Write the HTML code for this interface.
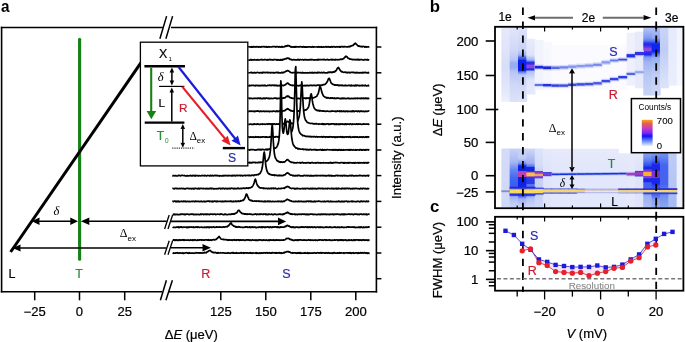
<!DOCTYPE html>
<html><head><meta charset="utf-8"><style>
html,body{margin:0;padding:0;background:#fff;width:685px;height:342px;overflow:hidden}
svg{display:block;will-change:transform}

</style></head><body>
<svg width="685" height="342" viewBox="0 0 685 342">
<rect width="685" height="342" fill="#fff"/>
<text transform="translate(1.1,11.5) scale(0.91,1)" font-size="16.8" text-anchor="start" fill="#000" font-family='"Liberation Sans", sans-serif' font-weight="bold">a</text>
<polygon points="248.3,47.08 248.8,46.87 249.3,46.99 249.8,46.83 250.3,46.81 250.8,47.20 251.3,47.24 251.8,46.66 252.3,47.07 252.8,47.08 253.3,46.55 253.8,46.92 254.3,46.66 254.8,46.92 255.3,46.80 255.8,47.14 256.3,46.80 256.8,46.64 257.3,46.88 257.8,46.73 258.3,46.78 258.8,47.20 259.3,46.72 259.8,46.83 260.3,47.04 260.8,47.23 261.3,46.64 261.8,46.92 262.3,46.75 262.8,46.63 263.3,46.75 263.8,46.60 264.3,46.97 264.8,46.69 265.3,46.94 265.8,46.59 266.3,46.63 266.8,47.18 267.3,47.15 267.8,47.10 268.3,46.57 268.8,46.94 269.3,46.81 269.8,47.04 270.3,46.89 270.8,46.98 271.3,47.00 271.8,46.84 272.3,46.84 272.8,46.62 273.3,46.77 273.8,46.60 274.3,46.65 274.8,46.55 275.3,46.78 275.8,47.13 276.3,46.65 276.8,46.57 277.3,46.61 277.8,46.85 278.3,46.75 278.8,47.10 279.3,46.67 279.8,46.85 280.3,47.05 280.8,47.20 281.3,46.65 281.8,46.55 282.3,47.17 282.8,46.65 283.3,46.88 283.8,47.00 284.3,46.80 284.8,46.33 285.3,46.09 285.8,46.47 286.3,45.88 286.8,46.12 287.3,45.56 287.8,45.82 288.3,45.51 288.8,45.59 289.3,46.11 289.8,45.96 290.3,46.62 290.8,46.93 291.3,46.67 291.8,47.14 292.3,47.06 292.8,46.94 293.3,46.81 293.8,47.13 294.3,47.22 294.8,46.64 295.3,47.03 295.8,46.58 296.3,46.62 296.8,46.98 297.3,46.92 297.8,46.88 298.3,46.80 298.8,46.83 299.3,46.85 299.8,46.81 300.3,46.59 300.8,46.89 301.3,46.94 301.8,46.74 302.3,47.08 302.8,47.03 303.3,46.56 303.8,46.88 304.3,46.86 304.8,47.24 305.3,46.95 305.8,46.84 306.3,47.23 306.8,46.81 307.3,46.80 307.8,47.20 308.3,46.80 308.8,46.92 309.3,46.77 309.8,47.00 310.3,46.75 310.8,46.73 311.3,47.23 311.8,47.20 312.3,46.77 312.8,46.57 313.3,47.07 313.8,46.92 314.3,46.83 314.8,47.02 315.3,46.99 315.8,47.02 316.3,46.98 316.8,46.82 317.3,47.03 317.8,46.98 318.3,46.70 318.8,47.22 319.3,46.84 319.8,46.73 320.3,47.02 320.8,47.08 321.3,46.68 321.8,47.07 322.3,47.11 322.8,46.93 323.3,46.75 323.8,47.17 324.3,47.01 324.8,47.00 325.3,46.65 325.8,46.93 326.3,46.64 326.8,47.12 327.3,47.00 327.8,46.78 328.3,46.61 328.8,46.92 329.3,47.07 329.8,47.15 330.3,46.86 330.8,47.09 331.3,46.66 331.8,46.64 332.3,47.10 332.8,47.03 333.3,46.66 333.8,46.77 334.3,46.66 334.8,46.98 335.3,47.13 335.8,47.01 336.3,46.66 336.8,47.02 337.3,46.97 337.8,46.92 338.3,46.91 338.8,46.92 339.3,46.55 339.8,47.09 340.3,47.19 340.8,46.53 341.3,46.57 341.8,46.49 342.3,46.87 342.8,46.50 343.3,46.51 343.8,47.00 344.3,46.62 344.8,46.55 345.3,46.66 345.8,46.75 346.3,46.89 346.8,46.84 347.3,46.89 347.8,46.98 348.3,46.58 348.8,46.76 349.3,46.34 349.8,46.82 350.3,46.15 350.8,46.20 351.3,45.91 351.8,45.77 352.3,45.54 352.8,45.46 353.3,45.44 353.8,44.40 354.3,44.19 354.8,43.59 355.3,43.20 355.8,43.61 356.3,44.26 356.8,44.49 357.3,45.20 357.8,45.76 358.3,46.09 358.8,45.86 359.3,46.28 359.8,46.18 360.3,46.56 360.8,46.74 361.3,46.56 361.8,46.40 362.3,46.89 362.8,46.48 363.3,46.42 363.8,46.52 364.3,46.52 364.8,47.11 365.3,46.69 365.8,46.53 366.3,47.11 366.8,46.97 367.3,46.98 367.8,46.80 368.3,46.88 368.8,46.85 369.3,46.64 369.6,47.50 248.3,47.50" fill="#fff"/>
<polyline points="248.3,47.08 248.8,46.87 249.3,46.99 249.8,46.83 250.3,46.81 250.8,47.20 251.3,47.24 251.8,46.66 252.3,47.07 252.8,47.08 253.3,46.55 253.8,46.92 254.3,46.66 254.8,46.92 255.3,46.80 255.8,47.14 256.3,46.80 256.8,46.64 257.3,46.88 257.8,46.73 258.3,46.78 258.8,47.20 259.3,46.72 259.8,46.83 260.3,47.04 260.8,47.23 261.3,46.64 261.8,46.92 262.3,46.75 262.8,46.63 263.3,46.75 263.8,46.60 264.3,46.97 264.8,46.69 265.3,46.94 265.8,46.59 266.3,46.63 266.8,47.18 267.3,47.15 267.8,47.10 268.3,46.57 268.8,46.94 269.3,46.81 269.8,47.04 270.3,46.89 270.8,46.98 271.3,47.00 271.8,46.84 272.3,46.84 272.8,46.62 273.3,46.77 273.8,46.60 274.3,46.65 274.8,46.55 275.3,46.78 275.8,47.13 276.3,46.65 276.8,46.57 277.3,46.61 277.8,46.85 278.3,46.75 278.8,47.10 279.3,46.67 279.8,46.85 280.3,47.05 280.8,47.20 281.3,46.65 281.8,46.55 282.3,47.17 282.8,46.65 283.3,46.88 283.8,47.00 284.3,46.80 284.8,46.33 285.3,46.09 285.8,46.47 286.3,45.88 286.8,46.12 287.3,45.56 287.8,45.82 288.3,45.51 288.8,45.59 289.3,46.11 289.8,45.96 290.3,46.62 290.8,46.93 291.3,46.67 291.8,47.14 292.3,47.06 292.8,46.94 293.3,46.81 293.8,47.13 294.3,47.22 294.8,46.64 295.3,47.03 295.8,46.58 296.3,46.62 296.8,46.98 297.3,46.92 297.8,46.88 298.3,46.80 298.8,46.83 299.3,46.85 299.8,46.81 300.3,46.59 300.8,46.89 301.3,46.94 301.8,46.74 302.3,47.08 302.8,47.03 303.3,46.56 303.8,46.88 304.3,46.86 304.8,47.24 305.3,46.95 305.8,46.84 306.3,47.23 306.8,46.81 307.3,46.80 307.8,47.20 308.3,46.80 308.8,46.92 309.3,46.77 309.8,47.00 310.3,46.75 310.8,46.73 311.3,47.23 311.8,47.20 312.3,46.77 312.8,46.57 313.3,47.07 313.8,46.92 314.3,46.83 314.8,47.02 315.3,46.99 315.8,47.02 316.3,46.98 316.8,46.82 317.3,47.03 317.8,46.98 318.3,46.70 318.8,47.22 319.3,46.84 319.8,46.73 320.3,47.02 320.8,47.08 321.3,46.68 321.8,47.07 322.3,47.11 322.8,46.93 323.3,46.75 323.8,47.17 324.3,47.01 324.8,47.00 325.3,46.65 325.8,46.93 326.3,46.64 326.8,47.12 327.3,47.00 327.8,46.78 328.3,46.61 328.8,46.92 329.3,47.07 329.8,47.15 330.3,46.86 330.8,47.09 331.3,46.66 331.8,46.64 332.3,47.10 332.8,47.03 333.3,46.66 333.8,46.77 334.3,46.66 334.8,46.98 335.3,47.13 335.8,47.01 336.3,46.66 336.8,47.02 337.3,46.97 337.8,46.92 338.3,46.91 338.8,46.92 339.3,46.55 339.8,47.09 340.3,47.19 340.8,46.53 341.3,46.57 341.8,46.49 342.3,46.87 342.8,46.50 343.3,46.51 343.8,47.00 344.3,46.62 344.8,46.55 345.3,46.66 345.8,46.75 346.3,46.89 346.8,46.84 347.3,46.89 347.8,46.98 348.3,46.58 348.8,46.76 349.3,46.34 349.8,46.82 350.3,46.15 350.8,46.20 351.3,45.91 351.8,45.77 352.3,45.54 352.8,45.46 353.3,45.44 353.8,44.40 354.3,44.19 354.8,43.59 355.3,43.20 355.8,43.61 356.3,44.26 356.8,44.49 357.3,45.20 357.8,45.76 358.3,46.09 358.8,45.86 359.3,46.28 359.8,46.18 360.3,46.56 360.8,46.74 361.3,46.56 361.8,46.40 362.3,46.89 362.8,46.48 363.3,46.42 363.8,46.52 364.3,46.52 364.8,47.11 365.3,46.69 365.8,46.53 366.3,47.11 366.8,46.97 367.3,46.98 367.8,46.80 368.3,46.88 368.8,46.85 369.3,46.64" fill="none" stroke="#000" stroke-width="1.7" stroke-linejoin="round"/>
<polygon points="248.3,60.13 248.8,60.09 249.3,60.04 249.8,60.04 250.3,60.08 250.8,59.45 251.3,59.53 251.8,60.07 252.3,59.78 252.8,59.91 253.3,59.91 253.8,59.88 254.3,59.68 254.8,59.72 255.3,59.88 255.8,59.99 256.3,59.90 256.8,60.04 257.3,59.74 257.8,59.63 258.3,59.86 258.8,60.07 259.3,60.00 259.8,59.87 260.3,59.71 260.8,59.58 261.3,59.86 261.8,59.57 262.3,59.69 262.8,59.83 263.3,59.87 263.8,59.78 264.3,59.64 264.8,59.83 265.3,59.64 265.8,59.81 266.3,59.96 266.8,59.75 267.3,59.64 267.8,60.08 268.3,59.83 268.8,59.83 269.3,59.51 269.8,59.47 270.3,59.87 270.8,59.50 271.3,59.57 271.8,59.94 272.3,59.80 272.8,60.04 273.3,59.56 273.8,59.66 274.3,59.51 274.8,59.57 275.3,59.66 275.8,59.61 276.3,59.73 276.8,60.06 277.3,59.72 277.8,60.12 278.3,60.03 278.8,59.59 279.3,60.10 279.8,60.06 280.3,60.06 280.8,59.51 281.3,60.00 281.8,60.10 282.3,59.51 282.8,59.99 283.3,59.43 283.8,59.47 284.3,59.22 284.8,58.96 285.3,58.99 285.8,58.58 286.3,58.86 286.8,58.13 287.3,58.19 287.8,58.04 288.3,58.56 288.8,58.31 289.3,58.43 289.8,59.30 290.3,59.35 290.8,59.38 291.3,59.34 291.8,59.84 292.3,59.94 292.8,59.92 293.3,59.68 293.8,59.59 294.3,59.85 294.8,59.87 295.3,59.85 295.8,59.88 296.3,59.83 296.8,60.07 297.3,59.77 297.8,59.44 298.3,59.84 298.8,59.60 299.3,60.01 299.8,59.64 300.3,59.59 300.8,59.65 301.3,59.76 301.8,59.79 302.3,59.67 302.8,59.50 303.3,60.02 303.8,60.06 304.3,59.60 304.8,59.48 305.3,59.76 305.8,59.81 306.3,59.62 306.8,59.99 307.3,59.93 307.8,59.98 308.3,59.71 308.8,59.90 309.3,59.96 309.8,59.64 310.3,59.45 310.8,59.91 311.3,59.63 311.8,59.83 312.3,59.52 312.8,59.71 313.3,59.93 313.8,59.97 314.3,60.10 314.8,59.78 315.3,59.85 315.8,60.00 316.3,59.86 316.8,59.89 317.3,59.57 317.8,60.01 318.3,59.42 318.8,59.78 319.3,59.69 319.8,59.78 320.3,59.53 320.8,59.54 321.3,59.72 321.8,59.77 322.3,59.60 322.8,59.51 323.3,59.83 323.8,59.59 324.3,59.43 324.8,59.78 325.3,59.94 325.8,59.94 326.3,59.60 326.8,59.62 327.3,59.42 327.8,59.50 328.3,59.92 328.8,59.96 329.3,59.91 329.8,59.95 330.3,59.59 330.8,59.48 331.3,59.45 331.8,59.89 332.3,59.46 332.8,59.84 333.3,59.76 333.8,59.54 334.3,59.98 334.8,59.97 335.3,59.44 335.8,59.81 336.3,59.76 336.8,59.59 337.3,59.51 337.8,59.96 338.3,59.71 338.8,59.61 339.3,59.54 339.8,59.70 340.3,59.39 340.8,59.07 341.3,59.40 341.8,59.19 342.3,59.37 342.8,59.09 343.3,58.59 343.8,58.67 344.3,57.72 344.8,57.18 345.3,57.17 345.8,56.15 346.3,56.51 346.8,56.60 347.3,57.17 347.8,58.03 348.3,58.20 348.8,58.55 349.3,58.68 349.8,59.23 350.3,59.02 350.8,58.98 351.3,59.26 351.8,59.41 352.3,59.76 352.8,59.53 353.3,59.66 353.8,59.43 354.3,59.48 354.8,59.58 355.3,59.86 355.8,59.55 356.3,59.57 356.8,59.90 357.3,59.41 357.8,59.58 358.3,59.96 358.8,59.40 359.3,59.96 359.8,59.83 360.3,59.57 360.8,59.66 361.3,59.69 361.8,59.63 362.3,59.76 362.8,59.87 363.3,59.97 363.8,60.04 364.3,59.59 364.8,59.57 365.3,59.72 365.8,59.58 366.3,59.85 366.8,59.92 367.3,59.83 367.8,59.49 368.3,60.08 368.8,59.75 369.3,59.93 369.6,60.38 248.3,60.38" fill="#fff"/>
<polyline points="248.3,60.13 248.8,60.09 249.3,60.04 249.8,60.04 250.3,60.08 250.8,59.45 251.3,59.53 251.8,60.07 252.3,59.78 252.8,59.91 253.3,59.91 253.8,59.88 254.3,59.68 254.8,59.72 255.3,59.88 255.8,59.99 256.3,59.90 256.8,60.04 257.3,59.74 257.8,59.63 258.3,59.86 258.8,60.07 259.3,60.00 259.8,59.87 260.3,59.71 260.8,59.58 261.3,59.86 261.8,59.57 262.3,59.69 262.8,59.83 263.3,59.87 263.8,59.78 264.3,59.64 264.8,59.83 265.3,59.64 265.8,59.81 266.3,59.96 266.8,59.75 267.3,59.64 267.8,60.08 268.3,59.83 268.8,59.83 269.3,59.51 269.8,59.47 270.3,59.87 270.8,59.50 271.3,59.57 271.8,59.94 272.3,59.80 272.8,60.04 273.3,59.56 273.8,59.66 274.3,59.51 274.8,59.57 275.3,59.66 275.8,59.61 276.3,59.73 276.8,60.06 277.3,59.72 277.8,60.12 278.3,60.03 278.8,59.59 279.3,60.10 279.8,60.06 280.3,60.06 280.8,59.51 281.3,60.00 281.8,60.10 282.3,59.51 282.8,59.99 283.3,59.43 283.8,59.47 284.3,59.22 284.8,58.96 285.3,58.99 285.8,58.58 286.3,58.86 286.8,58.13 287.3,58.19 287.8,58.04 288.3,58.56 288.8,58.31 289.3,58.43 289.8,59.30 290.3,59.35 290.8,59.38 291.3,59.34 291.8,59.84 292.3,59.94 292.8,59.92 293.3,59.68 293.8,59.59 294.3,59.85 294.8,59.87 295.3,59.85 295.8,59.88 296.3,59.83 296.8,60.07 297.3,59.77 297.8,59.44 298.3,59.84 298.8,59.60 299.3,60.01 299.8,59.64 300.3,59.59 300.8,59.65 301.3,59.76 301.8,59.79 302.3,59.67 302.8,59.50 303.3,60.02 303.8,60.06 304.3,59.60 304.8,59.48 305.3,59.76 305.8,59.81 306.3,59.62 306.8,59.99 307.3,59.93 307.8,59.98 308.3,59.71 308.8,59.90 309.3,59.96 309.8,59.64 310.3,59.45 310.8,59.91 311.3,59.63 311.8,59.83 312.3,59.52 312.8,59.71 313.3,59.93 313.8,59.97 314.3,60.10 314.8,59.78 315.3,59.85 315.8,60.00 316.3,59.86 316.8,59.89 317.3,59.57 317.8,60.01 318.3,59.42 318.8,59.78 319.3,59.69 319.8,59.78 320.3,59.53 320.8,59.54 321.3,59.72 321.8,59.77 322.3,59.60 322.8,59.51 323.3,59.83 323.8,59.59 324.3,59.43 324.8,59.78 325.3,59.94 325.8,59.94 326.3,59.60 326.8,59.62 327.3,59.42 327.8,59.50 328.3,59.92 328.8,59.96 329.3,59.91 329.8,59.95 330.3,59.59 330.8,59.48 331.3,59.45 331.8,59.89 332.3,59.46 332.8,59.84 333.3,59.76 333.8,59.54 334.3,59.98 334.8,59.97 335.3,59.44 335.8,59.81 336.3,59.76 336.8,59.59 337.3,59.51 337.8,59.96 338.3,59.71 338.8,59.61 339.3,59.54 339.8,59.70 340.3,59.39 340.8,59.07 341.3,59.40 341.8,59.19 342.3,59.37 342.8,59.09 343.3,58.59 343.8,58.67 344.3,57.72 344.8,57.18 345.3,57.17 345.8,56.15 346.3,56.51 346.8,56.60 347.3,57.17 347.8,58.03 348.3,58.20 348.8,58.55 349.3,58.68 349.8,59.23 350.3,59.02 350.8,58.98 351.3,59.26 351.8,59.41 352.3,59.76 352.8,59.53 353.3,59.66 353.8,59.43 354.3,59.48 354.8,59.58 355.3,59.86 355.8,59.55 356.3,59.57 356.8,59.90 357.3,59.41 357.8,59.58 358.3,59.96 358.8,59.40 359.3,59.96 359.8,59.83 360.3,59.57 360.8,59.66 361.3,59.69 361.8,59.63 362.3,59.76 362.8,59.87 363.3,59.97 363.8,60.04 364.3,59.59 364.8,59.57 365.3,59.72 365.8,59.58 366.3,59.85 366.8,59.92 367.3,59.83 367.8,59.49 368.3,60.08 368.8,59.75 369.3,59.93" fill="none" stroke="#000" stroke-width="1.7" stroke-linejoin="round"/>
<polygon points="248.3,72.47 248.8,72.76 249.3,72.77 249.8,72.73 250.3,72.63 250.8,72.47 251.3,72.76 251.8,72.42 252.3,72.93 252.8,72.82 253.3,72.94 253.8,72.93 254.3,72.46 254.8,72.50 255.3,72.88 255.8,72.88 256.3,72.72 256.8,72.49 257.3,72.44 257.8,72.48 258.3,72.59 258.8,72.90 259.3,72.73 259.8,72.87 260.3,72.64 260.8,72.61 261.3,72.87 261.8,72.83 262.3,72.46 262.8,72.99 263.3,72.44 263.8,72.38 264.3,72.34 264.8,72.74 265.3,72.62 265.8,72.60 266.3,72.56 266.8,72.32 267.3,72.53 267.8,72.80 268.3,72.40 268.8,72.67 269.3,72.59 269.8,72.50 270.3,73.00 270.8,72.47 271.3,72.54 271.8,72.66 272.3,72.64 272.8,72.68 273.3,72.87 273.8,72.64 274.3,72.98 274.8,72.66 275.3,72.55 275.8,72.69 276.3,72.61 276.8,72.33 277.3,72.38 277.8,72.91 278.3,72.45 278.8,72.57 279.3,72.97 279.8,72.75 280.3,72.84 280.8,72.95 281.3,72.62 281.8,72.34 282.3,72.75 282.8,72.34 283.3,72.40 283.8,72.70 284.3,72.04 284.8,72.02 285.3,71.53 285.8,71.39 286.3,71.08 286.8,71.13 287.3,70.66 287.8,70.56 288.3,70.73 288.8,71.24 289.3,71.30 289.8,71.78 290.3,72.31 290.8,72.58 291.3,72.71 291.8,72.73 292.3,72.82 292.8,72.62 293.3,72.50 293.8,72.62 294.3,72.70 294.8,72.55 295.3,72.79 295.8,72.68 296.3,72.47 296.8,72.72 297.3,72.87 297.8,72.37 298.3,72.50 298.8,72.74 299.3,72.74 299.8,72.63 300.3,72.58 300.8,72.84 301.3,73.00 301.8,72.85 302.3,72.45 302.8,72.90 303.3,72.67 303.8,72.86 304.3,72.85 304.8,72.88 305.3,72.71 305.8,72.88 306.3,72.97 306.8,72.92 307.3,72.88 307.8,72.65 308.3,72.95 308.8,72.98 309.3,72.68 309.8,72.70 310.3,72.50 310.8,72.95 311.3,72.71 311.8,72.71 312.3,72.97 312.8,72.31 313.3,72.83 313.8,72.92 314.3,72.65 314.8,72.87 315.3,72.54 315.8,72.74 316.3,72.89 316.8,72.94 317.3,72.46 317.8,72.78 318.3,72.42 318.8,72.64 319.3,72.31 319.8,72.75 320.3,72.78 320.8,72.77 321.3,72.38 321.8,72.51 322.3,72.71 322.8,72.88 323.3,72.46 323.8,72.25 324.3,72.51 324.8,72.92 325.3,72.89 325.8,72.84 326.3,72.78 326.8,72.86 327.3,72.84 327.8,72.41 328.3,72.22 328.8,72.69 329.3,72.13 329.8,72.46 330.3,72.20 330.8,72.09 331.3,72.03 331.8,72.62 332.3,72.37 332.8,72.09 333.3,71.75 333.8,72.23 334.3,71.93 334.8,71.32 335.3,71.54 335.8,70.94 336.3,70.41 336.8,69.42 337.3,68.36 337.8,68.12 338.3,67.51 338.8,68.00 339.3,68.78 339.8,69.83 340.3,70.25 340.8,71.14 341.3,71.46 341.8,71.85 342.3,71.66 342.8,72.01 343.3,72.27 343.8,72.42 344.3,72.11 344.8,72.24 345.3,72.21 345.8,72.47 346.3,72.43 346.8,72.69 347.3,72.32 347.8,72.82 348.3,72.53 348.8,72.34 349.3,72.41 349.8,72.82 350.3,72.74 350.8,72.32 351.3,72.47 351.8,72.31 352.3,72.32 352.8,72.62 353.3,72.31 353.8,72.43 354.3,72.71 354.8,72.69 355.3,72.90 355.8,72.68 356.3,72.29 356.8,72.89 357.3,72.57 357.8,72.89 358.3,72.91 358.8,72.52 359.3,72.81 359.8,72.94 360.3,72.87 360.8,72.53 361.3,72.57 361.8,72.97 362.3,72.82 362.8,72.31 363.3,72.83 363.8,72.59 364.3,72.69 364.8,72.44 365.3,72.56 365.8,72.44 366.3,72.61 366.8,72.86 367.3,72.87 367.8,72.94 368.3,72.41 368.8,72.91 369.3,72.98 369.6,73.26 248.3,73.26" fill="#fff"/>
<polyline points="248.3,72.47 248.8,72.76 249.3,72.77 249.8,72.73 250.3,72.63 250.8,72.47 251.3,72.76 251.8,72.42 252.3,72.93 252.8,72.82 253.3,72.94 253.8,72.93 254.3,72.46 254.8,72.50 255.3,72.88 255.8,72.88 256.3,72.72 256.8,72.49 257.3,72.44 257.8,72.48 258.3,72.59 258.8,72.90 259.3,72.73 259.8,72.87 260.3,72.64 260.8,72.61 261.3,72.87 261.8,72.83 262.3,72.46 262.8,72.99 263.3,72.44 263.8,72.38 264.3,72.34 264.8,72.74 265.3,72.62 265.8,72.60 266.3,72.56 266.8,72.32 267.3,72.53 267.8,72.80 268.3,72.40 268.8,72.67 269.3,72.59 269.8,72.50 270.3,73.00 270.8,72.47 271.3,72.54 271.8,72.66 272.3,72.64 272.8,72.68 273.3,72.87 273.8,72.64 274.3,72.98 274.8,72.66 275.3,72.55 275.8,72.69 276.3,72.61 276.8,72.33 277.3,72.38 277.8,72.91 278.3,72.45 278.8,72.57 279.3,72.97 279.8,72.75 280.3,72.84 280.8,72.95 281.3,72.62 281.8,72.34 282.3,72.75 282.8,72.34 283.3,72.40 283.8,72.70 284.3,72.04 284.8,72.02 285.3,71.53 285.8,71.39 286.3,71.08 286.8,71.13 287.3,70.66 287.8,70.56 288.3,70.73 288.8,71.24 289.3,71.30 289.8,71.78 290.3,72.31 290.8,72.58 291.3,72.71 291.8,72.73 292.3,72.82 292.8,72.62 293.3,72.50 293.8,72.62 294.3,72.70 294.8,72.55 295.3,72.79 295.8,72.68 296.3,72.47 296.8,72.72 297.3,72.87 297.8,72.37 298.3,72.50 298.8,72.74 299.3,72.74 299.8,72.63 300.3,72.58 300.8,72.84 301.3,73.00 301.8,72.85 302.3,72.45 302.8,72.90 303.3,72.67 303.8,72.86 304.3,72.85 304.8,72.88 305.3,72.71 305.8,72.88 306.3,72.97 306.8,72.92 307.3,72.88 307.8,72.65 308.3,72.95 308.8,72.98 309.3,72.68 309.8,72.70 310.3,72.50 310.8,72.95 311.3,72.71 311.8,72.71 312.3,72.97 312.8,72.31 313.3,72.83 313.8,72.92 314.3,72.65 314.8,72.87 315.3,72.54 315.8,72.74 316.3,72.89 316.8,72.94 317.3,72.46 317.8,72.78 318.3,72.42 318.8,72.64 319.3,72.31 319.8,72.75 320.3,72.78 320.8,72.77 321.3,72.38 321.8,72.51 322.3,72.71 322.8,72.88 323.3,72.46 323.8,72.25 324.3,72.51 324.8,72.92 325.3,72.89 325.8,72.84 326.3,72.78 326.8,72.86 327.3,72.84 327.8,72.41 328.3,72.22 328.8,72.69 329.3,72.13 329.8,72.46 330.3,72.20 330.8,72.09 331.3,72.03 331.8,72.62 332.3,72.37 332.8,72.09 333.3,71.75 333.8,72.23 334.3,71.93 334.8,71.32 335.3,71.54 335.8,70.94 336.3,70.41 336.8,69.42 337.3,68.36 337.8,68.12 338.3,67.51 338.8,68.00 339.3,68.78 339.8,69.83 340.3,70.25 340.8,71.14 341.3,71.46 341.8,71.85 342.3,71.66 342.8,72.01 343.3,72.27 343.8,72.42 344.3,72.11 344.8,72.24 345.3,72.21 345.8,72.47 346.3,72.43 346.8,72.69 347.3,72.32 347.8,72.82 348.3,72.53 348.8,72.34 349.3,72.41 349.8,72.82 350.3,72.74 350.8,72.32 351.3,72.47 351.8,72.31 352.3,72.32 352.8,72.62 353.3,72.31 353.8,72.43 354.3,72.71 354.8,72.69 355.3,72.90 355.8,72.68 356.3,72.29 356.8,72.89 357.3,72.57 357.8,72.89 358.3,72.91 358.8,72.52 359.3,72.81 359.8,72.94 360.3,72.87 360.8,72.53 361.3,72.57 361.8,72.97 362.3,72.82 362.8,72.31 363.3,72.83 363.8,72.59 364.3,72.69 364.8,72.44 365.3,72.56 365.8,72.44 366.3,72.61 366.8,72.86 367.3,72.87 367.8,72.94 368.3,72.41 368.8,72.91 369.3,72.98" fill="none" stroke="#000" stroke-width="1.7" stroke-linejoin="round"/>
<polygon points="248.3,85.21 248.8,85.75 249.3,85.26 249.8,85.83 250.3,85.56 250.8,85.73 251.3,85.31 251.8,85.46 252.3,85.44 252.8,85.35 253.3,85.28 253.8,85.64 254.3,85.46 254.8,85.57 255.3,85.81 255.8,85.30 256.3,85.47 256.8,85.32 257.3,85.74 257.8,85.51 258.3,85.56 258.8,85.38 259.3,85.83 259.8,85.64 260.3,85.55 260.8,85.83 261.3,85.50 261.8,85.37 262.3,85.59 262.8,85.43 263.3,85.46 263.8,85.73 264.3,85.64 264.8,85.19 265.3,85.65 265.8,85.58 266.3,85.83 266.8,85.73 267.3,85.77 267.8,85.23 268.3,85.38 268.8,85.27 269.3,85.19 269.8,85.45 270.3,85.23 270.8,85.51 271.3,85.59 271.8,85.22 272.3,85.25 272.8,85.22 273.3,85.54 273.8,85.34 274.3,85.60 274.8,85.18 275.3,85.24 275.8,85.68 276.3,85.23 276.8,85.75 277.3,85.81 277.8,85.38 278.3,85.67 278.8,85.52 279.3,85.43 279.8,85.85 280.3,85.36 280.8,85.68 281.3,85.57 281.8,85.62 282.3,85.33 282.8,85.29 283.3,85.55 283.8,85.57 284.3,85.27 284.8,84.96 285.3,84.91 285.8,84.53 286.3,83.79 286.8,83.57 287.3,83.22 287.8,83.20 288.3,83.40 288.8,84.00 289.3,84.46 289.8,84.68 290.3,84.87 290.8,85.07 291.3,85.23 291.8,85.47 292.3,85.20 292.8,85.64 293.3,85.53 293.8,85.24 294.3,85.30 294.8,85.66 295.3,85.70 295.8,85.30 296.3,85.86 296.8,85.78 297.3,85.50 297.8,85.49 298.3,85.75 298.8,85.83 299.3,85.72 299.8,85.32 300.3,85.54 300.8,85.18 301.3,85.31 301.8,85.17 302.3,85.83 302.8,85.73 303.3,85.85 303.8,85.55 304.3,85.61 304.8,85.81 305.3,85.47 305.8,85.78 306.3,85.63 306.8,85.67 307.3,85.28 307.8,85.55 308.3,85.65 308.8,85.80 309.3,85.53 309.8,85.39 310.3,85.35 310.8,85.18 311.3,85.25 311.8,85.64 312.3,85.71 312.8,85.27 313.3,85.24 313.8,85.43 314.3,85.20 314.8,85.39 315.3,85.57 315.8,85.64 316.3,85.73 316.8,85.28 317.3,85.09 317.8,85.07 318.3,85.36 318.8,85.20 319.3,85.00 319.8,85.05 320.3,85.17 320.8,85.26 321.3,85.14 321.8,85.34 322.3,85.26 322.8,84.83 323.3,84.52 323.8,84.71 324.3,84.65 324.8,84.48 325.3,84.13 325.8,83.51 326.3,83.24 326.8,82.17 327.3,81.76 327.8,80.43 328.3,79.04 328.8,78.42 329.3,78.43 329.8,79.55 330.3,80.75 330.8,82.06 331.3,83.28 331.8,83.49 332.3,83.93 332.8,84.28 333.3,84.66 333.8,84.54 334.3,84.53 334.8,85.21 335.3,84.89 335.8,85.17 336.3,85.13 336.8,84.91 337.3,84.90 337.8,85.16 338.3,85.50 338.8,85.02 339.3,85.55 339.8,85.43 340.3,85.14 340.8,85.51 341.3,85.55 341.8,85.09 342.3,85.10 342.8,85.55 343.3,85.50 343.8,85.59 344.3,85.70 344.8,85.62 345.3,85.12 345.8,85.75 346.3,85.65 346.8,85.68 347.3,85.77 347.8,85.46 348.3,85.31 348.8,85.24 349.3,85.39 349.8,85.26 350.3,85.84 350.8,85.64 351.3,85.17 351.8,85.80 352.3,85.66 352.8,85.51 353.3,85.66 353.8,85.47 354.3,85.82 354.8,85.69 355.3,85.19 355.8,85.76 356.3,85.23 356.8,85.74 357.3,85.17 357.8,85.39 358.3,85.41 358.8,85.76 359.3,85.83 359.8,85.33 360.3,85.74 360.8,85.73 361.3,85.29 361.8,85.26 362.3,85.83 362.8,85.20 363.3,85.50 363.8,85.60 364.3,85.80 364.8,85.60 365.3,85.18 365.8,85.68 366.3,85.78 366.8,85.77 367.3,85.79 367.8,85.63 368.3,85.23 368.8,85.82 369.3,85.74 369.6,86.14 248.3,86.14" fill="#fff"/>
<polyline points="248.3,85.21 248.8,85.75 249.3,85.26 249.8,85.83 250.3,85.56 250.8,85.73 251.3,85.31 251.8,85.46 252.3,85.44 252.8,85.35 253.3,85.28 253.8,85.64 254.3,85.46 254.8,85.57 255.3,85.81 255.8,85.30 256.3,85.47 256.8,85.32 257.3,85.74 257.8,85.51 258.3,85.56 258.8,85.38 259.3,85.83 259.8,85.64 260.3,85.55 260.8,85.83 261.3,85.50 261.8,85.37 262.3,85.59 262.8,85.43 263.3,85.46 263.8,85.73 264.3,85.64 264.8,85.19 265.3,85.65 265.8,85.58 266.3,85.83 266.8,85.73 267.3,85.77 267.8,85.23 268.3,85.38 268.8,85.27 269.3,85.19 269.8,85.45 270.3,85.23 270.8,85.51 271.3,85.59 271.8,85.22 272.3,85.25 272.8,85.22 273.3,85.54 273.8,85.34 274.3,85.60 274.8,85.18 275.3,85.24 275.8,85.68 276.3,85.23 276.8,85.75 277.3,85.81 277.8,85.38 278.3,85.67 278.8,85.52 279.3,85.43 279.8,85.85 280.3,85.36 280.8,85.68 281.3,85.57 281.8,85.62 282.3,85.33 282.8,85.29 283.3,85.55 283.8,85.57 284.3,85.27 284.8,84.96 285.3,84.91 285.8,84.53 286.3,83.79 286.8,83.57 287.3,83.22 287.8,83.20 288.3,83.40 288.8,84.00 289.3,84.46 289.8,84.68 290.3,84.87 290.8,85.07 291.3,85.23 291.8,85.47 292.3,85.20 292.8,85.64 293.3,85.53 293.8,85.24 294.3,85.30 294.8,85.66 295.3,85.70 295.8,85.30 296.3,85.86 296.8,85.78 297.3,85.50 297.8,85.49 298.3,85.75 298.8,85.83 299.3,85.72 299.8,85.32 300.3,85.54 300.8,85.18 301.3,85.31 301.8,85.17 302.3,85.83 302.8,85.73 303.3,85.85 303.8,85.55 304.3,85.61 304.8,85.81 305.3,85.47 305.8,85.78 306.3,85.63 306.8,85.67 307.3,85.28 307.8,85.55 308.3,85.65 308.8,85.80 309.3,85.53 309.8,85.39 310.3,85.35 310.8,85.18 311.3,85.25 311.8,85.64 312.3,85.71 312.8,85.27 313.3,85.24 313.8,85.43 314.3,85.20 314.8,85.39 315.3,85.57 315.8,85.64 316.3,85.73 316.8,85.28 317.3,85.09 317.8,85.07 318.3,85.36 318.8,85.20 319.3,85.00 319.8,85.05 320.3,85.17 320.8,85.26 321.3,85.14 321.8,85.34 322.3,85.26 322.8,84.83 323.3,84.52 323.8,84.71 324.3,84.65 324.8,84.48 325.3,84.13 325.8,83.51 326.3,83.24 326.8,82.17 327.3,81.76 327.8,80.43 328.3,79.04 328.8,78.42 329.3,78.43 329.8,79.55 330.3,80.75 330.8,82.06 331.3,83.28 331.8,83.49 332.3,83.93 332.8,84.28 333.3,84.66 333.8,84.54 334.3,84.53 334.8,85.21 335.3,84.89 335.8,85.17 336.3,85.13 336.8,84.91 337.3,84.90 337.8,85.16 338.3,85.50 338.8,85.02 339.3,85.55 339.8,85.43 340.3,85.14 340.8,85.51 341.3,85.55 341.8,85.09 342.3,85.10 342.8,85.55 343.3,85.50 343.8,85.59 344.3,85.70 344.8,85.62 345.3,85.12 345.8,85.75 346.3,85.65 346.8,85.68 347.3,85.77 347.8,85.46 348.3,85.31 348.8,85.24 349.3,85.39 349.8,85.26 350.3,85.84 350.8,85.64 351.3,85.17 351.8,85.80 352.3,85.66 352.8,85.51 353.3,85.66 353.8,85.47 354.3,85.82 354.8,85.69 355.3,85.19 355.8,85.76 356.3,85.23 356.8,85.74 357.3,85.17 357.8,85.39 358.3,85.41 358.8,85.76 359.3,85.83 359.8,85.33 360.3,85.74 360.8,85.73 361.3,85.29 361.8,85.26 362.3,85.83 362.8,85.20 363.3,85.50 363.8,85.60 364.3,85.80 364.8,85.60 365.3,85.18 365.8,85.68 366.3,85.78 366.8,85.77 367.3,85.79 367.8,85.63 368.3,85.23 368.8,85.82 369.3,85.74" fill="none" stroke="#000" stroke-width="1.7" stroke-linejoin="round"/>
<polygon points="248.3,98.11 248.8,98.07 249.3,98.08 249.8,98.59 250.3,98.51 250.8,98.10 251.3,98.42 251.8,98.27 252.3,98.54 252.8,98.75 253.3,98.52 253.8,98.24 254.3,98.21 254.8,98.36 255.3,98.44 255.8,98.38 256.3,98.45 256.8,98.39 257.3,98.18 257.8,98.62 258.3,98.34 258.8,98.11 259.3,98.17 259.8,98.63 260.3,98.09 260.8,98.17 261.3,98.64 261.8,98.57 262.3,98.62 262.8,98.72 263.3,98.07 263.8,98.47 264.3,98.15 264.8,98.68 265.3,98.75 265.8,98.15 266.3,98.20 266.8,98.06 267.3,98.28 267.8,98.39 268.3,98.22 268.8,98.69 269.3,98.38 269.8,98.45 270.3,98.65 270.8,98.34 271.3,98.53 271.8,98.40 272.3,98.49 272.8,98.53 273.3,98.50 273.8,98.33 274.3,98.07 274.8,98.10 275.3,98.15 275.8,98.17 276.3,98.55 276.8,98.07 277.3,98.56 277.8,98.66 278.3,98.40 278.8,98.24 279.3,98.51 279.8,98.30 280.3,98.55 280.8,98.07 281.3,98.42 281.8,98.40 282.3,98.34 282.8,98.06 283.3,97.91 283.8,98.11 284.3,97.99 284.8,97.62 285.3,97.69 285.8,97.08 286.3,96.43 286.8,96.19 287.3,96.53 287.8,95.95 288.3,96.42 288.8,96.27 289.3,97.04 289.8,97.51 290.3,97.60 290.8,97.63 291.3,98.14 291.8,97.96 292.3,98.14 292.8,98.43 293.3,98.49 293.8,98.36 294.3,98.44 294.8,98.45 295.3,98.26 295.8,98.10 296.3,98.30 296.8,98.60 297.3,98.55 297.8,98.44 298.3,98.27 298.8,98.60 299.3,98.63 299.8,98.46 300.3,98.48 300.8,98.66 301.3,98.30 301.8,98.02 302.3,98.29 302.8,98.14 303.3,98.07 303.8,98.06 304.3,98.00 304.8,98.32 305.3,98.14 305.8,98.52 306.3,97.98 306.8,98.32 307.3,98.23 307.8,97.93 308.3,98.33 308.8,98.38 309.3,97.91 309.8,98.04 310.3,98.37 310.8,98.37 311.3,98.10 311.8,98.29 312.3,97.66 312.8,98.04 313.3,97.89 313.8,97.71 314.3,97.49 314.8,97.39 315.3,97.04 315.8,96.75 316.3,96.55 316.8,96.30 317.3,95.02 317.8,94.28 318.3,93.38 318.8,91.31 319.3,88.87 319.8,86.71 320.3,86.77 320.8,88.09 321.3,89.98 321.8,92.11 322.3,93.39 322.8,94.60 323.3,95.76 323.8,96.29 324.3,96.60 324.8,96.71 325.3,97.43 325.8,97.48 326.3,97.84 326.8,97.57 327.3,98.10 327.8,97.54 328.3,97.90 328.8,97.92 329.3,98.31 329.8,98.24 330.3,98.11 330.8,97.87 331.3,98.12 331.8,98.32 332.3,97.85 332.8,98.09 333.3,98.20 333.8,98.44 334.3,98.39 334.8,97.98 335.3,98.53 335.8,98.26 336.3,98.20 336.8,98.40 337.3,98.11 337.8,98.02 338.3,98.06 338.8,98.15 339.3,98.53 339.8,98.64 340.3,98.38 340.8,98.47 341.3,98.56 341.8,98.09 342.3,98.55 342.8,98.13 343.3,98.05 343.8,98.62 344.3,98.07 344.8,98.43 345.3,98.57 345.8,98.59 346.3,98.69 346.8,98.37 347.3,98.45 347.8,98.13 348.3,98.14 348.8,98.69 349.3,98.45 349.8,98.46 350.3,98.61 350.8,98.56 351.3,98.55 351.8,98.25 352.3,98.50 352.8,98.66 353.3,98.58 353.8,98.43 354.3,98.34 354.8,98.57 355.3,98.25 355.8,98.59 356.3,98.27 356.8,98.32 357.3,98.62 357.8,98.22 358.3,98.47 358.8,98.37 359.3,98.33 359.8,98.31 360.3,98.44 360.8,98.71 361.3,98.20 361.8,98.15 362.3,98.41 362.8,98.35 363.3,98.56 363.8,98.12 364.3,98.27 364.8,98.60 365.3,98.18 365.8,98.06 366.3,98.51 366.8,98.06 367.3,98.42 367.8,98.63 368.3,98.25 368.8,98.52 369.3,98.24 369.6,99.02 248.3,99.02" fill="#fff"/>
<polyline points="248.3,98.11 248.8,98.07 249.3,98.08 249.8,98.59 250.3,98.51 250.8,98.10 251.3,98.42 251.8,98.27 252.3,98.54 252.8,98.75 253.3,98.52 253.8,98.24 254.3,98.21 254.8,98.36 255.3,98.44 255.8,98.38 256.3,98.45 256.8,98.39 257.3,98.18 257.8,98.62 258.3,98.34 258.8,98.11 259.3,98.17 259.8,98.63 260.3,98.09 260.8,98.17 261.3,98.64 261.8,98.57 262.3,98.62 262.8,98.72 263.3,98.07 263.8,98.47 264.3,98.15 264.8,98.68 265.3,98.75 265.8,98.15 266.3,98.20 266.8,98.06 267.3,98.28 267.8,98.39 268.3,98.22 268.8,98.69 269.3,98.38 269.8,98.45 270.3,98.65 270.8,98.34 271.3,98.53 271.8,98.40 272.3,98.49 272.8,98.53 273.3,98.50 273.8,98.33 274.3,98.07 274.8,98.10 275.3,98.15 275.8,98.17 276.3,98.55 276.8,98.07 277.3,98.56 277.8,98.66 278.3,98.40 278.8,98.24 279.3,98.51 279.8,98.30 280.3,98.55 280.8,98.07 281.3,98.42 281.8,98.40 282.3,98.34 282.8,98.06 283.3,97.91 283.8,98.11 284.3,97.99 284.8,97.62 285.3,97.69 285.8,97.08 286.3,96.43 286.8,96.19 287.3,96.53 287.8,95.95 288.3,96.42 288.8,96.27 289.3,97.04 289.8,97.51 290.3,97.60 290.8,97.63 291.3,98.14 291.8,97.96 292.3,98.14 292.8,98.43 293.3,98.49 293.8,98.36 294.3,98.44 294.8,98.45 295.3,98.26 295.8,98.10 296.3,98.30 296.8,98.60 297.3,98.55 297.8,98.44 298.3,98.27 298.8,98.60 299.3,98.63 299.8,98.46 300.3,98.48 300.8,98.66 301.3,98.30 301.8,98.02 302.3,98.29 302.8,98.14 303.3,98.07 303.8,98.06 304.3,98.00 304.8,98.32 305.3,98.14 305.8,98.52 306.3,97.98 306.8,98.32 307.3,98.23 307.8,97.93 308.3,98.33 308.8,98.38 309.3,97.91 309.8,98.04 310.3,98.37 310.8,98.37 311.3,98.10 311.8,98.29 312.3,97.66 312.8,98.04 313.3,97.89 313.8,97.71 314.3,97.49 314.8,97.39 315.3,97.04 315.8,96.75 316.3,96.55 316.8,96.30 317.3,95.02 317.8,94.28 318.3,93.38 318.8,91.31 319.3,88.87 319.8,86.71 320.3,86.77 320.8,88.09 321.3,89.98 321.8,92.11 322.3,93.39 322.8,94.60 323.3,95.76 323.8,96.29 324.3,96.60 324.8,96.71 325.3,97.43 325.8,97.48 326.3,97.84 326.8,97.57 327.3,98.10 327.8,97.54 328.3,97.90 328.8,97.92 329.3,98.31 329.8,98.24 330.3,98.11 330.8,97.87 331.3,98.12 331.8,98.32 332.3,97.85 332.8,98.09 333.3,98.20 333.8,98.44 334.3,98.39 334.8,97.98 335.3,98.53 335.8,98.26 336.3,98.20 336.8,98.40 337.3,98.11 337.8,98.02 338.3,98.06 338.8,98.15 339.3,98.53 339.8,98.64 340.3,98.38 340.8,98.47 341.3,98.56 341.8,98.09 342.3,98.55 342.8,98.13 343.3,98.05 343.8,98.62 344.3,98.07 344.8,98.43 345.3,98.57 345.8,98.59 346.3,98.69 346.8,98.37 347.3,98.45 347.8,98.13 348.3,98.14 348.8,98.69 349.3,98.45 349.8,98.46 350.3,98.61 350.8,98.56 351.3,98.55 351.8,98.25 352.3,98.50 352.8,98.66 353.3,98.58 353.8,98.43 354.3,98.34 354.8,98.57 355.3,98.25 355.8,98.59 356.3,98.27 356.8,98.32 357.3,98.62 357.8,98.22 358.3,98.47 358.8,98.37 359.3,98.33 359.8,98.31 360.3,98.44 360.8,98.71 361.3,98.20 361.8,98.15 362.3,98.41 362.8,98.35 363.3,98.56 363.8,98.12 364.3,98.27 364.8,98.60 365.3,98.18 365.8,98.06 366.3,98.51 366.8,98.06 367.3,98.42 367.8,98.63 368.3,98.25 368.8,98.52 369.3,98.24" fill="none" stroke="#000" stroke-width="1.7" stroke-linejoin="round"/>
<polygon points="248.3,111.23 248.8,111.56 249.3,111.27 249.8,111.04 250.3,111.30 250.8,111.26 251.3,111.03 251.8,111.33 252.3,111.29 252.8,111.23 253.3,111.06 253.8,111.50 254.3,111.57 254.8,111.10 255.3,111.25 255.8,111.42 256.3,111.01 256.8,111.02 257.3,111.26 257.8,110.94 258.3,111.05 258.8,111.11 259.3,111.43 259.8,111.63 260.3,111.16 260.8,111.12 261.3,111.39 261.8,111.30 262.3,111.24 262.8,111.46 263.3,111.14 263.8,111.24 264.3,111.36 264.8,111.55 265.3,111.24 265.8,111.41 266.3,111.12 266.8,111.51 267.3,111.35 267.8,111.49 268.3,111.34 268.8,111.22 269.3,111.55 269.8,111.59 270.3,111.29 270.8,111.48 271.3,111.27 271.8,111.51 272.3,111.55 272.8,111.25 273.3,110.98 273.8,111.01 274.3,111.26 274.8,111.34 275.3,111.57 275.8,111.42 276.3,111.40 276.8,110.96 277.3,111.53 277.8,110.95 278.3,111.28 278.8,111.31 279.3,111.43 279.8,110.93 280.3,111.48 280.8,111.20 281.3,111.24 281.8,111.45 282.3,111.41 282.8,110.83 283.3,110.89 283.8,110.81 284.3,110.50 284.8,110.80 285.3,110.05 285.8,109.64 286.3,109.64 286.8,109.17 287.3,108.63 287.8,109.06 288.3,108.90 288.8,109.59 289.3,109.60 289.8,110.25 290.3,110.42 290.8,110.79 291.3,110.63 291.8,110.85 292.3,111.10 292.8,111.01 293.3,111.20 293.8,110.94 294.3,111.32 294.8,111.12 295.3,111.08 295.8,111.21 296.3,111.43 296.8,111.34 297.3,110.99 297.8,111.28 298.3,110.88 298.8,111.03 299.3,110.70 299.8,110.74 300.3,110.80 300.8,111.02 301.3,111.21 301.8,110.80 302.3,110.62 302.8,110.44 303.3,110.87 303.8,110.81 304.3,110.13 304.8,110.17 305.3,110.18 305.8,109.80 306.3,109.94 306.8,109.32 307.3,108.76 307.8,108.15 308.3,107.52 308.8,106.18 309.3,103.84 309.8,100.75 310.3,97.54 310.8,94.34 311.3,93.91 311.8,96.32 312.3,100.40 312.8,103.45 313.3,105.24 313.8,106.98 314.3,108.22 314.8,108.62 315.3,109.61 315.8,109.79 316.3,109.78 316.8,110.36 317.3,110.63 317.8,110.43 318.3,110.67 318.8,110.31 319.3,111.00 319.8,110.57 320.3,110.91 320.8,110.67 321.3,110.96 321.8,110.84 322.3,111.10 322.8,111.20 323.3,111.07 323.8,110.84 324.3,111.18 324.8,111.28 325.3,111.16 325.8,111.40 326.3,111.26 326.8,111.09 327.3,111.12 327.8,111.09 328.3,111.31 328.8,111.50 329.3,111.51 329.8,111.30 330.3,111.40 330.8,111.15 331.3,111.37 331.8,111.02 332.3,111.14 332.8,111.10 333.3,111.05 333.8,111.21 334.3,111.28 334.8,111.36 335.3,111.54 335.8,111.03 336.3,111.24 336.8,111.52 337.3,110.94 337.8,111.19 338.3,111.16 338.8,111.29 339.3,111.51 339.8,110.90 340.3,111.48 340.8,111.35 341.3,110.91 341.8,111.52 342.3,111.26 342.8,111.27 343.3,111.44 343.8,110.96 344.3,111.32 344.8,111.61 345.3,111.28 345.8,111.61 346.3,111.12 346.8,111.01 347.3,110.99 347.8,111.59 348.3,111.15 348.8,111.41 349.3,111.29 349.8,111.41 350.3,111.41 350.8,111.53 351.3,111.19 351.8,111.56 352.3,110.95 352.8,111.60 353.3,110.95 353.8,111.49 354.3,111.57 354.8,111.11 355.3,111.26 355.8,111.09 356.3,111.27 356.8,111.19 357.3,111.57 357.8,111.16 358.3,111.27 358.8,110.96 359.3,111.63 359.8,111.59 360.3,111.16 360.8,110.99 361.3,111.34 361.8,111.14 362.3,111.24 362.8,111.36 363.3,111.31 363.8,111.21 364.3,111.62 364.8,111.42 365.3,111.12 365.8,111.46 366.3,111.31 366.8,111.46 367.3,111.39 367.8,111.18 368.3,111.12 368.8,110.97 369.3,111.30 369.6,111.90 248.3,111.90" fill="#fff"/>
<polyline points="248.3,111.23 248.8,111.56 249.3,111.27 249.8,111.04 250.3,111.30 250.8,111.26 251.3,111.03 251.8,111.33 252.3,111.29 252.8,111.23 253.3,111.06 253.8,111.50 254.3,111.57 254.8,111.10 255.3,111.25 255.8,111.42 256.3,111.01 256.8,111.02 257.3,111.26 257.8,110.94 258.3,111.05 258.8,111.11 259.3,111.43 259.8,111.63 260.3,111.16 260.8,111.12 261.3,111.39 261.8,111.30 262.3,111.24 262.8,111.46 263.3,111.14 263.8,111.24 264.3,111.36 264.8,111.55 265.3,111.24 265.8,111.41 266.3,111.12 266.8,111.51 267.3,111.35 267.8,111.49 268.3,111.34 268.8,111.22 269.3,111.55 269.8,111.59 270.3,111.29 270.8,111.48 271.3,111.27 271.8,111.51 272.3,111.55 272.8,111.25 273.3,110.98 273.8,111.01 274.3,111.26 274.8,111.34 275.3,111.57 275.8,111.42 276.3,111.40 276.8,110.96 277.3,111.53 277.8,110.95 278.3,111.28 278.8,111.31 279.3,111.43 279.8,110.93 280.3,111.48 280.8,111.20 281.3,111.24 281.8,111.45 282.3,111.41 282.8,110.83 283.3,110.89 283.8,110.81 284.3,110.50 284.8,110.80 285.3,110.05 285.8,109.64 286.3,109.64 286.8,109.17 287.3,108.63 287.8,109.06 288.3,108.90 288.8,109.59 289.3,109.60 289.8,110.25 290.3,110.42 290.8,110.79 291.3,110.63 291.8,110.85 292.3,111.10 292.8,111.01 293.3,111.20 293.8,110.94 294.3,111.32 294.8,111.12 295.3,111.08 295.8,111.21 296.3,111.43 296.8,111.34 297.3,110.99 297.8,111.28 298.3,110.88 298.8,111.03 299.3,110.70 299.8,110.74 300.3,110.80 300.8,111.02 301.3,111.21 301.8,110.80 302.3,110.62 302.8,110.44 303.3,110.87 303.8,110.81 304.3,110.13 304.8,110.17 305.3,110.18 305.8,109.80 306.3,109.94 306.8,109.32 307.3,108.76 307.8,108.15 308.3,107.52 308.8,106.18 309.3,103.84 309.8,100.75 310.3,97.54 310.8,94.34 311.3,93.91 311.8,96.32 312.3,100.40 312.8,103.45 313.3,105.24 313.8,106.98 314.3,108.22 314.8,108.62 315.3,109.61 315.8,109.79 316.3,109.78 316.8,110.36 317.3,110.63 317.8,110.43 318.3,110.67 318.8,110.31 319.3,111.00 319.8,110.57 320.3,110.91 320.8,110.67 321.3,110.96 321.8,110.84 322.3,111.10 322.8,111.20 323.3,111.07 323.8,110.84 324.3,111.18 324.8,111.28 325.3,111.16 325.8,111.40 326.3,111.26 326.8,111.09 327.3,111.12 327.8,111.09 328.3,111.31 328.8,111.50 329.3,111.51 329.8,111.30 330.3,111.40 330.8,111.15 331.3,111.37 331.8,111.02 332.3,111.14 332.8,111.10 333.3,111.05 333.8,111.21 334.3,111.28 334.8,111.36 335.3,111.54 335.8,111.03 336.3,111.24 336.8,111.52 337.3,110.94 337.8,111.19 338.3,111.16 338.8,111.29 339.3,111.51 339.8,110.90 340.3,111.48 340.8,111.35 341.3,110.91 341.8,111.52 342.3,111.26 342.8,111.27 343.3,111.44 343.8,110.96 344.3,111.32 344.8,111.61 345.3,111.28 345.8,111.61 346.3,111.12 346.8,111.01 347.3,110.99 347.8,111.59 348.3,111.15 348.8,111.41 349.3,111.29 349.8,111.41 350.3,111.41 350.8,111.53 351.3,111.19 351.8,111.56 352.3,110.95 352.8,111.60 353.3,110.95 353.8,111.49 354.3,111.57 354.8,111.11 355.3,111.26 355.8,111.09 356.3,111.27 356.8,111.19 357.3,111.57 357.8,111.16 358.3,111.27 358.8,110.96 359.3,111.63 359.8,111.59 360.3,111.16 360.8,110.99 361.3,111.34 361.8,111.14 362.3,111.24 362.8,111.36 363.3,111.31 363.8,111.21 364.3,111.62 364.8,111.42 365.3,111.12 365.8,111.46 366.3,111.31 366.8,111.46 367.3,111.39 367.8,111.18 368.3,111.12 368.8,110.97 369.3,111.30" fill="none" stroke="#000" stroke-width="1.7" stroke-linejoin="round"/>
<polygon points="248.3,124.37 248.8,124.27 249.3,124.47 249.8,124.34 250.3,124.10 250.8,124.08 251.3,124.34 251.8,124.38 252.3,124.43 252.8,124.38 253.3,124.15 253.8,124.32 254.3,123.88 254.8,124.10 255.3,124.26 255.8,124.20 256.3,124.47 256.8,123.98 257.3,123.97 257.8,124.24 258.3,123.99 258.8,124.30 259.3,124.34 259.8,124.33 260.3,124.35 260.8,124.07 261.3,124.04 261.8,123.98 262.3,124.42 262.8,123.95 263.3,124.15 263.8,124.22 264.3,124.13 264.8,124.18 265.3,124.34 265.8,124.20 266.3,124.03 266.8,123.98 267.3,123.83 267.8,124.34 268.3,123.85 268.8,123.91 269.3,123.97 269.8,123.78 270.3,124.37 270.8,123.92 271.3,123.83 271.8,124.37 272.3,124.04 272.8,123.79 273.3,124.24 273.8,123.85 274.3,123.81 274.8,124.14 275.3,124.34 275.8,124.28 276.3,123.85 276.8,124.13 277.3,124.20 277.8,124.11 278.3,123.76 278.8,124.23 279.3,124.39 279.8,123.73 280.3,124.17 280.8,124.11 281.3,123.68 281.8,124.15 282.3,124.26 282.8,123.65 283.3,124.01 283.8,123.89 284.3,123.18 284.8,123.39 285.3,122.56 285.8,122.56 286.3,122.18 286.8,121.91 287.3,121.47 287.8,121.42 288.3,121.66 288.8,121.85 289.3,122.34 289.8,122.32 290.3,122.57 290.8,122.94 291.3,123.05 291.8,123.66 292.3,123.55 292.8,123.55 293.3,123.51 293.8,122.84 294.3,122.76 294.8,122.59 295.3,122.64 295.8,122.70 296.3,122.17 296.8,122.02 297.3,120.89 297.8,120.61 298.3,119.58 298.8,117.65 299.3,115.99 299.8,112.09 300.3,107.10 300.8,98.45 301.3,88.25 301.8,81.90 302.3,88.04 302.8,98.68 303.3,106.86 303.8,112.32 304.3,115.95 304.8,118.23 305.3,119.38 305.8,120.78 306.3,120.91 306.8,121.82 307.3,122.35 307.8,122.55 308.3,122.95 308.8,123.01 309.3,123.01 309.8,123.24 310.3,123.41 310.8,123.53 311.3,123.47 311.8,123.34 312.3,123.64 312.8,123.46 313.3,123.70 313.8,123.99 314.3,123.99 314.8,123.55 315.3,123.84 315.8,123.93 316.3,123.86 316.8,123.65 317.3,124.00 317.8,124.02 318.3,124.03 318.8,124.30 319.3,123.94 319.8,123.99 320.3,123.99 320.8,124.03 321.3,124.03 321.8,123.87 322.3,124.24 322.8,123.69 323.3,124.31 323.8,123.79 324.3,124.28 324.8,123.85 325.3,124.23 325.8,124.36 326.3,124.04 326.8,123.84 327.3,123.84 327.8,123.82 328.3,123.75 328.8,124.40 329.3,124.18 329.8,124.37 330.3,123.92 330.8,124.14 331.3,123.93 331.8,123.90 332.3,123.76 332.8,123.99 333.3,123.85 333.8,124.08 334.3,124.41 334.8,123.85 335.3,124.41 335.8,124.41 336.3,123.89 336.8,124.28 337.3,124.01 337.8,124.46 338.3,124.33 338.8,123.98 339.3,124.46 339.8,124.13 340.3,123.83 340.8,124.34 341.3,123.99 341.8,123.97 342.3,124.06 342.8,123.95 343.3,124.00 343.8,124.48 344.3,124.36 344.8,124.12 345.3,123.82 345.8,124.34 346.3,124.09 346.8,124.41 347.3,123.91 347.8,124.19 348.3,124.13 348.8,124.03 349.3,124.41 349.8,123.99 350.3,123.94 350.8,123.90 351.3,124.31 351.8,124.34 352.3,124.39 352.8,123.88 353.3,124.20 353.8,124.23 354.3,124.14 354.8,124.02 355.3,124.28 355.8,124.27 356.3,123.97 356.8,123.96 357.3,124.30 357.8,124.46 358.3,123.86 358.8,124.00 359.3,124.09 359.8,124.23 360.3,123.84 360.8,124.21 361.3,124.36 361.8,124.44 362.3,124.27 362.8,124.09 363.3,124.26 363.8,123.85 364.3,124.06 364.8,124.19 365.3,124.05 365.8,124.09 366.3,124.08 366.8,124.17 367.3,124.15 367.8,124.17 368.3,123.93 368.8,124.38 369.3,123.97 369.6,124.78 248.3,124.78" fill="#fff"/>
<polyline points="248.3,124.37 248.8,124.27 249.3,124.47 249.8,124.34 250.3,124.10 250.8,124.08 251.3,124.34 251.8,124.38 252.3,124.43 252.8,124.38 253.3,124.15 253.8,124.32 254.3,123.88 254.8,124.10 255.3,124.26 255.8,124.20 256.3,124.47 256.8,123.98 257.3,123.97 257.8,124.24 258.3,123.99 258.8,124.30 259.3,124.34 259.8,124.33 260.3,124.35 260.8,124.07 261.3,124.04 261.8,123.98 262.3,124.42 262.8,123.95 263.3,124.15 263.8,124.22 264.3,124.13 264.8,124.18 265.3,124.34 265.8,124.20 266.3,124.03 266.8,123.98 267.3,123.83 267.8,124.34 268.3,123.85 268.8,123.91 269.3,123.97 269.8,123.78 270.3,124.37 270.8,123.92 271.3,123.83 271.8,124.37 272.3,124.04 272.8,123.79 273.3,124.24 273.8,123.85 274.3,123.81 274.8,124.14 275.3,124.34 275.8,124.28 276.3,123.85 276.8,124.13 277.3,124.20 277.8,124.11 278.3,123.76 278.8,124.23 279.3,124.39 279.8,123.73 280.3,124.17 280.8,124.11 281.3,123.68 281.8,124.15 282.3,124.26 282.8,123.65 283.3,124.01 283.8,123.89 284.3,123.18 284.8,123.39 285.3,122.56 285.8,122.56 286.3,122.18 286.8,121.91 287.3,121.47 287.8,121.42 288.3,121.66 288.8,121.85 289.3,122.34 289.8,122.32 290.3,122.57 290.8,122.94 291.3,123.05 291.8,123.66 292.3,123.55 292.8,123.55 293.3,123.51 293.8,122.84 294.3,122.76 294.8,122.59 295.3,122.64 295.8,122.70 296.3,122.17 296.8,122.02 297.3,120.89 297.8,120.61 298.3,119.58 298.8,117.65 299.3,115.99 299.8,112.09 300.3,107.10 300.8,98.45 301.3,88.25 301.8,81.90 302.3,88.04 302.8,98.68 303.3,106.86 303.8,112.32 304.3,115.95 304.8,118.23 305.3,119.38 305.8,120.78 306.3,120.91 306.8,121.82 307.3,122.35 307.8,122.55 308.3,122.95 308.8,123.01 309.3,123.01 309.8,123.24 310.3,123.41 310.8,123.53 311.3,123.47 311.8,123.34 312.3,123.64 312.8,123.46 313.3,123.70 313.8,123.99 314.3,123.99 314.8,123.55 315.3,123.84 315.8,123.93 316.3,123.86 316.8,123.65 317.3,124.00 317.8,124.02 318.3,124.03 318.8,124.30 319.3,123.94 319.8,123.99 320.3,123.99 320.8,124.03 321.3,124.03 321.8,123.87 322.3,124.24 322.8,123.69 323.3,124.31 323.8,123.79 324.3,124.28 324.8,123.85 325.3,124.23 325.8,124.36 326.3,124.04 326.8,123.84 327.3,123.84 327.8,123.82 328.3,123.75 328.8,124.40 329.3,124.18 329.8,124.37 330.3,123.92 330.8,124.14 331.3,123.93 331.8,123.90 332.3,123.76 332.8,123.99 333.3,123.85 333.8,124.08 334.3,124.41 334.8,123.85 335.3,124.41 335.8,124.41 336.3,123.89 336.8,124.28 337.3,124.01 337.8,124.46 338.3,124.33 338.8,123.98 339.3,124.46 339.8,124.13 340.3,123.83 340.8,124.34 341.3,123.99 341.8,123.97 342.3,124.06 342.8,123.95 343.3,124.00 343.8,124.48 344.3,124.36 344.8,124.12 345.3,123.82 345.8,124.34 346.3,124.09 346.8,124.41 347.3,123.91 347.8,124.19 348.3,124.13 348.8,124.03 349.3,124.41 349.8,123.99 350.3,123.94 350.8,123.90 351.3,124.31 351.8,124.34 352.3,124.39 352.8,123.88 353.3,124.20 353.8,124.23 354.3,124.14 354.8,124.02 355.3,124.28 355.8,124.27 356.3,123.97 356.8,123.96 357.3,124.30 357.8,124.46 358.3,123.86 358.8,124.00 359.3,124.09 359.8,124.23 360.3,123.84 360.8,124.21 361.3,124.36 361.8,124.44 362.3,124.27 362.8,124.09 363.3,124.26 363.8,123.85 364.3,124.06 364.8,124.19 365.3,124.05 365.8,124.09 366.3,124.08 366.8,124.17 367.3,124.15 367.8,124.17 368.3,123.93 368.8,124.38 369.3,123.97" fill="none" stroke="#000" stroke-width="1.7" stroke-linejoin="round"/>
<polygon points="248.3,137.17 248.8,136.78 249.3,137.32 249.8,137.03 250.3,137.06 250.8,136.87 251.3,137.23 251.8,137.18 252.3,137.27 252.8,136.97 253.3,136.96 253.8,137.36 254.3,137.24 254.8,137.22 255.3,136.69 255.8,137.04 256.3,136.96 256.8,137.15 257.3,136.89 257.8,136.78 258.3,136.88 258.8,137.35 259.3,137.04 259.8,137.01 260.3,137.31 260.8,136.79 261.3,137.12 261.8,137.13 262.3,136.90 262.8,136.93 263.3,136.99 263.8,136.73 264.3,136.96 264.8,137.09 265.3,137.28 265.8,136.93 266.3,137.06 266.8,136.94 267.3,137.07 267.8,137.30 268.3,137.28 268.8,137.19 269.3,137.23 269.8,136.69 270.3,136.88 270.8,137.11 271.3,136.78 271.8,136.82 272.3,137.22 272.8,136.73 273.3,137.09 273.8,136.54 274.3,137.13 274.8,137.02 275.3,137.04 275.8,136.60 276.3,136.62 276.8,136.78 277.3,137.07 277.8,136.86 278.3,136.65 278.8,137.09 279.3,136.46 279.8,136.50 280.3,136.41 280.8,136.55 281.3,136.58 281.8,136.29 282.3,136.73 282.8,136.63 283.3,136.64 283.8,136.43 284.3,135.75 284.8,135.91 285.3,135.04 285.8,134.82 286.3,134.01 286.8,133.67 287.3,133.41 287.8,133.13 288.3,133.67 288.8,133.58 289.3,133.61 289.8,133.62 290.3,133.37 290.8,132.93 291.3,132.47 291.8,131.41 292.3,130.12 292.8,128.12 293.3,124.44 293.8,118.34 294.3,108.02 294.8,90.96 295.3,69.67 295.8,66.54 296.3,86.71 296.8,105.14 297.3,117.25 297.8,123.41 298.3,127.48 298.8,130.18 299.3,131.57 299.8,132.78 300.3,133.27 300.8,133.93 301.3,134.60 301.8,134.76 302.3,135.04 302.8,135.77 303.3,135.50 303.8,135.65 304.3,135.67 304.8,135.94 305.3,136.29 305.8,136.50 306.3,136.26 306.8,136.63 307.3,136.30 307.8,136.47 308.3,136.34 308.8,136.70 309.3,136.77 309.8,136.38 310.3,136.58 310.8,136.80 311.3,136.69 311.8,136.80 312.3,136.67 312.8,136.78 313.3,136.95 313.8,136.48 314.3,136.56 314.8,136.66 315.3,137.01 315.8,137.08 316.3,136.71 316.8,136.66 317.3,136.78 317.8,137.10 318.3,136.75 318.8,136.89 319.3,137.01 319.8,136.86 320.3,136.96 320.8,136.83 321.3,136.76 321.8,136.61 322.3,137.22 322.8,136.90 323.3,136.64 323.8,136.85 324.3,136.91 324.8,136.72 325.3,137.30 325.8,136.77 326.3,136.89 326.8,136.92 327.3,137.11 327.8,136.90 328.3,137.25 328.8,136.97 329.3,137.16 329.8,136.69 330.3,136.78 330.8,137.01 331.3,136.82 331.8,137.08 332.3,136.98 332.8,137.24 333.3,136.75 333.8,136.82 334.3,136.82 334.8,137.30 335.3,136.79 335.8,137.35 336.3,136.97 336.8,137.02 337.3,137.32 337.8,137.07 338.3,136.74 338.8,136.93 339.3,137.15 339.8,136.80 340.3,137.12 340.8,136.74 341.3,137.09 341.8,137.32 342.3,136.69 342.8,137.32 343.3,137.20 343.8,136.84 344.3,137.30 344.8,137.00 345.3,136.78 345.8,136.97 346.3,137.14 346.8,136.85 347.3,136.80 347.8,136.97 348.3,136.94 348.8,137.16 349.3,137.10 349.8,136.69 350.3,136.70 350.8,137.38 351.3,137.25 351.8,137.23 352.3,136.83 352.8,137.24 353.3,137.27 353.8,136.85 354.3,137.27 354.8,136.70 355.3,137.07 355.8,136.76 356.3,136.81 356.8,137.24 357.3,136.84 357.8,137.10 358.3,137.23 358.8,137.36 359.3,136.90 359.8,137.00 360.3,137.18 360.8,136.81 361.3,137.25 361.8,137.08 362.3,137.33 362.8,137.15 363.3,136.77 363.8,137.04 364.3,137.29 364.8,137.23 365.3,136.94 365.8,137.20 366.3,136.77 366.8,137.35 367.3,136.79 367.8,136.96 368.3,136.82 368.8,137.15 369.3,137.35 369.6,137.66 248.3,137.66" fill="#fff"/>
<polyline points="248.3,137.17 248.8,136.78 249.3,137.32 249.8,137.03 250.3,137.06 250.8,136.87 251.3,137.23 251.8,137.18 252.3,137.27 252.8,136.97 253.3,136.96 253.8,137.36 254.3,137.24 254.8,137.22 255.3,136.69 255.8,137.04 256.3,136.96 256.8,137.15 257.3,136.89 257.8,136.78 258.3,136.88 258.8,137.35 259.3,137.04 259.8,137.01 260.3,137.31 260.8,136.79 261.3,137.12 261.8,137.13 262.3,136.90 262.8,136.93 263.3,136.99 263.8,136.73 264.3,136.96 264.8,137.09 265.3,137.28 265.8,136.93 266.3,137.06 266.8,136.94 267.3,137.07 267.8,137.30 268.3,137.28 268.8,137.19 269.3,137.23 269.8,136.69 270.3,136.88 270.8,137.11 271.3,136.78 271.8,136.82 272.3,137.22 272.8,136.73 273.3,137.09 273.8,136.54 274.3,137.13 274.8,137.02 275.3,137.04 275.8,136.60 276.3,136.62 276.8,136.78 277.3,137.07 277.8,136.86 278.3,136.65 278.8,137.09 279.3,136.46 279.8,136.50 280.3,136.41 280.8,136.55 281.3,136.58 281.8,136.29 282.3,136.73 282.8,136.63 283.3,136.64 283.8,136.43 284.3,135.75 284.8,135.91 285.3,135.04 285.8,134.82 286.3,134.01 286.8,133.67 287.3,133.41 287.8,133.13 288.3,133.67 288.8,133.58 289.3,133.61 289.8,133.62 290.3,133.37 290.8,132.93 291.3,132.47 291.8,131.41 292.3,130.12 292.8,128.12 293.3,124.44 293.8,118.34 294.3,108.02 294.8,90.96 295.3,69.67 295.8,66.54 296.3,86.71 296.8,105.14 297.3,117.25 297.8,123.41 298.3,127.48 298.8,130.18 299.3,131.57 299.8,132.78 300.3,133.27 300.8,133.93 301.3,134.60 301.8,134.76 302.3,135.04 302.8,135.77 303.3,135.50 303.8,135.65 304.3,135.67 304.8,135.94 305.3,136.29 305.8,136.50 306.3,136.26 306.8,136.63 307.3,136.30 307.8,136.47 308.3,136.34 308.8,136.70 309.3,136.77 309.8,136.38 310.3,136.58 310.8,136.80 311.3,136.69 311.8,136.80 312.3,136.67 312.8,136.78 313.3,136.95 313.8,136.48 314.3,136.56 314.8,136.66 315.3,137.01 315.8,137.08 316.3,136.71 316.8,136.66 317.3,136.78 317.8,137.10 318.3,136.75 318.8,136.89 319.3,137.01 319.8,136.86 320.3,136.96 320.8,136.83 321.3,136.76 321.8,136.61 322.3,137.22 322.8,136.90 323.3,136.64 323.8,136.85 324.3,136.91 324.8,136.72 325.3,137.30 325.8,136.77 326.3,136.89 326.8,136.92 327.3,137.11 327.8,136.90 328.3,137.25 328.8,136.97 329.3,137.16 329.8,136.69 330.3,136.78 330.8,137.01 331.3,136.82 331.8,137.08 332.3,136.98 332.8,137.24 333.3,136.75 333.8,136.82 334.3,136.82 334.8,137.30 335.3,136.79 335.8,137.35 336.3,136.97 336.8,137.02 337.3,137.32 337.8,137.07 338.3,136.74 338.8,136.93 339.3,137.15 339.8,136.80 340.3,137.12 340.8,136.74 341.3,137.09 341.8,137.32 342.3,136.69 342.8,137.32 343.3,137.20 343.8,136.84 344.3,137.30 344.8,137.00 345.3,136.78 345.8,136.97 346.3,137.14 346.8,136.85 347.3,136.80 347.8,136.97 348.3,136.94 348.8,137.16 349.3,137.10 349.8,136.69 350.3,136.70 350.8,137.38 351.3,137.25 351.8,137.23 352.3,136.83 352.8,137.24 353.3,137.27 353.8,136.85 354.3,137.27 354.8,136.70 355.3,137.07 355.8,136.76 356.3,136.81 356.8,137.24 357.3,136.84 357.8,137.10 358.3,137.23 358.8,137.36 359.3,136.90 359.8,137.00 360.3,137.18 360.8,136.81 361.3,137.25 361.8,137.08 362.3,137.33 362.8,137.15 363.3,136.77 363.8,137.04 364.3,137.29 364.8,137.23 365.3,136.94 365.8,137.20 366.3,136.77 366.8,137.35 367.3,136.79 367.8,136.96 368.3,136.82 368.8,137.15 369.3,137.35" fill="none" stroke="#000" stroke-width="1.7" stroke-linejoin="round"/>
<polygon points="248.3,150.06 248.8,149.74 249.3,150.16 249.8,150.10 250.3,149.62 250.8,149.55 251.3,149.56 251.8,149.57 252.3,149.77 252.8,149.54 253.3,149.66 253.8,149.75 254.3,149.84 254.8,150.11 255.3,150.06 255.8,149.95 256.3,149.79 256.8,150.02 257.3,149.42 257.8,149.69 258.3,149.57 258.8,149.45 259.3,149.91 259.8,149.44 260.3,149.38 260.8,149.85 261.3,149.94 261.8,149.46 262.3,149.38 262.8,149.43 263.3,149.69 263.8,149.54 264.3,149.87 264.8,149.76 265.3,149.62 265.8,149.37 266.3,149.80 266.8,149.19 267.3,149.79 267.8,149.10 268.3,149.58 268.8,149.14 269.3,149.10 269.8,148.95 270.3,149.24 270.8,149.02 271.3,149.24 271.8,148.79 272.3,149.21 272.8,148.57 273.3,148.65 273.8,148.89 274.3,148.11 274.8,148.34 275.3,148.27 275.8,147.82 276.3,147.59 276.8,146.88 277.3,145.86 277.8,144.63 278.3,143.34 278.8,140.68 279.3,136.29 279.8,127.69 280.3,109.55 280.8,80.82 281.3,85.33 281.8,112.19 282.3,126.71 282.8,131.82 283.3,133.21 283.8,131.23 284.3,126.98 284.8,121.38 285.3,118.84 285.8,121.72 286.3,127.09 286.8,131.99 287.3,134.12 287.8,134.39 288.3,133.33 288.8,129.39 289.3,124.34 289.8,119.78 290.3,121.21 290.8,126.98 291.3,133.28 291.8,138.25 292.3,141.14 292.8,143.19 293.3,144.71 293.8,145.59 294.3,146.15 294.8,146.79 295.3,147.21 295.8,148.02 296.3,147.90 296.8,148.18 297.3,148.15 297.8,148.95 298.3,148.97 298.8,148.52 299.3,149.03 299.8,148.88 300.3,149.04 300.8,149.24 301.3,149.27 301.8,149.23 302.3,148.98 302.8,149.34 303.3,149.19 303.8,149.57 304.3,149.31 304.8,149.41 305.3,149.34 305.8,149.27 306.3,149.85 306.8,149.25 307.3,149.52 307.8,149.78 308.3,149.65 308.8,149.92 309.3,149.84 309.8,149.43 310.3,149.53 310.8,149.43 311.3,149.94 311.8,149.98 312.3,149.80 312.8,149.73 313.3,149.59 313.8,149.88 314.3,149.58 314.8,149.70 315.3,149.91 315.8,149.57 316.3,150.07 316.8,149.72 317.3,150.00 317.8,150.11 318.3,149.81 318.8,149.79 319.3,149.73 319.8,149.90 320.3,149.51 320.8,149.62 321.3,150.06 321.8,150.17 322.3,149.50 322.8,149.89 323.3,150.11 323.8,150.06 324.3,149.70 324.8,150.07 325.3,149.93 325.8,149.72 326.3,149.95 326.8,149.74 327.3,149.54 327.8,149.65 328.3,149.77 328.8,149.77 329.3,149.99 329.8,149.76 330.3,149.76 330.8,149.81 331.3,149.87 331.8,149.69 332.3,150.08 332.8,149.72 333.3,149.54 333.8,150.20 334.3,150.05 334.8,149.54 335.3,150.17 335.8,149.66 336.3,149.82 336.8,150.18 337.3,149.79 337.8,150.23 338.3,149.64 338.8,150.03 339.3,149.59 339.8,149.61 340.3,150.14 340.8,149.96 341.3,150.13 341.8,149.71 342.3,150.18 342.8,150.19 343.3,150.16 343.8,149.64 344.3,150.07 344.8,150.02 345.3,149.94 345.8,149.86 346.3,149.96 346.8,149.59 347.3,150.01 347.8,149.92 348.3,149.65 348.8,150.08 349.3,150.13 349.8,149.67 350.3,150.03 350.8,149.63 351.3,149.68 351.8,149.99 352.3,150.02 352.8,150.19 353.3,149.65 353.8,149.95 354.3,150.02 354.8,150.14 355.3,150.10 355.8,149.65 356.3,150.17 356.8,149.87 357.3,149.82 357.8,149.90 358.3,149.91 358.8,149.98 359.3,150.13 359.8,149.69 360.3,149.64 360.8,149.87 361.3,150.09 361.8,149.63 362.3,150.12 362.8,150.15 363.3,149.83 363.8,149.68 364.3,149.87 364.8,150.19 365.3,149.58 365.8,150.16 366.3,150.03 366.8,149.58 367.3,149.71 367.8,149.74 368.3,150.22 368.8,149.67 369.3,149.99 369.6,150.54 248.3,150.54" fill="#fff"/>
<polyline points="248.3,150.06 248.8,149.74 249.3,150.16 249.8,150.10 250.3,149.62 250.8,149.55 251.3,149.56 251.8,149.57 252.3,149.77 252.8,149.54 253.3,149.66 253.8,149.75 254.3,149.84 254.8,150.11 255.3,150.06 255.8,149.95 256.3,149.79 256.8,150.02 257.3,149.42 257.8,149.69 258.3,149.57 258.8,149.45 259.3,149.91 259.8,149.44 260.3,149.38 260.8,149.85 261.3,149.94 261.8,149.46 262.3,149.38 262.8,149.43 263.3,149.69 263.8,149.54 264.3,149.87 264.8,149.76 265.3,149.62 265.8,149.37 266.3,149.80 266.8,149.19 267.3,149.79 267.8,149.10 268.3,149.58 268.8,149.14 269.3,149.10 269.8,148.95 270.3,149.24 270.8,149.02 271.3,149.24 271.8,148.79 272.3,149.21 272.8,148.57 273.3,148.65 273.8,148.89 274.3,148.11 274.8,148.34 275.3,148.27 275.8,147.82 276.3,147.59 276.8,146.88 277.3,145.86 277.8,144.63 278.3,143.34 278.8,140.68 279.3,136.29 279.8,127.69 280.3,109.55 280.8,80.82 281.3,85.33 281.8,112.19 282.3,126.71 282.8,131.82 283.3,133.21 283.8,131.23 284.3,126.98 284.8,121.38 285.3,118.84 285.8,121.72 286.3,127.09 286.8,131.99 287.3,134.12 287.8,134.39 288.3,133.33 288.8,129.39 289.3,124.34 289.8,119.78 290.3,121.21 290.8,126.98 291.3,133.28 291.8,138.25 292.3,141.14 292.8,143.19 293.3,144.71 293.8,145.59 294.3,146.15 294.8,146.79 295.3,147.21 295.8,148.02 296.3,147.90 296.8,148.18 297.3,148.15 297.8,148.95 298.3,148.97 298.8,148.52 299.3,149.03 299.8,148.88 300.3,149.04 300.8,149.24 301.3,149.27 301.8,149.23 302.3,148.98 302.8,149.34 303.3,149.19 303.8,149.57 304.3,149.31 304.8,149.41 305.3,149.34 305.8,149.27 306.3,149.85 306.8,149.25 307.3,149.52 307.8,149.78 308.3,149.65 308.8,149.92 309.3,149.84 309.8,149.43 310.3,149.53 310.8,149.43 311.3,149.94 311.8,149.98 312.3,149.80 312.8,149.73 313.3,149.59 313.8,149.88 314.3,149.58 314.8,149.70 315.3,149.91 315.8,149.57 316.3,150.07 316.8,149.72 317.3,150.00 317.8,150.11 318.3,149.81 318.8,149.79 319.3,149.73 319.8,149.90 320.3,149.51 320.8,149.62 321.3,150.06 321.8,150.17 322.3,149.50 322.8,149.89 323.3,150.11 323.8,150.06 324.3,149.70 324.8,150.07 325.3,149.93 325.8,149.72 326.3,149.95 326.8,149.74 327.3,149.54 327.8,149.65 328.3,149.77 328.8,149.77 329.3,149.99 329.8,149.76 330.3,149.76 330.8,149.81 331.3,149.87 331.8,149.69 332.3,150.08 332.8,149.72 333.3,149.54 333.8,150.20 334.3,150.05 334.8,149.54 335.3,150.17 335.8,149.66 336.3,149.82 336.8,150.18 337.3,149.79 337.8,150.23 338.3,149.64 338.8,150.03 339.3,149.59 339.8,149.61 340.3,150.14 340.8,149.96 341.3,150.13 341.8,149.71 342.3,150.18 342.8,150.19 343.3,150.16 343.8,149.64 344.3,150.07 344.8,150.02 345.3,149.94 345.8,149.86 346.3,149.96 346.8,149.59 347.3,150.01 347.8,149.92 348.3,149.65 348.8,150.08 349.3,150.13 349.8,149.67 350.3,150.03 350.8,149.63 351.3,149.68 351.8,149.99 352.3,150.02 352.8,150.19 353.3,149.65 353.8,149.95 354.3,150.02 354.8,150.14 355.3,150.10 355.8,149.65 356.3,150.17 356.8,149.87 357.3,149.82 357.8,149.90 358.3,149.91 358.8,149.98 359.3,150.13 359.8,149.69 360.3,149.64 360.8,149.87 361.3,150.09 361.8,149.63 362.3,150.12 362.8,150.15 363.3,149.83 363.8,149.68 364.3,149.87 364.8,150.19 365.3,149.58 365.8,150.16 366.3,150.03 366.8,149.58 367.3,149.71 367.8,149.74 368.3,150.22 368.8,149.67 369.3,149.99" fill="none" stroke="#000" stroke-width="1.7" stroke-linejoin="round"/>
<polygon points="248.3,163.06 248.8,162.51 249.3,162.40 249.8,163.02 250.3,162.73 250.8,162.41 251.3,162.80 251.8,162.81 252.3,162.47 252.8,162.70 253.3,162.30 253.8,162.39 254.3,162.38 254.8,162.48 255.3,162.82 255.8,162.47 256.3,162.53 256.8,162.58 257.3,162.50 257.8,162.67 258.3,162.72 258.8,162.20 259.3,162.56 259.8,162.71 260.3,162.07 260.8,162.36 261.3,162.20 261.8,162.38 262.3,162.46 262.8,162.27 263.3,161.84 263.8,162.14 264.3,161.59 264.8,161.89 265.3,161.32 265.8,161.63 266.3,161.21 266.8,161.12 267.3,160.71 267.8,159.93 268.3,159.33 268.8,158.21 269.3,156.99 269.8,154.74 270.3,151.31 270.8,145.46 271.3,137.76 271.8,127.95 272.3,124.32 272.8,131.48 273.3,141.29 273.8,147.88 274.3,153.02 274.8,155.85 275.3,157.77 275.8,158.72 276.3,159.29 276.8,160.32 277.3,160.79 277.8,160.78 278.3,161.56 278.8,161.82 279.3,161.55 279.8,162.09 280.3,161.90 280.8,162.27 281.3,162.03 281.8,161.91 282.3,162.23 282.8,162.36 283.3,162.07 283.8,161.91 284.3,162.16 284.8,161.75 285.3,161.28 285.8,160.76 286.3,160.50 286.8,159.88 287.3,159.97 287.8,159.51 288.3,160.09 288.8,160.54 289.3,161.08 289.8,161.52 290.3,161.88 290.8,161.76 291.3,162.34 291.8,162.50 292.3,162.24 292.8,162.30 293.3,162.48 293.8,162.86 294.3,162.81 294.8,162.70 295.3,162.88 295.8,162.82 296.3,162.92 296.8,162.90 297.3,162.55 297.8,162.66 298.3,162.77 298.8,162.75 299.3,162.66 299.8,162.61 300.3,163.08 300.8,162.51 301.3,162.78 301.8,162.86 302.3,162.43 302.8,162.58 303.3,162.86 303.8,163.09 304.3,162.81 304.8,162.81 305.3,162.85 305.8,163.05 306.3,162.71 306.8,162.94 307.3,162.59 307.8,162.75 308.3,162.92 308.8,162.55 309.3,162.81 309.8,163.07 310.3,162.93 310.8,163.09 311.3,162.83 311.8,162.50 312.3,162.47 312.8,162.68 313.3,163.03 313.8,162.97 314.3,162.99 314.8,162.88 315.3,162.69 315.8,163.12 316.3,162.80 316.8,162.84 317.3,162.68 317.8,162.56 318.3,162.86 318.8,162.72 319.3,162.95 319.8,162.83 320.3,162.70 320.8,163.11 321.3,162.79 321.8,162.79 322.3,163.02 322.8,162.97 323.3,162.57 323.8,162.90 324.3,163.01 324.8,162.95 325.3,162.78 325.8,162.87 326.3,162.90 326.8,162.92 327.3,163.00 327.8,162.80 328.3,162.73 328.8,163.09 329.3,162.74 329.8,162.94 330.3,162.47 330.8,162.50 331.3,163.06 331.8,162.67 332.3,162.91 332.8,163.08 333.3,162.54 333.8,162.52 334.3,162.60 334.8,162.71 335.3,162.47 335.8,162.77 336.3,162.68 336.8,162.70 337.3,162.55 337.8,162.56 338.3,162.94 338.8,163.01 339.3,162.77 339.8,162.74 340.3,162.91 340.8,162.55 341.3,162.56 341.8,162.68 342.3,162.78 342.8,162.67 343.3,163.02 343.8,162.59 344.3,163.07 344.8,162.53 345.3,162.72 345.8,162.96 346.3,163.03 346.8,162.74 347.3,162.83 347.8,162.67 348.3,163.09 348.8,162.55 349.3,162.86 349.8,162.85 350.3,162.64 350.8,162.74 351.3,162.85 351.8,162.96 352.3,162.83 352.8,163.14 353.3,162.98 353.8,162.58 354.3,163.08 354.8,163.10 355.3,162.57 355.8,162.90 356.3,162.79 356.8,162.75 357.3,162.66 357.8,162.94 358.3,162.62 358.8,163.16 359.3,162.57 359.8,162.95 360.3,162.72 360.8,162.95 361.3,162.64 361.8,162.90 362.3,162.74 362.8,162.94 363.3,162.58 363.8,162.62 364.3,163.02 364.8,162.63 365.3,162.50 365.8,163.00 366.3,163.03 366.8,162.51 367.3,162.49 367.8,163.07 368.3,162.62 368.8,162.51 369.3,162.98 369.6,163.42 248.3,163.42" fill="#fff"/>
<polyline points="248.3,163.06 248.8,162.51 249.3,162.40 249.8,163.02 250.3,162.73 250.8,162.41 251.3,162.80 251.8,162.81 252.3,162.47 252.8,162.70 253.3,162.30 253.8,162.39 254.3,162.38 254.8,162.48 255.3,162.82 255.8,162.47 256.3,162.53 256.8,162.58 257.3,162.50 257.8,162.67 258.3,162.72 258.8,162.20 259.3,162.56 259.8,162.71 260.3,162.07 260.8,162.36 261.3,162.20 261.8,162.38 262.3,162.46 262.8,162.27 263.3,161.84 263.8,162.14 264.3,161.59 264.8,161.89 265.3,161.32 265.8,161.63 266.3,161.21 266.8,161.12 267.3,160.71 267.8,159.93 268.3,159.33 268.8,158.21 269.3,156.99 269.8,154.74 270.3,151.31 270.8,145.46 271.3,137.76 271.8,127.95 272.3,124.32 272.8,131.48 273.3,141.29 273.8,147.88 274.3,153.02 274.8,155.85 275.3,157.77 275.8,158.72 276.3,159.29 276.8,160.32 277.3,160.79 277.8,160.78 278.3,161.56 278.8,161.82 279.3,161.55 279.8,162.09 280.3,161.90 280.8,162.27 281.3,162.03 281.8,161.91 282.3,162.23 282.8,162.36 283.3,162.07 283.8,161.91 284.3,162.16 284.8,161.75 285.3,161.28 285.8,160.76 286.3,160.50 286.8,159.88 287.3,159.97 287.8,159.51 288.3,160.09 288.8,160.54 289.3,161.08 289.8,161.52 290.3,161.88 290.8,161.76 291.3,162.34 291.8,162.50 292.3,162.24 292.8,162.30 293.3,162.48 293.8,162.86 294.3,162.81 294.8,162.70 295.3,162.88 295.8,162.82 296.3,162.92 296.8,162.90 297.3,162.55 297.8,162.66 298.3,162.77 298.8,162.75 299.3,162.66 299.8,162.61 300.3,163.08 300.8,162.51 301.3,162.78 301.8,162.86 302.3,162.43 302.8,162.58 303.3,162.86 303.8,163.09 304.3,162.81 304.8,162.81 305.3,162.85 305.8,163.05 306.3,162.71 306.8,162.94 307.3,162.59 307.8,162.75 308.3,162.92 308.8,162.55 309.3,162.81 309.8,163.07 310.3,162.93 310.8,163.09 311.3,162.83 311.8,162.50 312.3,162.47 312.8,162.68 313.3,163.03 313.8,162.97 314.3,162.99 314.8,162.88 315.3,162.69 315.8,163.12 316.3,162.80 316.8,162.84 317.3,162.68 317.8,162.56 318.3,162.86 318.8,162.72 319.3,162.95 319.8,162.83 320.3,162.70 320.8,163.11 321.3,162.79 321.8,162.79 322.3,163.02 322.8,162.97 323.3,162.57 323.8,162.90 324.3,163.01 324.8,162.95 325.3,162.78 325.8,162.87 326.3,162.90 326.8,162.92 327.3,163.00 327.8,162.80 328.3,162.73 328.8,163.09 329.3,162.74 329.8,162.94 330.3,162.47 330.8,162.50 331.3,163.06 331.8,162.67 332.3,162.91 332.8,163.08 333.3,162.54 333.8,162.52 334.3,162.60 334.8,162.71 335.3,162.47 335.8,162.77 336.3,162.68 336.8,162.70 337.3,162.55 337.8,162.56 338.3,162.94 338.8,163.01 339.3,162.77 339.8,162.74 340.3,162.91 340.8,162.55 341.3,162.56 341.8,162.68 342.3,162.78 342.8,162.67 343.3,163.02 343.8,162.59 344.3,163.07 344.8,162.53 345.3,162.72 345.8,162.96 346.3,163.03 346.8,162.74 347.3,162.83 347.8,162.67 348.3,163.09 348.8,162.55 349.3,162.86 349.8,162.85 350.3,162.64 350.8,162.74 351.3,162.85 351.8,162.96 352.3,162.83 352.8,163.14 353.3,162.98 353.8,162.58 354.3,163.08 354.8,163.10 355.3,162.57 355.8,162.90 356.3,162.79 356.8,162.75 357.3,162.66 357.8,162.94 358.3,162.62 358.8,163.16 359.3,162.57 359.8,162.95 360.3,162.72 360.8,162.95 361.3,162.64 361.8,162.90 362.3,162.74 362.8,162.94 363.3,162.58 363.8,162.62 364.3,163.02 364.8,162.63 365.3,162.50 365.8,163.00 366.3,163.03 366.8,162.51 367.3,162.49 367.8,163.07 368.3,162.62 368.8,162.51 369.3,162.98" fill="none" stroke="#000" stroke-width="1.7" stroke-linejoin="round"/>
<polygon points="172.3,175.50 172.8,175.84 173.3,175.49 173.8,175.69 174.3,175.71 174.8,175.96 175.3,175.59 175.8,175.55 176.3,175.84 176.8,176.01 177.3,175.98 177.8,175.86 178.3,175.35 178.8,175.52 179.3,175.42 179.8,175.52 180.3,175.95 180.8,175.77 181.3,175.38 181.8,175.45 182.3,175.35 182.8,175.47 183.3,175.55 183.8,175.51 184.3,175.40 184.8,175.74 185.3,176.02 185.8,175.82 186.3,176.03 186.8,175.85 187.3,175.63 187.8,175.85 188.3,175.87 188.8,175.98 189.3,175.79 189.8,175.68 190.3,175.63 190.8,175.38 191.3,175.99 191.8,175.86 192.3,175.99 192.8,175.39 193.3,175.60 193.8,175.58 194.3,175.47 194.8,176.04 195.3,175.41 195.8,175.81 196.3,175.60 196.8,175.76 197.3,175.52 197.8,175.83 198.3,175.84 198.8,175.86 199.3,175.53 199.8,175.72 200.3,175.93 200.8,175.79 201.3,175.64 201.8,175.78 202.3,175.62 202.8,175.45 203.3,175.59 203.8,175.48 204.3,175.82 204.8,175.43 205.3,175.38 205.8,175.67 206.3,176.02 206.8,175.98 207.3,175.51 207.8,175.43 208.3,175.53 208.8,175.68 209.3,175.66 209.8,175.95 210.3,175.61 210.8,175.33 211.3,175.89 211.8,175.61 212.3,175.44 212.8,175.58 213.3,175.79 213.8,175.87 214.3,175.52 214.8,175.38 215.3,175.42 215.8,175.75 216.3,175.51 216.8,175.46 217.3,175.77 217.8,175.50 218.3,175.76 218.8,175.89 219.3,176.03 219.8,175.52 220.3,175.50 220.8,176.00 221.3,175.98 221.8,175.80 222.3,175.88 222.8,175.51 223.3,175.89 223.8,175.61 224.3,175.63 224.8,175.78 225.3,175.42 225.8,175.71 226.3,175.66 226.8,175.55 227.3,175.73 227.8,175.88 228.3,175.35 228.8,175.49 229.3,175.63 229.8,175.66 230.3,175.58 230.8,175.80 231.3,175.96 231.8,175.62 232.3,175.37 232.8,175.93 233.3,175.31 233.8,175.74 234.3,175.30 234.8,175.46 235.3,175.80 235.8,175.84 236.3,175.37 236.8,175.30 237.3,175.42 237.8,175.57 238.3,175.60 238.8,175.43 239.3,175.40 239.8,175.39 240.3,175.77 240.8,175.39 241.3,175.29 241.8,175.55 242.3,175.95 242.8,175.82 243.3,175.49 243.8,175.64 244.3,175.29 244.8,175.48 245.3,175.43 245.8,175.81 246.3,175.54 246.8,175.40 247.3,175.24 247.8,175.25 248.3,175.68 248.8,175.50 249.3,175.15 249.8,175.76 250.3,175.76 250.8,175.66 251.3,175.26 251.8,175.52 252.3,175.23 252.8,175.11 253.3,175.09 253.8,175.59 254.3,175.10 254.8,174.97 255.3,174.98 255.8,174.80 256.3,174.75 256.8,174.79 257.3,174.49 257.8,174.57 258.3,174.69 258.8,174.34 259.3,173.59 259.8,173.61 260.3,172.98 260.8,171.96 261.3,171.03 261.8,169.40 262.3,167.28 262.8,163.69 263.3,159.01 263.8,153.72 264.3,152.06 264.8,155.40 265.3,160.84 265.8,165.59 266.3,168.22 266.8,170.58 267.3,171.71 267.8,172.88 268.3,173.21 268.8,173.91 269.3,173.71 269.8,174.38 270.3,174.27 270.8,174.71 271.3,174.92 271.8,174.67 272.3,175.16 272.8,175.07 273.3,175.05 273.8,174.85 274.3,175.10 274.8,175.60 275.3,175.36 275.8,175.04 276.3,175.13 276.8,175.50 277.3,175.69 277.8,175.61 278.3,175.29 278.8,175.71 279.3,175.22 279.8,175.67 280.3,175.39 280.8,175.39 281.3,175.71 281.8,175.52 282.3,175.43 282.8,175.64 283.3,175.38 283.8,175.18 284.3,174.74 284.8,174.93 285.3,174.63 285.8,173.98 286.3,173.51 286.8,173.25 287.3,172.76 287.8,173.24 288.3,173.20 288.8,173.54 289.3,174.14 289.8,174.39 290.3,174.78 290.8,175.15 291.3,175.10 291.8,175.11 292.3,175.21 292.8,175.79 293.3,175.71 293.8,175.32 294.3,175.94 294.8,175.94 295.3,175.96 295.8,175.33 296.3,175.65 296.8,175.70 297.3,175.94 297.8,175.39 298.3,175.31 298.8,175.53 299.3,175.37 299.8,175.62 300.3,175.80 300.8,175.89 301.3,175.80 301.8,175.91 302.3,175.76 302.8,175.99 303.3,175.99 303.8,175.39 304.3,175.43 304.8,175.45 305.3,175.78 305.8,175.71 306.3,175.64 306.8,175.47 307.3,175.81 307.8,175.67 308.3,175.64 308.8,175.44 309.3,175.78 309.8,176.03 310.3,175.75 310.8,175.41 311.3,175.91 311.8,175.59 312.3,175.94 312.8,175.84 313.3,175.59 313.8,175.96 314.3,175.71 314.8,175.62 315.3,175.76 315.8,175.50 316.3,175.44 316.8,175.84 317.3,175.50 317.8,175.50 318.3,175.62 318.8,175.62 319.3,175.64 319.8,175.52 320.3,175.55 320.8,175.85 321.3,175.58 321.8,175.54 322.3,175.71 322.8,175.41 323.3,175.82 323.8,175.65 324.3,175.64 324.8,175.61 325.3,175.91 325.8,175.57 326.3,175.96 326.8,175.66 327.3,175.72 327.8,175.55 328.3,175.44 328.8,175.35 329.3,175.88 329.8,175.40 330.3,175.71 330.8,175.69 331.3,176.01 331.8,175.44 332.3,175.88 332.8,175.85 333.3,175.83 333.8,175.88 334.3,175.84 334.8,175.84 335.3,175.67 335.8,175.79 336.3,175.51 336.8,175.39 337.3,175.39 337.8,175.78 338.3,175.56 338.8,175.53 339.3,175.53 339.8,175.76 340.3,175.91 340.8,175.51 341.3,175.58 341.8,175.80 342.3,175.58 342.8,176.00 343.3,175.49 343.8,175.41 344.3,175.36 344.8,175.96 345.3,175.56 345.8,175.50 346.3,175.94 346.8,175.62 347.3,175.91 347.8,175.89 348.3,176.02 348.8,175.85 349.3,175.45 349.8,175.63 350.3,175.49 350.8,175.36 351.3,175.94 351.8,175.45 352.3,175.42 352.8,175.59 353.3,175.81 353.8,175.92 354.3,175.74 354.8,175.78 355.3,175.86 355.8,175.57 356.3,175.60 356.8,175.86 357.3,175.92 357.8,175.70 358.3,175.55 358.8,175.58 359.3,175.60 359.8,175.42 360.3,175.51 360.8,175.74 361.3,175.52 361.8,175.58 362.3,175.81 362.8,175.93 363.3,175.78 363.8,175.54 364.3,175.52 364.8,175.83 365.3,175.67 365.8,175.99 366.3,175.63 366.8,175.73 367.3,175.51 367.8,175.44 368.3,176.01 368.8,175.37 369.3,175.93 369.6,176.30 172.3,176.30" fill="#fff"/>
<polyline points="172.3,175.50 172.8,175.84 173.3,175.49 173.8,175.69 174.3,175.71 174.8,175.96 175.3,175.59 175.8,175.55 176.3,175.84 176.8,176.01 177.3,175.98 177.8,175.86 178.3,175.35 178.8,175.52 179.3,175.42 179.8,175.52 180.3,175.95 180.8,175.77 181.3,175.38 181.8,175.45 182.3,175.35 182.8,175.47 183.3,175.55 183.8,175.51 184.3,175.40 184.8,175.74 185.3,176.02 185.8,175.82 186.3,176.03 186.8,175.85 187.3,175.63 187.8,175.85 188.3,175.87 188.8,175.98 189.3,175.79 189.8,175.68 190.3,175.63 190.8,175.38 191.3,175.99 191.8,175.86 192.3,175.99 192.8,175.39 193.3,175.60 193.8,175.58 194.3,175.47 194.8,176.04 195.3,175.41 195.8,175.81 196.3,175.60 196.8,175.76 197.3,175.52 197.8,175.83 198.3,175.84 198.8,175.86 199.3,175.53 199.8,175.72 200.3,175.93 200.8,175.79 201.3,175.64 201.8,175.78 202.3,175.62 202.8,175.45 203.3,175.59 203.8,175.48 204.3,175.82 204.8,175.43 205.3,175.38 205.8,175.67 206.3,176.02 206.8,175.98 207.3,175.51 207.8,175.43 208.3,175.53 208.8,175.68 209.3,175.66 209.8,175.95 210.3,175.61 210.8,175.33 211.3,175.89 211.8,175.61 212.3,175.44 212.8,175.58 213.3,175.79 213.8,175.87 214.3,175.52 214.8,175.38 215.3,175.42 215.8,175.75 216.3,175.51 216.8,175.46 217.3,175.77 217.8,175.50 218.3,175.76 218.8,175.89 219.3,176.03 219.8,175.52 220.3,175.50 220.8,176.00 221.3,175.98 221.8,175.80 222.3,175.88 222.8,175.51 223.3,175.89 223.8,175.61 224.3,175.63 224.8,175.78 225.3,175.42 225.8,175.71 226.3,175.66 226.8,175.55 227.3,175.73 227.8,175.88 228.3,175.35 228.8,175.49 229.3,175.63 229.8,175.66 230.3,175.58 230.8,175.80 231.3,175.96 231.8,175.62 232.3,175.37 232.8,175.93 233.3,175.31 233.8,175.74 234.3,175.30 234.8,175.46 235.3,175.80 235.8,175.84 236.3,175.37 236.8,175.30 237.3,175.42 237.8,175.57 238.3,175.60 238.8,175.43 239.3,175.40 239.8,175.39 240.3,175.77 240.8,175.39 241.3,175.29 241.8,175.55 242.3,175.95 242.8,175.82 243.3,175.49 243.8,175.64 244.3,175.29 244.8,175.48 245.3,175.43 245.8,175.81 246.3,175.54 246.8,175.40 247.3,175.24 247.8,175.25 248.3,175.68 248.8,175.50 249.3,175.15 249.8,175.76 250.3,175.76 250.8,175.66 251.3,175.26 251.8,175.52 252.3,175.23 252.8,175.11 253.3,175.09 253.8,175.59 254.3,175.10 254.8,174.97 255.3,174.98 255.8,174.80 256.3,174.75 256.8,174.79 257.3,174.49 257.8,174.57 258.3,174.69 258.8,174.34 259.3,173.59 259.8,173.61 260.3,172.98 260.8,171.96 261.3,171.03 261.8,169.40 262.3,167.28 262.8,163.69 263.3,159.01 263.8,153.72 264.3,152.06 264.8,155.40 265.3,160.84 265.8,165.59 266.3,168.22 266.8,170.58 267.3,171.71 267.8,172.88 268.3,173.21 268.8,173.91 269.3,173.71 269.8,174.38 270.3,174.27 270.8,174.71 271.3,174.92 271.8,174.67 272.3,175.16 272.8,175.07 273.3,175.05 273.8,174.85 274.3,175.10 274.8,175.60 275.3,175.36 275.8,175.04 276.3,175.13 276.8,175.50 277.3,175.69 277.8,175.61 278.3,175.29 278.8,175.71 279.3,175.22 279.8,175.67 280.3,175.39 280.8,175.39 281.3,175.71 281.8,175.52 282.3,175.43 282.8,175.64 283.3,175.38 283.8,175.18 284.3,174.74 284.8,174.93 285.3,174.63 285.8,173.98 286.3,173.51 286.8,173.25 287.3,172.76 287.8,173.24 288.3,173.20 288.8,173.54 289.3,174.14 289.8,174.39 290.3,174.78 290.8,175.15 291.3,175.10 291.8,175.11 292.3,175.21 292.8,175.79 293.3,175.71 293.8,175.32 294.3,175.94 294.8,175.94 295.3,175.96 295.8,175.33 296.3,175.65 296.8,175.70 297.3,175.94 297.8,175.39 298.3,175.31 298.8,175.53 299.3,175.37 299.8,175.62 300.3,175.80 300.8,175.89 301.3,175.80 301.8,175.91 302.3,175.76 302.8,175.99 303.3,175.99 303.8,175.39 304.3,175.43 304.8,175.45 305.3,175.78 305.8,175.71 306.3,175.64 306.8,175.47 307.3,175.81 307.8,175.67 308.3,175.64 308.8,175.44 309.3,175.78 309.8,176.03 310.3,175.75 310.8,175.41 311.3,175.91 311.8,175.59 312.3,175.94 312.8,175.84 313.3,175.59 313.8,175.96 314.3,175.71 314.8,175.62 315.3,175.76 315.8,175.50 316.3,175.44 316.8,175.84 317.3,175.50 317.8,175.50 318.3,175.62 318.8,175.62 319.3,175.64 319.8,175.52 320.3,175.55 320.8,175.85 321.3,175.58 321.8,175.54 322.3,175.71 322.8,175.41 323.3,175.82 323.8,175.65 324.3,175.64 324.8,175.61 325.3,175.91 325.8,175.57 326.3,175.96 326.8,175.66 327.3,175.72 327.8,175.55 328.3,175.44 328.8,175.35 329.3,175.88 329.8,175.40 330.3,175.71 330.8,175.69 331.3,176.01 331.8,175.44 332.3,175.88 332.8,175.85 333.3,175.83 333.8,175.88 334.3,175.84 334.8,175.84 335.3,175.67 335.8,175.79 336.3,175.51 336.8,175.39 337.3,175.39 337.8,175.78 338.3,175.56 338.8,175.53 339.3,175.53 339.8,175.76 340.3,175.91 340.8,175.51 341.3,175.58 341.8,175.80 342.3,175.58 342.8,176.00 343.3,175.49 343.8,175.41 344.3,175.36 344.8,175.96 345.3,175.56 345.8,175.50 346.3,175.94 346.8,175.62 347.3,175.91 347.8,175.89 348.3,176.02 348.8,175.85 349.3,175.45 349.8,175.63 350.3,175.49 350.8,175.36 351.3,175.94 351.8,175.45 352.3,175.42 352.8,175.59 353.3,175.81 353.8,175.92 354.3,175.74 354.8,175.78 355.3,175.86 355.8,175.57 356.3,175.60 356.8,175.86 357.3,175.92 357.8,175.70 358.3,175.55 358.8,175.58 359.3,175.60 359.8,175.42 360.3,175.51 360.8,175.74 361.3,175.52 361.8,175.58 362.3,175.81 362.8,175.93 363.3,175.78 363.8,175.54 364.3,175.52 364.8,175.83 365.3,175.67 365.8,175.99 366.3,175.63 366.8,175.73 367.3,175.51 367.8,175.44 368.3,176.01 368.8,175.37 369.3,175.93" fill="none" stroke="#000" stroke-width="1.7" stroke-linejoin="round"/>
<polygon points="172.3,188.25 172.8,188.24 173.3,188.77 173.8,188.72 174.3,188.82 174.8,188.29 175.3,188.40 175.8,188.25 176.3,188.36 176.8,188.67 177.3,188.38 177.8,188.68 178.3,188.70 178.8,188.63 179.3,188.44 179.8,188.70 180.3,188.53 180.8,188.53 181.3,188.37 181.8,188.60 182.3,188.63 182.8,188.54 183.3,188.60 183.8,188.41 184.3,188.85 184.8,188.80 185.3,188.90 185.8,188.64 186.3,188.33 186.8,188.51 187.3,188.48 187.8,188.27 188.3,188.35 188.8,188.72 189.3,188.77 189.8,188.55 190.3,188.76 190.8,188.51 191.3,188.87 191.8,188.65 192.3,188.42 192.8,188.75 193.3,188.82 193.8,188.40 194.3,188.79 194.8,188.29 195.3,188.49 195.8,188.30 196.3,188.55 196.8,188.58 197.3,188.74 197.8,188.88 198.3,188.26 198.8,188.77 199.3,188.87 199.8,188.27 200.3,188.55 200.8,188.52 201.3,188.28 201.8,188.41 202.3,188.74 202.8,188.72 203.3,188.46 203.8,188.44 204.3,188.76 204.8,188.75 205.3,188.56 205.8,188.88 206.3,188.36 206.8,188.46 207.3,188.81 207.8,188.51 208.3,188.50 208.8,188.86 209.3,188.62 209.8,188.36 210.3,188.60 210.8,188.41 211.3,188.75 211.8,188.22 212.3,188.45 212.8,188.53 213.3,188.91 213.8,188.67 214.3,188.91 214.8,188.61 215.3,188.79 215.8,188.74 216.3,188.70 216.8,188.81 217.3,188.71 217.8,188.56 218.3,188.82 218.8,188.52 219.3,188.25 219.8,188.41 220.3,188.24 220.8,188.83 221.3,188.45 221.8,188.74 222.3,188.25 222.8,188.56 223.3,188.40 223.8,188.36 224.3,188.81 224.8,188.83 225.3,188.34 225.8,188.33 226.3,188.60 226.8,188.88 227.3,188.88 227.8,188.34 228.3,188.41 228.8,188.63 229.3,188.42 229.8,188.33 230.3,188.89 230.8,188.37 231.3,188.20 231.8,188.28 232.3,188.27 232.8,188.57 233.3,188.46 233.8,188.80 234.3,188.32 234.8,188.41 235.3,188.59 235.8,188.83 236.3,188.74 236.8,188.58 237.3,188.21 237.8,188.52 238.3,188.24 238.8,188.71 239.3,188.66 239.8,188.67 240.3,188.62 240.8,188.26 241.3,188.55 241.8,188.58 242.3,188.31 242.8,188.47 243.3,188.15 243.8,188.26 244.3,188.15 244.8,188.42 245.3,188.42 245.8,188.35 246.3,187.95 246.8,187.95 247.3,188.17 247.8,188.18 248.3,188.41 248.8,187.79 249.3,187.88 249.8,187.91 250.3,187.94 250.8,187.55 251.3,187.14 251.8,187.12 252.3,186.66 252.8,185.84 253.3,184.91 253.8,183.92 254.3,182.13 254.8,180.10 255.3,179.03 255.8,180.10 256.3,182.16 256.8,183.76 257.3,185.13 257.8,185.66 258.3,186.69 258.8,186.62 259.3,187.43 259.8,187.75 260.3,188.04 260.8,187.85 261.3,187.94 261.8,187.85 262.3,188.00 262.8,188.14 263.3,188.53 263.8,187.96 264.3,188.47 264.8,188.51 265.3,188.57 265.8,188.31 266.3,188.28 266.8,188.53 267.3,188.59 267.8,188.77 268.3,188.37 268.8,188.30 269.3,188.72 269.8,188.65 270.3,188.30 270.8,188.33 271.3,188.74 271.8,188.15 272.3,188.35 272.8,188.35 273.3,188.63 273.8,188.18 274.3,188.55 274.8,188.42 275.3,188.18 275.8,188.29 276.3,188.75 276.8,188.79 277.3,188.73 277.8,188.80 278.3,188.27 278.8,188.51 279.3,188.55 279.8,188.63 280.3,188.54 280.8,188.59 281.3,188.38 281.8,188.59 282.3,188.26 282.8,188.24 283.3,188.16 283.8,188.14 284.3,188.38 284.8,187.98 285.3,187.40 285.8,187.42 286.3,186.95 286.8,186.94 287.3,186.36 287.8,186.69 288.3,186.79 288.8,186.72 289.3,187.54 289.8,187.93 290.3,187.93 290.8,188.16 291.3,188.57 291.8,188.49 292.3,188.30 292.8,188.26 293.3,188.25 293.8,188.35 294.3,188.86 294.8,188.66 295.3,188.60 295.8,188.90 296.3,188.37 296.8,188.72 297.3,188.37 297.8,188.44 298.3,188.73 298.8,188.68 299.3,188.60 299.8,188.78 300.3,188.91 300.8,188.62 301.3,188.76 301.8,188.74 302.3,188.37 302.8,188.40 303.3,188.63 303.8,188.90 304.3,188.39 304.8,188.74 305.3,188.85 305.8,188.39 306.3,188.29 306.8,188.74 307.3,188.54 307.8,188.30 308.3,188.56 308.8,188.68 309.3,188.81 309.8,188.90 310.3,188.30 310.8,188.35 311.3,188.80 311.8,188.47 312.3,188.79 312.8,188.40 313.3,188.66 313.8,188.44 314.3,188.55 314.8,188.87 315.3,188.52 315.8,188.47 316.3,188.89 316.8,188.90 317.3,188.73 317.8,188.42 318.3,188.24 318.8,188.61 319.3,188.32 319.8,188.43 320.3,188.73 320.8,188.61 321.3,188.33 321.8,188.59 322.3,188.57 322.8,188.42 323.3,188.82 323.8,188.60 324.3,188.56 324.8,188.53 325.3,188.44 325.8,188.74 326.3,188.59 326.8,188.60 327.3,188.85 327.8,188.37 328.3,188.25 328.8,188.53 329.3,188.64 329.8,188.67 330.3,188.61 330.8,188.67 331.3,188.74 331.8,188.26 332.3,188.67 332.8,188.78 333.3,188.46 333.8,188.92 334.3,188.68 334.8,188.53 335.3,188.35 335.8,188.71 336.3,188.89 336.8,188.25 337.3,188.92 337.8,188.63 338.3,188.57 338.8,188.24 339.3,188.68 339.8,188.76 340.3,188.73 340.8,188.66 341.3,188.83 341.8,188.30 342.3,188.57 342.8,188.41 343.3,188.73 343.8,188.46 344.3,188.29 344.8,188.77 345.3,188.26 345.8,188.73 346.3,188.42 346.8,188.27 347.3,188.60 347.8,188.28 348.3,188.65 348.8,188.62 349.3,188.28 349.8,188.51 350.3,188.89 350.8,188.82 351.3,188.55 351.8,188.69 352.3,188.89 352.8,188.36 353.3,188.70 353.8,188.29 354.3,188.67 354.8,188.80 355.3,188.63 355.8,188.35 356.3,188.29 356.8,188.53 357.3,188.75 357.8,188.56 358.3,188.74 358.8,188.67 359.3,188.92 359.8,188.91 360.3,188.28 360.8,188.39 361.3,188.76 361.8,188.50 362.3,188.90 362.8,188.35 363.3,188.50 363.8,188.42 364.3,188.63 364.8,188.62 365.3,188.36 365.8,188.71 366.3,188.87 366.8,188.85 367.3,188.29 367.8,188.73 368.3,188.88 368.8,188.53 369.3,188.84 369.6,189.18 172.3,189.18" fill="#fff"/>
<polyline points="172.3,188.25 172.8,188.24 173.3,188.77 173.8,188.72 174.3,188.82 174.8,188.29 175.3,188.40 175.8,188.25 176.3,188.36 176.8,188.67 177.3,188.38 177.8,188.68 178.3,188.70 178.8,188.63 179.3,188.44 179.8,188.70 180.3,188.53 180.8,188.53 181.3,188.37 181.8,188.60 182.3,188.63 182.8,188.54 183.3,188.60 183.8,188.41 184.3,188.85 184.8,188.80 185.3,188.90 185.8,188.64 186.3,188.33 186.8,188.51 187.3,188.48 187.8,188.27 188.3,188.35 188.8,188.72 189.3,188.77 189.8,188.55 190.3,188.76 190.8,188.51 191.3,188.87 191.8,188.65 192.3,188.42 192.8,188.75 193.3,188.82 193.8,188.40 194.3,188.79 194.8,188.29 195.3,188.49 195.8,188.30 196.3,188.55 196.8,188.58 197.3,188.74 197.8,188.88 198.3,188.26 198.8,188.77 199.3,188.87 199.8,188.27 200.3,188.55 200.8,188.52 201.3,188.28 201.8,188.41 202.3,188.74 202.8,188.72 203.3,188.46 203.8,188.44 204.3,188.76 204.8,188.75 205.3,188.56 205.8,188.88 206.3,188.36 206.8,188.46 207.3,188.81 207.8,188.51 208.3,188.50 208.8,188.86 209.3,188.62 209.8,188.36 210.3,188.60 210.8,188.41 211.3,188.75 211.8,188.22 212.3,188.45 212.8,188.53 213.3,188.91 213.8,188.67 214.3,188.91 214.8,188.61 215.3,188.79 215.8,188.74 216.3,188.70 216.8,188.81 217.3,188.71 217.8,188.56 218.3,188.82 218.8,188.52 219.3,188.25 219.8,188.41 220.3,188.24 220.8,188.83 221.3,188.45 221.8,188.74 222.3,188.25 222.8,188.56 223.3,188.40 223.8,188.36 224.3,188.81 224.8,188.83 225.3,188.34 225.8,188.33 226.3,188.60 226.8,188.88 227.3,188.88 227.8,188.34 228.3,188.41 228.8,188.63 229.3,188.42 229.8,188.33 230.3,188.89 230.8,188.37 231.3,188.20 231.8,188.28 232.3,188.27 232.8,188.57 233.3,188.46 233.8,188.80 234.3,188.32 234.8,188.41 235.3,188.59 235.8,188.83 236.3,188.74 236.8,188.58 237.3,188.21 237.8,188.52 238.3,188.24 238.8,188.71 239.3,188.66 239.8,188.67 240.3,188.62 240.8,188.26 241.3,188.55 241.8,188.58 242.3,188.31 242.8,188.47 243.3,188.15 243.8,188.26 244.3,188.15 244.8,188.42 245.3,188.42 245.8,188.35 246.3,187.95 246.8,187.95 247.3,188.17 247.8,188.18 248.3,188.41 248.8,187.79 249.3,187.88 249.8,187.91 250.3,187.94 250.8,187.55 251.3,187.14 251.8,187.12 252.3,186.66 252.8,185.84 253.3,184.91 253.8,183.92 254.3,182.13 254.8,180.10 255.3,179.03 255.8,180.10 256.3,182.16 256.8,183.76 257.3,185.13 257.8,185.66 258.3,186.69 258.8,186.62 259.3,187.43 259.8,187.75 260.3,188.04 260.8,187.85 261.3,187.94 261.8,187.85 262.3,188.00 262.8,188.14 263.3,188.53 263.8,187.96 264.3,188.47 264.8,188.51 265.3,188.57 265.8,188.31 266.3,188.28 266.8,188.53 267.3,188.59 267.8,188.77 268.3,188.37 268.8,188.30 269.3,188.72 269.8,188.65 270.3,188.30 270.8,188.33 271.3,188.74 271.8,188.15 272.3,188.35 272.8,188.35 273.3,188.63 273.8,188.18 274.3,188.55 274.8,188.42 275.3,188.18 275.8,188.29 276.3,188.75 276.8,188.79 277.3,188.73 277.8,188.80 278.3,188.27 278.8,188.51 279.3,188.55 279.8,188.63 280.3,188.54 280.8,188.59 281.3,188.38 281.8,188.59 282.3,188.26 282.8,188.24 283.3,188.16 283.8,188.14 284.3,188.38 284.8,187.98 285.3,187.40 285.8,187.42 286.3,186.95 286.8,186.94 287.3,186.36 287.8,186.69 288.3,186.79 288.8,186.72 289.3,187.54 289.8,187.93 290.3,187.93 290.8,188.16 291.3,188.57 291.8,188.49 292.3,188.30 292.8,188.26 293.3,188.25 293.8,188.35 294.3,188.86 294.8,188.66 295.3,188.60 295.8,188.90 296.3,188.37 296.8,188.72 297.3,188.37 297.8,188.44 298.3,188.73 298.8,188.68 299.3,188.60 299.8,188.78 300.3,188.91 300.8,188.62 301.3,188.76 301.8,188.74 302.3,188.37 302.8,188.40 303.3,188.63 303.8,188.90 304.3,188.39 304.8,188.74 305.3,188.85 305.8,188.39 306.3,188.29 306.8,188.74 307.3,188.54 307.8,188.30 308.3,188.56 308.8,188.68 309.3,188.81 309.8,188.90 310.3,188.30 310.8,188.35 311.3,188.80 311.8,188.47 312.3,188.79 312.8,188.40 313.3,188.66 313.8,188.44 314.3,188.55 314.8,188.87 315.3,188.52 315.8,188.47 316.3,188.89 316.8,188.90 317.3,188.73 317.8,188.42 318.3,188.24 318.8,188.61 319.3,188.32 319.8,188.43 320.3,188.73 320.8,188.61 321.3,188.33 321.8,188.59 322.3,188.57 322.8,188.42 323.3,188.82 323.8,188.60 324.3,188.56 324.8,188.53 325.3,188.44 325.8,188.74 326.3,188.59 326.8,188.60 327.3,188.85 327.8,188.37 328.3,188.25 328.8,188.53 329.3,188.64 329.8,188.67 330.3,188.61 330.8,188.67 331.3,188.74 331.8,188.26 332.3,188.67 332.8,188.78 333.3,188.46 333.8,188.92 334.3,188.68 334.8,188.53 335.3,188.35 335.8,188.71 336.3,188.89 336.8,188.25 337.3,188.92 337.8,188.63 338.3,188.57 338.8,188.24 339.3,188.68 339.8,188.76 340.3,188.73 340.8,188.66 341.3,188.83 341.8,188.30 342.3,188.57 342.8,188.41 343.3,188.73 343.8,188.46 344.3,188.29 344.8,188.77 345.3,188.26 345.8,188.73 346.3,188.42 346.8,188.27 347.3,188.60 347.8,188.28 348.3,188.65 348.8,188.62 349.3,188.28 349.8,188.51 350.3,188.89 350.8,188.82 351.3,188.55 351.8,188.69 352.3,188.89 352.8,188.36 353.3,188.70 353.8,188.29 354.3,188.67 354.8,188.80 355.3,188.63 355.8,188.35 356.3,188.29 356.8,188.53 357.3,188.75 357.8,188.56 358.3,188.74 358.8,188.67 359.3,188.92 359.8,188.91 360.3,188.28 360.8,188.39 361.3,188.76 361.8,188.50 362.3,188.90 362.8,188.35 363.3,188.50 363.8,188.42 364.3,188.63 364.8,188.62 365.3,188.36 365.8,188.71 366.3,188.87 366.8,188.85 367.3,188.29 367.8,188.73 368.3,188.88 368.8,188.53 369.3,188.84" fill="none" stroke="#000" stroke-width="1.7" stroke-linejoin="round"/>
<polygon points="172.3,201.51 172.8,201.26 173.3,201.64 173.8,201.51 174.3,201.15 174.8,201.20 175.3,201.20 175.8,201.78 176.3,201.13 176.8,201.41 177.3,201.70 177.8,201.12 178.3,201.72 178.8,201.12 179.3,201.78 179.8,201.75 180.3,201.47 180.8,201.38 181.3,201.40 181.8,201.23 182.3,201.73 182.8,201.30 183.3,201.58 183.8,201.14 184.3,201.37 184.8,201.32 185.3,201.71 185.8,201.16 186.3,201.60 186.8,201.66 187.3,201.51 187.8,201.26 188.3,201.58 188.8,201.47 189.3,201.38 189.8,201.63 190.3,201.72 190.8,201.52 191.3,201.30 191.8,201.33 192.3,201.65 192.8,201.34 193.3,201.22 193.8,201.31 194.3,201.67 194.8,201.77 195.3,201.11 195.8,201.31 196.3,201.61 196.8,201.28 197.3,201.40 197.8,201.36 198.3,201.55 198.8,201.33 199.3,201.53 199.8,201.53 200.3,201.57 200.8,201.29 201.3,201.20 201.8,201.60 202.3,201.75 202.8,201.62 203.3,201.27 203.8,201.55 204.3,201.79 204.8,201.21 205.3,201.49 205.8,201.75 206.3,201.27 206.8,201.44 207.3,201.20 207.8,201.21 208.3,201.22 208.8,201.18 209.3,201.53 209.8,201.23 210.3,201.45 210.8,201.34 211.3,201.64 211.8,201.36 212.3,201.74 212.8,201.19 213.3,201.67 213.8,201.39 214.3,201.20 214.8,201.21 215.3,201.19 215.8,201.49 216.3,201.74 216.8,201.10 217.3,201.57 217.8,201.18 218.3,201.50 218.8,201.48 219.3,201.40 219.8,201.40 220.3,201.24 220.8,201.37 221.3,201.66 221.8,201.41 222.3,201.71 222.8,201.18 223.3,201.65 223.8,201.52 224.3,201.36 224.8,201.53 225.3,201.14 225.8,201.21 226.3,201.53 226.8,201.46 227.3,201.24 227.8,201.40 228.3,201.31 228.8,201.51 229.3,201.35 229.8,201.33 230.3,201.11 230.8,201.49 231.3,201.17 231.8,201.57 232.3,201.51 232.8,201.55 233.3,201.05 233.8,201.63 234.3,201.48 234.8,201.34 235.3,201.16 235.8,201.18 236.3,201.55 236.8,201.34 237.3,201.09 237.8,201.47 238.3,201.45 238.8,200.93 239.3,201.46 239.8,201.36 240.3,201.22 240.8,200.69 241.3,200.93 241.8,200.75 242.3,200.51 242.8,200.04 243.3,200.34 243.8,199.80 244.3,199.05 244.8,198.01 245.3,197.14 245.8,195.43 246.3,194.07 246.8,194.28 247.3,195.20 247.8,196.90 248.3,197.60 248.8,199.17 249.3,199.72 249.8,199.86 250.3,200.45 250.8,200.44 251.3,200.78 251.8,200.46 252.3,200.86 252.8,201.09 253.3,201.27 253.8,201.12 254.3,200.95 254.8,201.03 255.3,201.07 255.8,201.23 256.3,200.95 256.8,201.35 257.3,201.26 257.8,200.99 258.3,201.12 258.8,201.35 259.3,201.13 259.8,201.16 260.3,201.50 260.8,201.43 261.3,201.19 261.8,201.46 262.3,201.49 262.8,201.36 263.3,201.69 263.8,201.56 264.3,201.06 264.8,201.58 265.3,201.19 265.8,201.75 266.3,201.55 266.8,201.40 267.3,201.55 267.8,201.11 268.3,201.10 268.8,201.56 269.3,201.68 269.8,201.13 270.3,201.22 270.8,201.41 271.3,201.74 271.8,201.77 272.3,201.30 272.8,201.30 273.3,201.46 273.8,201.55 274.3,201.59 274.8,201.53 275.3,201.49 275.8,201.36 276.3,201.50 276.8,201.55 277.3,201.63 277.8,201.33 278.3,201.13 278.8,201.66 279.3,201.25 279.8,201.34 280.3,201.63 280.8,201.70 281.3,201.20 281.8,201.68 282.3,201.68 282.8,201.67 283.3,201.10 283.8,201.29 284.3,201.40 284.8,200.97 285.3,200.52 285.8,200.23 286.3,200.14 286.8,199.38 287.3,199.34 287.8,199.62 288.3,199.72 288.8,200.00 289.3,200.48 289.8,200.40 290.3,200.93 290.8,200.90 291.3,200.95 291.8,201.43 292.3,201.52 292.8,201.51 293.3,201.45 293.8,201.76 294.3,201.53 294.8,201.58 295.3,201.72 295.8,201.22 296.3,201.31 296.8,201.46 297.3,201.75 297.8,201.29 298.3,201.54 298.8,201.19 299.3,201.35 299.8,201.64 300.3,201.28 300.8,201.39 301.3,201.56 301.8,201.25 302.3,201.57 302.8,201.70 303.3,201.77 303.8,201.37 304.3,201.61 304.8,201.69 305.3,201.77 305.8,201.26 306.3,201.61 306.8,201.20 307.3,201.18 307.8,201.23 308.3,201.65 308.8,201.14 309.3,201.37 309.8,201.21 310.3,201.17 310.8,201.58 311.3,201.54 311.8,201.18 312.3,201.60 312.8,201.74 313.3,201.78 313.8,201.42 314.3,201.59 314.8,201.14 315.3,201.80 315.8,201.53 316.3,201.31 316.8,201.38 317.3,201.22 317.8,201.35 318.3,201.20 318.8,201.13 319.3,201.20 319.8,201.38 320.3,201.53 320.8,201.44 321.3,201.65 321.8,201.63 322.3,201.44 322.8,201.50 323.3,201.54 323.8,201.75 324.3,201.12 324.8,201.57 325.3,201.47 325.8,201.56 326.3,201.42 326.8,201.26 327.3,201.15 327.8,201.38 328.3,201.15 328.8,201.55 329.3,201.48 329.8,201.57 330.3,201.13 330.8,201.72 331.3,201.65 331.8,201.27 332.3,201.64 332.8,201.76 333.3,201.55 333.8,201.48 334.3,201.49 334.8,201.64 335.3,201.56 335.8,201.61 336.3,201.68 336.8,201.45 337.3,201.65 337.8,201.67 338.3,201.16 338.8,201.19 339.3,201.54 339.8,201.44 340.3,201.74 340.8,201.79 341.3,201.45 341.8,201.15 342.3,201.75 342.8,201.49 343.3,201.25 343.8,201.80 344.3,201.40 344.8,201.62 345.3,201.28 345.8,201.23 346.3,201.19 346.8,201.26 347.3,201.75 347.8,201.35 348.3,201.42 348.8,201.60 349.3,201.67 349.8,201.48 350.3,201.51 350.8,201.52 351.3,201.14 351.8,201.65 352.3,201.21 352.8,201.71 353.3,201.33 353.8,201.50 354.3,201.53 354.8,201.47 355.3,201.72 355.8,201.65 356.3,201.52 356.8,201.67 357.3,201.22 357.8,201.32 358.3,201.37 358.8,201.32 359.3,201.69 359.8,201.80 360.3,201.75 360.8,201.19 361.3,201.47 361.8,201.13 362.3,201.58 362.8,201.54 363.3,201.35 363.8,201.22 364.3,201.51 364.8,201.47 365.3,201.56 365.8,201.64 366.3,201.17 366.8,201.18 367.3,201.50 367.8,201.71 368.3,201.20 368.8,201.48 369.3,201.29 369.6,202.06 172.3,202.06" fill="#fff"/>
<polyline points="172.3,201.51 172.8,201.26 173.3,201.64 173.8,201.51 174.3,201.15 174.8,201.20 175.3,201.20 175.8,201.78 176.3,201.13 176.8,201.41 177.3,201.70 177.8,201.12 178.3,201.72 178.8,201.12 179.3,201.78 179.8,201.75 180.3,201.47 180.8,201.38 181.3,201.40 181.8,201.23 182.3,201.73 182.8,201.30 183.3,201.58 183.8,201.14 184.3,201.37 184.8,201.32 185.3,201.71 185.8,201.16 186.3,201.60 186.8,201.66 187.3,201.51 187.8,201.26 188.3,201.58 188.8,201.47 189.3,201.38 189.8,201.63 190.3,201.72 190.8,201.52 191.3,201.30 191.8,201.33 192.3,201.65 192.8,201.34 193.3,201.22 193.8,201.31 194.3,201.67 194.8,201.77 195.3,201.11 195.8,201.31 196.3,201.61 196.8,201.28 197.3,201.40 197.8,201.36 198.3,201.55 198.8,201.33 199.3,201.53 199.8,201.53 200.3,201.57 200.8,201.29 201.3,201.20 201.8,201.60 202.3,201.75 202.8,201.62 203.3,201.27 203.8,201.55 204.3,201.79 204.8,201.21 205.3,201.49 205.8,201.75 206.3,201.27 206.8,201.44 207.3,201.20 207.8,201.21 208.3,201.22 208.8,201.18 209.3,201.53 209.8,201.23 210.3,201.45 210.8,201.34 211.3,201.64 211.8,201.36 212.3,201.74 212.8,201.19 213.3,201.67 213.8,201.39 214.3,201.20 214.8,201.21 215.3,201.19 215.8,201.49 216.3,201.74 216.8,201.10 217.3,201.57 217.8,201.18 218.3,201.50 218.8,201.48 219.3,201.40 219.8,201.40 220.3,201.24 220.8,201.37 221.3,201.66 221.8,201.41 222.3,201.71 222.8,201.18 223.3,201.65 223.8,201.52 224.3,201.36 224.8,201.53 225.3,201.14 225.8,201.21 226.3,201.53 226.8,201.46 227.3,201.24 227.8,201.40 228.3,201.31 228.8,201.51 229.3,201.35 229.8,201.33 230.3,201.11 230.8,201.49 231.3,201.17 231.8,201.57 232.3,201.51 232.8,201.55 233.3,201.05 233.8,201.63 234.3,201.48 234.8,201.34 235.3,201.16 235.8,201.18 236.3,201.55 236.8,201.34 237.3,201.09 237.8,201.47 238.3,201.45 238.8,200.93 239.3,201.46 239.8,201.36 240.3,201.22 240.8,200.69 241.3,200.93 241.8,200.75 242.3,200.51 242.8,200.04 243.3,200.34 243.8,199.80 244.3,199.05 244.8,198.01 245.3,197.14 245.8,195.43 246.3,194.07 246.8,194.28 247.3,195.20 247.8,196.90 248.3,197.60 248.8,199.17 249.3,199.72 249.8,199.86 250.3,200.45 250.8,200.44 251.3,200.78 251.8,200.46 252.3,200.86 252.8,201.09 253.3,201.27 253.8,201.12 254.3,200.95 254.8,201.03 255.3,201.07 255.8,201.23 256.3,200.95 256.8,201.35 257.3,201.26 257.8,200.99 258.3,201.12 258.8,201.35 259.3,201.13 259.8,201.16 260.3,201.50 260.8,201.43 261.3,201.19 261.8,201.46 262.3,201.49 262.8,201.36 263.3,201.69 263.8,201.56 264.3,201.06 264.8,201.58 265.3,201.19 265.8,201.75 266.3,201.55 266.8,201.40 267.3,201.55 267.8,201.11 268.3,201.10 268.8,201.56 269.3,201.68 269.8,201.13 270.3,201.22 270.8,201.41 271.3,201.74 271.8,201.77 272.3,201.30 272.8,201.30 273.3,201.46 273.8,201.55 274.3,201.59 274.8,201.53 275.3,201.49 275.8,201.36 276.3,201.50 276.8,201.55 277.3,201.63 277.8,201.33 278.3,201.13 278.8,201.66 279.3,201.25 279.8,201.34 280.3,201.63 280.8,201.70 281.3,201.20 281.8,201.68 282.3,201.68 282.8,201.67 283.3,201.10 283.8,201.29 284.3,201.40 284.8,200.97 285.3,200.52 285.8,200.23 286.3,200.14 286.8,199.38 287.3,199.34 287.8,199.62 288.3,199.72 288.8,200.00 289.3,200.48 289.8,200.40 290.3,200.93 290.8,200.90 291.3,200.95 291.8,201.43 292.3,201.52 292.8,201.51 293.3,201.45 293.8,201.76 294.3,201.53 294.8,201.58 295.3,201.72 295.8,201.22 296.3,201.31 296.8,201.46 297.3,201.75 297.8,201.29 298.3,201.54 298.8,201.19 299.3,201.35 299.8,201.64 300.3,201.28 300.8,201.39 301.3,201.56 301.8,201.25 302.3,201.57 302.8,201.70 303.3,201.77 303.8,201.37 304.3,201.61 304.8,201.69 305.3,201.77 305.8,201.26 306.3,201.61 306.8,201.20 307.3,201.18 307.8,201.23 308.3,201.65 308.8,201.14 309.3,201.37 309.8,201.21 310.3,201.17 310.8,201.58 311.3,201.54 311.8,201.18 312.3,201.60 312.8,201.74 313.3,201.78 313.8,201.42 314.3,201.59 314.8,201.14 315.3,201.80 315.8,201.53 316.3,201.31 316.8,201.38 317.3,201.22 317.8,201.35 318.3,201.20 318.8,201.13 319.3,201.20 319.8,201.38 320.3,201.53 320.8,201.44 321.3,201.65 321.8,201.63 322.3,201.44 322.8,201.50 323.3,201.54 323.8,201.75 324.3,201.12 324.8,201.57 325.3,201.47 325.8,201.56 326.3,201.42 326.8,201.26 327.3,201.15 327.8,201.38 328.3,201.15 328.8,201.55 329.3,201.48 329.8,201.57 330.3,201.13 330.8,201.72 331.3,201.65 331.8,201.27 332.3,201.64 332.8,201.76 333.3,201.55 333.8,201.48 334.3,201.49 334.8,201.64 335.3,201.56 335.8,201.61 336.3,201.68 336.8,201.45 337.3,201.65 337.8,201.67 338.3,201.16 338.8,201.19 339.3,201.54 339.8,201.44 340.3,201.74 340.8,201.79 341.3,201.45 341.8,201.15 342.3,201.75 342.8,201.49 343.3,201.25 343.8,201.80 344.3,201.40 344.8,201.62 345.3,201.28 345.8,201.23 346.3,201.19 346.8,201.26 347.3,201.75 347.8,201.35 348.3,201.42 348.8,201.60 349.3,201.67 349.8,201.48 350.3,201.51 350.8,201.52 351.3,201.14 351.8,201.65 352.3,201.21 352.8,201.71 353.3,201.33 353.8,201.50 354.3,201.53 354.8,201.47 355.3,201.72 355.8,201.65 356.3,201.52 356.8,201.67 357.3,201.22 357.8,201.32 358.3,201.37 358.8,201.32 359.3,201.69 359.8,201.80 360.3,201.75 360.8,201.19 361.3,201.47 361.8,201.13 362.3,201.58 362.8,201.54 363.3,201.35 363.8,201.22 364.3,201.51 364.8,201.47 365.3,201.56 365.8,201.64 366.3,201.17 366.8,201.18 367.3,201.50 367.8,201.71 368.3,201.20 368.8,201.48 369.3,201.29" fill="none" stroke="#000" stroke-width="1.7" stroke-linejoin="round"/>
<polygon points="172.6,214.40 173.1,214.63 173.6,214.16 174.1,214.61 174.6,214.03 175.1,214.57 175.6,214.45 176.1,214.68 176.6,214.53 177.1,214.23 177.6,214.62 178.1,214.61 178.6,214.64 179.1,214.68 179.6,214.33 180.1,214.53 180.6,214.16 181.1,214.21 181.6,214.33 182.1,214.04 182.6,214.01 183.1,214.47 183.6,214.14 184.1,214.20 184.6,214.55 185.1,214.14 185.6,214.66 186.1,214.21 186.6,214.05 187.1,214.23 187.6,214.20 188.1,214.22 188.6,214.40 189.1,214.61 189.6,214.42 190.1,214.47 190.6,214.12 191.1,214.07 191.6,214.01 192.1,214.45 192.6,214.06 193.1,214.05 193.6,214.67 194.1,214.30 194.6,214.62 195.1,214.63 195.6,214.37 196.1,214.19 196.6,214.56 197.1,214.46 197.6,214.34 198.1,214.30 198.6,214.60 199.1,214.56 199.6,214.67 200.1,214.46 200.6,213.99 201.1,214.55 201.6,214.15 202.1,214.23 202.6,214.08 203.1,214.12 203.6,214.64 204.1,214.45 204.6,214.10 205.1,214.23 205.6,214.08 206.1,214.66 206.6,214.09 207.1,214.40 207.6,214.13 208.1,214.27 208.6,214.43 209.1,214.31 209.6,214.66 210.1,214.02 210.6,214.06 211.1,214.22 211.6,214.22 212.1,214.16 212.6,214.36 213.1,214.50 213.6,214.22 214.1,213.98 214.6,214.06 215.1,214.11 215.6,214.55 216.1,214.45 216.6,214.47 217.1,214.27 217.6,214.03 218.1,214.23 218.6,214.25 219.1,214.36 219.6,214.53 220.1,214.47 220.6,213.96 221.1,214.01 221.6,214.19 222.1,214.16 222.6,214.48 223.1,214.62 223.6,214.62 224.1,214.62 224.6,214.49 225.1,213.94 225.6,214.21 226.1,214.46 226.6,214.54 227.1,214.59 227.6,214.58 228.1,214.49 228.6,214.34 229.1,214.45 229.6,214.38 230.1,214.09 230.6,214.42 231.1,214.39 231.6,213.92 232.1,214.23 232.6,213.94 233.1,214.13 233.6,213.77 234.1,214.17 234.6,213.87 235.1,213.30 235.6,213.49 236.1,212.96 236.6,212.84 237.1,212.34 237.6,211.36 238.1,210.55 238.6,210.38 239.1,210.25 239.6,211.04 240.1,211.88 240.6,212.25 241.1,212.63 241.6,213.30 242.1,213.62 242.6,213.46 243.1,213.60 243.6,213.87 244.1,213.87 244.6,214.12 245.1,213.90 245.6,214.04 246.1,213.87 246.6,214.29 247.1,214.47 247.6,213.93 248.1,214.14 248.6,214.01 249.1,214.06 249.6,214.05 250.1,214.34 250.6,214.00 251.1,214.18 251.6,214.33 252.1,214.50 252.6,214.56 253.1,214.47 253.6,214.41 254.1,214.41 254.6,214.21 255.1,213.97 255.6,214.25 256.1,214.18 256.6,214.64 257.1,214.17 257.6,214.28 258.1,214.11 258.6,214.41 259.1,214.21 259.6,214.30 260.1,214.12 260.6,214.36 261.1,214.09 261.6,214.06 262.1,214.30 262.6,214.32 263.1,214.18 263.6,214.31 264.1,213.99 264.6,214.02 265.1,214.32 265.6,214.19 266.1,214.60 266.6,214.04 267.1,214.24 267.6,214.66 268.1,214.67 268.6,214.08 269.1,214.13 269.6,214.24 270.1,214.39 270.6,214.51 271.1,214.34 271.6,214.04 272.1,214.24 272.6,214.65 273.1,214.53 273.6,214.62 274.1,214.07 274.6,214.09 275.1,214.03 275.6,214.38 276.1,214.46 276.6,214.64 277.1,214.50 277.6,214.44 278.1,214.41 278.6,214.44 279.1,214.17 279.6,214.08 280.1,214.42 280.6,214.11 281.1,214.48 281.6,214.49 282.1,214.11 282.6,214.58 283.1,214.54 283.6,213.82 284.1,214.06 284.6,213.92 285.1,213.43 285.6,213.06 286.1,213.13 286.6,212.57 287.1,212.86 287.6,212.26 288.1,212.66 288.6,212.86 289.1,213.38 289.6,213.64 290.1,213.70 290.6,214.13 291.1,213.93 291.6,213.82 292.1,214.39 292.6,214.11 293.1,214.26 293.6,214.24 294.1,214.14 294.6,214.35 295.1,214.11 295.6,214.57 296.1,214.21 296.6,214.32 297.1,214.55 297.6,214.53 298.1,214.02 298.6,214.24 299.1,214.34 299.6,214.34 300.1,214.09 300.6,214.24 301.1,214.53 301.6,214.03 302.1,214.09 302.6,214.14 303.1,214.19 303.6,214.22 304.1,214.46 304.6,214.00 305.1,214.19 305.6,214.57 306.1,214.12 306.6,214.39 307.1,214.64 307.6,214.07 308.1,214.53 308.6,214.39 309.1,214.62 309.6,214.32 310.1,214.31 310.6,214.11 311.1,214.02 311.6,214.07 312.1,214.22 312.6,214.41 313.1,214.03 313.6,214.53 314.1,214.47 314.6,214.29 315.1,214.43 315.6,214.29 316.1,214.61 316.6,214.52 317.1,214.67 317.6,214.39 318.1,214.52 318.6,214.12 319.1,214.51 319.6,214.55 320.1,214.19 320.6,214.55 321.1,214.10 321.6,214.32 322.1,214.59 322.6,214.20 323.1,213.99 323.6,214.47 324.1,214.30 324.6,214.31 325.1,214.02 325.6,214.00 326.1,214.65 326.6,214.42 327.1,214.12 327.6,214.40 328.1,214.33 328.6,214.29 329.1,214.68 329.6,214.66 330.1,214.06 330.6,214.41 331.1,214.38 331.6,214.30 332.1,214.16 332.6,214.06 333.1,214.63 333.6,214.25 334.1,214.69 334.6,214.31 335.1,214.12 335.6,214.35 336.1,214.43 336.6,214.09 337.1,214.20 337.6,214.05 338.1,214.31 338.6,214.47 339.1,214.20 339.6,214.35 340.1,214.69 340.6,214.60 341.1,214.02 341.6,214.24 342.1,214.67 342.6,214.16 343.1,214.16 343.6,214.66 344.1,214.00 344.6,214.57 345.1,214.33 345.6,214.19 346.1,214.35 346.6,214.45 347.1,214.35 347.6,214.25 348.1,214.02 348.6,214.07 349.1,214.00 349.6,214.13 350.1,214.35 350.6,214.44 351.1,214.05 351.6,214.04 352.1,214.48 352.6,214.14 353.1,214.45 353.6,214.65 354.1,214.36 354.6,214.06 355.1,214.32 355.6,214.12 356.1,214.10 356.6,214.13 357.1,214.48 357.6,214.05 358.1,214.63 358.6,214.34 359.1,214.63 359.6,214.42 360.1,214.07 360.6,214.12 361.1,213.99 361.6,214.30 362.1,214.33 362.6,214.57 363.1,214.35 363.6,214.05 364.1,214.45 364.6,214.09 365.1,214.48 365.6,214.13 366.1,214.56 366.6,214.01 367.1,214.61 367.6,214.63 368.1,214.29 368.6,214.15 369.1,214.19 369.6,214.41 369.6,214.94 172.6,214.94" fill="#fff"/>
<polyline points="172.6,214.40 173.1,214.63 173.6,214.16 174.1,214.61 174.6,214.03 175.1,214.57 175.6,214.45 176.1,214.68 176.6,214.53 177.1,214.23 177.6,214.62 178.1,214.61 178.6,214.64 179.1,214.68 179.6,214.33 180.1,214.53 180.6,214.16 181.1,214.21 181.6,214.33 182.1,214.04 182.6,214.01 183.1,214.47 183.6,214.14 184.1,214.20 184.6,214.55 185.1,214.14 185.6,214.66 186.1,214.21 186.6,214.05 187.1,214.23 187.6,214.20 188.1,214.22 188.6,214.40 189.1,214.61 189.6,214.42 190.1,214.47 190.6,214.12 191.1,214.07 191.6,214.01 192.1,214.45 192.6,214.06 193.1,214.05 193.6,214.67 194.1,214.30 194.6,214.62 195.1,214.63 195.6,214.37 196.1,214.19 196.6,214.56 197.1,214.46 197.6,214.34 198.1,214.30 198.6,214.60 199.1,214.56 199.6,214.67 200.1,214.46 200.6,213.99 201.1,214.55 201.6,214.15 202.1,214.23 202.6,214.08 203.1,214.12 203.6,214.64 204.1,214.45 204.6,214.10 205.1,214.23 205.6,214.08 206.1,214.66 206.6,214.09 207.1,214.40 207.6,214.13 208.1,214.27 208.6,214.43 209.1,214.31 209.6,214.66 210.1,214.02 210.6,214.06 211.1,214.22 211.6,214.22 212.1,214.16 212.6,214.36 213.1,214.50 213.6,214.22 214.1,213.98 214.6,214.06 215.1,214.11 215.6,214.55 216.1,214.45 216.6,214.47 217.1,214.27 217.6,214.03 218.1,214.23 218.6,214.25 219.1,214.36 219.6,214.53 220.1,214.47 220.6,213.96 221.1,214.01 221.6,214.19 222.1,214.16 222.6,214.48 223.1,214.62 223.6,214.62 224.1,214.62 224.6,214.49 225.1,213.94 225.6,214.21 226.1,214.46 226.6,214.54 227.1,214.59 227.6,214.58 228.1,214.49 228.6,214.34 229.1,214.45 229.6,214.38 230.1,214.09 230.6,214.42 231.1,214.39 231.6,213.92 232.1,214.23 232.6,213.94 233.1,214.13 233.6,213.77 234.1,214.17 234.6,213.87 235.1,213.30 235.6,213.49 236.1,212.96 236.6,212.84 237.1,212.34 237.6,211.36 238.1,210.55 238.6,210.38 239.1,210.25 239.6,211.04 240.1,211.88 240.6,212.25 241.1,212.63 241.6,213.30 242.1,213.62 242.6,213.46 243.1,213.60 243.6,213.87 244.1,213.87 244.6,214.12 245.1,213.90 245.6,214.04 246.1,213.87 246.6,214.29 247.1,214.47 247.6,213.93 248.1,214.14 248.6,214.01 249.1,214.06 249.6,214.05 250.1,214.34 250.6,214.00 251.1,214.18 251.6,214.33 252.1,214.50 252.6,214.56 253.1,214.47 253.6,214.41 254.1,214.41 254.6,214.21 255.1,213.97 255.6,214.25 256.1,214.18 256.6,214.64 257.1,214.17 257.6,214.28 258.1,214.11 258.6,214.41 259.1,214.21 259.6,214.30 260.1,214.12 260.6,214.36 261.1,214.09 261.6,214.06 262.1,214.30 262.6,214.32 263.1,214.18 263.6,214.31 264.1,213.99 264.6,214.02 265.1,214.32 265.6,214.19 266.1,214.60 266.6,214.04 267.1,214.24 267.6,214.66 268.1,214.67 268.6,214.08 269.1,214.13 269.6,214.24 270.1,214.39 270.6,214.51 271.1,214.34 271.6,214.04 272.1,214.24 272.6,214.65 273.1,214.53 273.6,214.62 274.1,214.07 274.6,214.09 275.1,214.03 275.6,214.38 276.1,214.46 276.6,214.64 277.1,214.50 277.6,214.44 278.1,214.41 278.6,214.44 279.1,214.17 279.6,214.08 280.1,214.42 280.6,214.11 281.1,214.48 281.6,214.49 282.1,214.11 282.6,214.58 283.1,214.54 283.6,213.82 284.1,214.06 284.6,213.92 285.1,213.43 285.6,213.06 286.1,213.13 286.6,212.57 287.1,212.86 287.6,212.26 288.1,212.66 288.6,212.86 289.1,213.38 289.6,213.64 290.1,213.70 290.6,214.13 291.1,213.93 291.6,213.82 292.1,214.39 292.6,214.11 293.1,214.26 293.6,214.24 294.1,214.14 294.6,214.35 295.1,214.11 295.6,214.57 296.1,214.21 296.6,214.32 297.1,214.55 297.6,214.53 298.1,214.02 298.6,214.24 299.1,214.34 299.6,214.34 300.1,214.09 300.6,214.24 301.1,214.53 301.6,214.03 302.1,214.09 302.6,214.14 303.1,214.19 303.6,214.22 304.1,214.46 304.6,214.00 305.1,214.19 305.6,214.57 306.1,214.12 306.6,214.39 307.1,214.64 307.6,214.07 308.1,214.53 308.6,214.39 309.1,214.62 309.6,214.32 310.1,214.31 310.6,214.11 311.1,214.02 311.6,214.07 312.1,214.22 312.6,214.41 313.1,214.03 313.6,214.53 314.1,214.47 314.6,214.29 315.1,214.43 315.6,214.29 316.1,214.61 316.6,214.52 317.1,214.67 317.6,214.39 318.1,214.52 318.6,214.12 319.1,214.51 319.6,214.55 320.1,214.19 320.6,214.55 321.1,214.10 321.6,214.32 322.1,214.59 322.6,214.20 323.1,213.99 323.6,214.47 324.1,214.30 324.6,214.31 325.1,214.02 325.6,214.00 326.1,214.65 326.6,214.42 327.1,214.12 327.6,214.40 328.1,214.33 328.6,214.29 329.1,214.68 329.6,214.66 330.1,214.06 330.6,214.41 331.1,214.38 331.6,214.30 332.1,214.16 332.6,214.06 333.1,214.63 333.6,214.25 334.1,214.69 334.6,214.31 335.1,214.12 335.6,214.35 336.1,214.43 336.6,214.09 337.1,214.20 337.6,214.05 338.1,214.31 338.6,214.47 339.1,214.20 339.6,214.35 340.1,214.69 340.6,214.60 341.1,214.02 341.6,214.24 342.1,214.67 342.6,214.16 343.1,214.16 343.6,214.66 344.1,214.00 344.6,214.57 345.1,214.33 345.6,214.19 346.1,214.35 346.6,214.45 347.1,214.35 347.6,214.25 348.1,214.02 348.6,214.07 349.1,214.00 349.6,214.13 350.1,214.35 350.6,214.44 351.1,214.05 351.6,214.04 352.1,214.48 352.6,214.14 353.1,214.45 353.6,214.65 354.1,214.36 354.6,214.06 355.1,214.32 355.6,214.12 356.1,214.10 356.6,214.13 357.1,214.48 357.6,214.05 358.1,214.63 358.6,214.34 359.1,214.63 359.6,214.42 360.1,214.07 360.6,214.12 361.1,213.99 361.6,214.30 362.1,214.33 362.6,214.57 363.1,214.35 363.6,214.05 364.1,214.45 364.6,214.09 365.1,214.48 365.6,214.13 366.1,214.56 366.6,214.01 367.1,214.61 367.6,214.63 368.1,214.29 368.6,214.15 369.1,214.19 369.6,214.41" fill="none" stroke="#000" stroke-width="1.7" stroke-linejoin="round"/>
<polygon points="172.6,227.07 173.1,227.42 173.6,227.34 174.1,227.36 174.6,227.41 175.1,227.54 175.6,227.42 176.1,227.19 176.6,227.14 177.1,227.33 177.6,227.14 178.1,227.33 178.6,227.00 179.1,227.56 179.6,227.02 180.1,226.94 180.6,227.16 181.1,227.12 181.6,226.88 182.1,227.46 182.6,227.50 183.1,227.21 183.6,227.06 184.1,227.19 184.6,227.22 185.1,227.26 185.6,227.24 186.1,226.95 186.6,227.52 187.1,227.10 187.6,227.50 188.1,226.97 188.6,227.38 189.1,227.00 189.6,227.34 190.1,227.12 190.6,227.21 191.1,226.89 191.6,227.23 192.1,227.20 192.6,227.21 193.1,227.39 193.6,226.90 194.1,227.32 194.6,227.45 195.1,227.41 195.6,227.06 196.1,226.93 196.6,227.14 197.1,226.89 197.6,227.40 198.1,226.94 198.6,227.02 199.1,227.41 199.6,227.49 200.1,227.26 200.6,227.26 201.1,227.21 201.6,227.05 202.1,227.39 202.6,227.38 203.1,227.32 203.6,227.44 204.1,227.24 204.6,227.13 205.1,227.36 205.6,227.46 206.1,227.04 206.6,227.49 207.1,226.95 207.6,227.12 208.1,227.39 208.6,227.54 209.1,226.95 209.6,227.53 210.1,227.01 210.6,227.17 211.1,227.05 211.6,227.40 212.1,227.02 212.6,227.35 213.1,227.12 213.6,226.85 214.1,227.11 214.6,227.41 215.1,227.35 215.6,227.23 216.1,226.93 216.6,226.95 217.1,227.23 217.6,227.09 218.1,227.25 218.6,227.14 219.1,227.26 219.6,226.81 220.1,227.20 220.6,227.23 221.1,227.01 221.6,227.27 222.1,227.33 222.6,227.08 223.1,226.79 223.6,227.09 224.1,227.11 224.6,227.07 225.1,226.80 225.6,226.97 226.1,226.70 226.6,226.61 227.1,226.79 227.6,226.40 228.1,225.77 228.6,225.81 229.1,224.89 229.6,224.65 230.1,223.55 230.6,223.03 231.1,222.94 231.6,224.05 232.1,224.77 232.6,225.26 233.1,225.41 233.6,226.06 234.1,226.07 234.6,226.48 235.1,226.30 235.6,227.04 236.1,226.56 236.6,227.05 237.1,227.12 237.6,226.95 238.1,227.06 238.6,226.68 239.1,226.74 239.6,226.91 240.1,227.26 240.6,227.28 241.1,227.15 241.6,227.24 242.1,227.32 242.6,227.34 243.1,227.30 243.6,227.29 244.1,227.42 244.6,227.29 245.1,226.84 245.6,226.93 246.1,227.09 246.6,226.85 247.1,226.87 247.6,227.46 248.1,227.50 248.6,227.30 249.1,227.16 249.6,226.84 250.1,227.52 250.6,227.05 251.1,226.99 251.6,227.36 252.1,227.01 252.6,226.94 253.1,227.48 253.6,227.09 254.1,227.22 254.6,227.01 255.1,227.44 255.6,227.09 256.1,227.54 256.6,227.53 257.1,227.25 257.6,227.31 258.1,227.25 258.6,227.41 259.1,226.86 259.6,227.26 260.1,227.21 260.6,227.31 261.1,226.94 261.6,227.44 262.1,226.91 262.6,227.42 263.1,226.95 263.6,227.26 264.1,227.14 264.6,227.39 265.1,226.99 265.6,227.40 266.1,227.01 266.6,227.10 267.1,226.93 267.6,226.87 268.1,227.00 268.6,227.44 269.1,226.99 269.6,227.49 270.1,226.99 270.6,226.92 271.1,227.47 271.6,227.53 272.1,227.00 272.6,227.32 273.1,227.09 273.6,226.99 274.1,226.90 274.6,227.20 275.1,226.97 275.6,226.93 276.1,227.02 276.6,227.31 277.1,226.92 277.6,227.27 278.1,226.93 278.6,227.30 279.1,227.22 279.6,227.54 280.1,227.49 280.6,226.91 281.1,227.24 281.6,227.05 282.1,227.22 282.6,227.02 283.1,227.12 283.6,227.32 284.1,227.08 284.6,226.70 285.1,226.82 285.6,226.02 286.1,226.38 286.6,225.79 287.1,225.41 287.6,225.45 288.1,225.92 288.6,226.11 289.1,225.92 289.6,226.39 290.1,226.86 290.6,227.06 291.1,226.84 291.6,227.40 292.1,227.28 292.6,226.87 293.1,227.37 293.6,226.96 294.1,227.55 294.6,227.43 295.1,227.53 295.6,227.06 296.1,227.17 296.6,227.03 297.1,227.00 297.6,227.06 298.1,227.49 298.6,227.25 299.1,227.54 299.6,227.01 300.1,227.30 300.6,227.24 301.1,226.94 301.6,226.87 302.1,227.14 302.6,227.30 303.1,226.96 303.6,226.98 304.1,227.42 304.6,227.25 305.1,226.90 305.6,226.88 306.1,226.93 306.6,227.23 307.1,227.45 307.6,226.94 308.1,227.42 308.6,227.15 309.1,227.30 309.6,226.97 310.1,227.31 310.6,227.30 311.1,226.97 311.6,227.06 312.1,226.87 312.6,227.48 313.1,227.48 313.6,227.09 314.1,227.22 314.6,226.94 315.1,227.24 315.6,227.54 316.1,227.24 316.6,227.39 317.1,227.01 317.6,227.00 318.1,226.96 318.6,227.49 319.1,227.17 319.6,227.43 320.1,226.88 320.6,227.46 321.1,227.11 321.6,227.07 322.1,227.43 322.6,227.16 323.1,227.48 323.6,227.53 324.1,227.37 324.6,227.51 325.1,227.26 325.6,227.09 326.1,226.92 326.6,227.39 327.1,227.24 327.6,227.09 328.1,227.35 328.6,227.35 329.1,227.31 329.6,226.98 330.1,227.32 330.6,227.03 331.1,227.47 331.6,227.35 332.1,227.37 332.6,227.41 333.1,227.46 333.6,227.29 334.1,227.00 334.6,227.11 335.1,226.87 335.6,227.35 336.1,227.36 336.6,227.40 337.1,227.22 337.6,227.48 338.1,227.01 338.6,227.27 339.1,227.54 339.6,227.21 340.1,227.27 340.6,227.43 341.1,227.36 341.6,227.10 342.1,226.87 342.6,227.15 343.1,227.39 343.6,227.55 344.1,227.34 344.6,227.40 345.1,227.27 345.6,227.25 346.1,227.37 346.6,227.45 347.1,226.92 347.6,226.91 348.1,227.06 348.6,226.92 349.1,227.17 349.6,227.05 350.1,227.26 350.6,227.11 351.1,226.98 351.6,227.07 352.1,227.01 352.6,227.14 353.1,227.33 353.6,227.01 354.1,226.94 354.6,227.41 355.1,227.45 355.6,227.56 356.1,227.40 356.6,227.44 357.1,227.43 357.6,227.45 358.1,227.35 358.6,227.45 359.1,226.90 359.6,227.52 360.1,227.56 360.6,226.92 361.1,227.30 361.6,227.05 362.1,227.35 362.6,227.56 363.1,227.54 363.6,226.92 364.1,227.53 364.6,227.26 365.1,227.39 365.6,227.12 366.1,227.31 366.6,227.00 367.1,227.42 367.6,227.19 368.1,226.88 368.6,227.20 369.1,226.90 369.6,227.54 369.6,227.82 172.6,227.82" fill="#fff"/>
<polyline points="172.6,227.07 173.1,227.42 173.6,227.34 174.1,227.36 174.6,227.41 175.1,227.54 175.6,227.42 176.1,227.19 176.6,227.14 177.1,227.33 177.6,227.14 178.1,227.33 178.6,227.00 179.1,227.56 179.6,227.02 180.1,226.94 180.6,227.16 181.1,227.12 181.6,226.88 182.1,227.46 182.6,227.50 183.1,227.21 183.6,227.06 184.1,227.19 184.6,227.22 185.1,227.26 185.6,227.24 186.1,226.95 186.6,227.52 187.1,227.10 187.6,227.50 188.1,226.97 188.6,227.38 189.1,227.00 189.6,227.34 190.1,227.12 190.6,227.21 191.1,226.89 191.6,227.23 192.1,227.20 192.6,227.21 193.1,227.39 193.6,226.90 194.1,227.32 194.6,227.45 195.1,227.41 195.6,227.06 196.1,226.93 196.6,227.14 197.1,226.89 197.6,227.40 198.1,226.94 198.6,227.02 199.1,227.41 199.6,227.49 200.1,227.26 200.6,227.26 201.1,227.21 201.6,227.05 202.1,227.39 202.6,227.38 203.1,227.32 203.6,227.44 204.1,227.24 204.6,227.13 205.1,227.36 205.6,227.46 206.1,227.04 206.6,227.49 207.1,226.95 207.6,227.12 208.1,227.39 208.6,227.54 209.1,226.95 209.6,227.53 210.1,227.01 210.6,227.17 211.1,227.05 211.6,227.40 212.1,227.02 212.6,227.35 213.1,227.12 213.6,226.85 214.1,227.11 214.6,227.41 215.1,227.35 215.6,227.23 216.1,226.93 216.6,226.95 217.1,227.23 217.6,227.09 218.1,227.25 218.6,227.14 219.1,227.26 219.6,226.81 220.1,227.20 220.6,227.23 221.1,227.01 221.6,227.27 222.1,227.33 222.6,227.08 223.1,226.79 223.6,227.09 224.1,227.11 224.6,227.07 225.1,226.80 225.6,226.97 226.1,226.70 226.6,226.61 227.1,226.79 227.6,226.40 228.1,225.77 228.6,225.81 229.1,224.89 229.6,224.65 230.1,223.55 230.6,223.03 231.1,222.94 231.6,224.05 232.1,224.77 232.6,225.26 233.1,225.41 233.6,226.06 234.1,226.07 234.6,226.48 235.1,226.30 235.6,227.04 236.1,226.56 236.6,227.05 237.1,227.12 237.6,226.95 238.1,227.06 238.6,226.68 239.1,226.74 239.6,226.91 240.1,227.26 240.6,227.28 241.1,227.15 241.6,227.24 242.1,227.32 242.6,227.34 243.1,227.30 243.6,227.29 244.1,227.42 244.6,227.29 245.1,226.84 245.6,226.93 246.1,227.09 246.6,226.85 247.1,226.87 247.6,227.46 248.1,227.50 248.6,227.30 249.1,227.16 249.6,226.84 250.1,227.52 250.6,227.05 251.1,226.99 251.6,227.36 252.1,227.01 252.6,226.94 253.1,227.48 253.6,227.09 254.1,227.22 254.6,227.01 255.1,227.44 255.6,227.09 256.1,227.54 256.6,227.53 257.1,227.25 257.6,227.31 258.1,227.25 258.6,227.41 259.1,226.86 259.6,227.26 260.1,227.21 260.6,227.31 261.1,226.94 261.6,227.44 262.1,226.91 262.6,227.42 263.1,226.95 263.6,227.26 264.1,227.14 264.6,227.39 265.1,226.99 265.6,227.40 266.1,227.01 266.6,227.10 267.1,226.93 267.6,226.87 268.1,227.00 268.6,227.44 269.1,226.99 269.6,227.49 270.1,226.99 270.6,226.92 271.1,227.47 271.6,227.53 272.1,227.00 272.6,227.32 273.1,227.09 273.6,226.99 274.1,226.90 274.6,227.20 275.1,226.97 275.6,226.93 276.1,227.02 276.6,227.31 277.1,226.92 277.6,227.27 278.1,226.93 278.6,227.30 279.1,227.22 279.6,227.54 280.1,227.49 280.6,226.91 281.1,227.24 281.6,227.05 282.1,227.22 282.6,227.02 283.1,227.12 283.6,227.32 284.1,227.08 284.6,226.70 285.1,226.82 285.6,226.02 286.1,226.38 286.6,225.79 287.1,225.41 287.6,225.45 288.1,225.92 288.6,226.11 289.1,225.92 289.6,226.39 290.1,226.86 290.6,227.06 291.1,226.84 291.6,227.40 292.1,227.28 292.6,226.87 293.1,227.37 293.6,226.96 294.1,227.55 294.6,227.43 295.1,227.53 295.6,227.06 296.1,227.17 296.6,227.03 297.1,227.00 297.6,227.06 298.1,227.49 298.6,227.25 299.1,227.54 299.6,227.01 300.1,227.30 300.6,227.24 301.1,226.94 301.6,226.87 302.1,227.14 302.6,227.30 303.1,226.96 303.6,226.98 304.1,227.42 304.6,227.25 305.1,226.90 305.6,226.88 306.1,226.93 306.6,227.23 307.1,227.45 307.6,226.94 308.1,227.42 308.6,227.15 309.1,227.30 309.6,226.97 310.1,227.31 310.6,227.30 311.1,226.97 311.6,227.06 312.1,226.87 312.6,227.48 313.1,227.48 313.6,227.09 314.1,227.22 314.6,226.94 315.1,227.24 315.6,227.54 316.1,227.24 316.6,227.39 317.1,227.01 317.6,227.00 318.1,226.96 318.6,227.49 319.1,227.17 319.6,227.43 320.1,226.88 320.6,227.46 321.1,227.11 321.6,227.07 322.1,227.43 322.6,227.16 323.1,227.48 323.6,227.53 324.1,227.37 324.6,227.51 325.1,227.26 325.6,227.09 326.1,226.92 326.6,227.39 327.1,227.24 327.6,227.09 328.1,227.35 328.6,227.35 329.1,227.31 329.6,226.98 330.1,227.32 330.6,227.03 331.1,227.47 331.6,227.35 332.1,227.37 332.6,227.41 333.1,227.46 333.6,227.29 334.1,227.00 334.6,227.11 335.1,226.87 335.6,227.35 336.1,227.36 336.6,227.40 337.1,227.22 337.6,227.48 338.1,227.01 338.6,227.27 339.1,227.54 339.6,227.21 340.1,227.27 340.6,227.43 341.1,227.36 341.6,227.10 342.1,226.87 342.6,227.15 343.1,227.39 343.6,227.55 344.1,227.34 344.6,227.40 345.1,227.27 345.6,227.25 346.1,227.37 346.6,227.45 347.1,226.92 347.6,226.91 348.1,227.06 348.6,226.92 349.1,227.17 349.6,227.05 350.1,227.26 350.6,227.11 351.1,226.98 351.6,227.07 352.1,227.01 352.6,227.14 353.1,227.33 353.6,227.01 354.1,226.94 354.6,227.41 355.1,227.45 355.6,227.56 356.1,227.40 356.6,227.44 357.1,227.43 357.6,227.45 358.1,227.35 358.6,227.45 359.1,226.90 359.6,227.52 360.1,227.56 360.6,226.92 361.1,227.30 361.6,227.05 362.1,227.35 362.6,227.56 363.1,227.54 363.6,226.92 364.1,227.53 364.6,227.26 365.1,227.39 365.6,227.12 366.1,227.31 366.6,227.00 367.1,227.42 367.6,227.19 368.1,226.88 368.6,227.20 369.1,226.90 369.6,227.54" fill="none" stroke="#000" stroke-width="1.7" stroke-linejoin="round"/>
<polygon points="172.6,239.83 173.1,240.17 173.6,239.75 174.1,239.95 174.6,240.27 175.1,239.91 175.6,240.33 176.1,240.08 176.6,239.93 177.1,240.33 177.6,240.40 178.1,239.86 178.6,240.31 179.1,239.91 179.6,240.11 180.1,240.31 180.6,239.84 181.1,240.18 181.6,240.26 182.1,239.81 182.6,239.75 183.1,240.21 183.6,239.76 184.1,240.37 184.6,239.89 185.1,240.03 185.6,240.27 186.1,240.16 186.6,240.22 187.1,239.97 187.6,240.14 188.1,240.14 188.6,239.97 189.1,240.20 189.6,240.38 190.1,240.09 190.6,239.83 191.1,240.27 191.6,240.25 192.1,239.80 192.6,240.32 193.1,239.76 193.6,240.22 194.1,240.29 194.6,239.93 195.1,239.81 195.6,240.11 196.1,240.24 196.6,240.34 197.1,240.42 197.6,239.94 198.1,239.91 198.6,240.21 199.1,240.09 199.6,239.89 200.1,239.93 200.6,239.94 201.1,239.78 201.6,240.25 202.1,239.73 202.6,239.98 203.1,240.19 203.6,239.93 204.1,240.19 204.6,240.12 205.1,239.82 205.6,239.83 206.1,239.97 206.6,239.82 207.1,239.78 207.6,240.10 208.1,240.32 208.6,239.70 209.1,240.31 209.6,240.03 210.1,240.26 210.6,239.94 211.1,239.75 211.6,240.26 212.1,239.91 212.6,239.94 213.1,239.72 213.6,239.51 214.1,239.61 214.6,239.97 215.1,239.66 215.6,239.44 216.1,239.47 216.6,238.71 217.1,238.69 217.6,238.17 218.1,237.64 218.6,236.85 219.1,236.50 219.6,237.35 220.1,237.70 220.6,238.44 221.1,239.06 221.6,239.15 222.1,239.22 222.6,239.40 223.1,239.25 223.6,239.55 224.1,239.46 224.6,239.65 225.1,239.73 225.6,239.61 226.1,239.66 226.6,239.76 227.1,240.08 227.6,240.12 228.1,239.73 228.6,240.33 229.1,240.08 229.6,239.78 230.1,240.17 230.6,240.03 231.1,240.14 231.6,239.94 232.1,239.81 232.6,240.36 233.1,240.11 233.6,239.81 234.1,240.12 234.6,239.73 235.1,240.22 235.6,240.06 236.1,240.30 236.6,239.81 237.1,240.08 237.6,239.84 238.1,239.94 238.6,240.24 239.1,239.83 239.6,240.38 240.1,239.78 240.6,239.88 241.1,240.26 241.6,240.03 242.1,240.19 242.6,240.10 243.1,239.77 243.6,240.12 244.1,240.03 244.6,240.40 245.1,240.40 245.6,240.10 246.1,240.14 246.6,239.78 247.1,240.04 247.6,239.82 248.1,240.04 248.6,239.79 249.1,240.22 249.6,240.42 250.1,239.91 250.6,239.98 251.1,240.30 251.6,240.29 252.1,240.11 252.6,239.81 253.1,239.97 253.6,240.14 254.1,240.04 254.6,240.20 255.1,240.17 255.6,240.31 256.1,239.96 256.6,240.43 257.1,240.08 257.6,240.38 258.1,240.34 258.6,239.91 259.1,239.84 259.6,240.09 260.1,239.77 260.6,239.95 261.1,240.07 261.6,240.02 262.1,240.44 262.6,240.38 263.1,239.92 263.6,240.18 264.1,239.77 264.6,240.27 265.1,240.25 265.6,240.30 266.1,239.79 266.6,240.06 267.1,240.27 267.6,240.40 268.1,240.04 268.6,240.44 269.1,239.84 269.6,240.34 270.1,239.91 270.6,239.84 271.1,240.24 271.6,240.04 272.1,239.97 272.6,240.13 273.1,240.16 273.6,239.83 274.1,240.27 274.6,240.05 275.1,240.44 275.6,240.05 276.1,239.77 276.6,240.17 277.1,239.93 277.6,240.22 278.1,240.18 278.6,240.17 279.1,239.83 279.6,240.22 280.1,240.42 280.6,240.06 281.1,240.04 281.6,240.01 282.1,240.10 282.6,240.20 283.1,239.86 283.6,240.10 284.1,239.97 284.6,239.85 285.1,239.69 285.6,239.31 286.1,238.68 286.6,238.62 287.1,238.39 287.6,238.49 288.1,238.53 288.6,238.41 289.1,238.50 289.6,239.35 290.1,239.25 290.6,239.30 291.1,239.77 291.6,239.65 292.1,240.23 292.6,239.85 293.1,240.35 293.6,240.29 294.1,240.38 294.6,240.44 295.1,239.92 295.6,240.20 296.1,240.19 296.6,239.94 297.1,240.27 297.6,239.85 298.1,240.32 298.6,239.77 299.1,239.84 299.6,240.10 300.1,239.79 300.6,239.86 301.1,239.78 301.6,240.24 302.1,240.16 302.6,240.24 303.1,240.14 303.6,240.06 304.1,239.85 304.6,240.22 305.1,240.06 305.6,240.26 306.1,240.14 306.6,240.41 307.1,240.07 307.6,240.02 308.1,240.03 308.6,239.84 309.1,240.08 309.6,240.26 310.1,239.78 310.6,240.17 311.1,240.31 311.6,240.09 312.1,239.96 312.6,240.26 313.1,240.29 313.6,240.39 314.1,240.06 314.6,240.19 315.1,239.89 315.6,240.34 316.1,240.02 316.6,240.34 317.1,240.31 317.6,240.37 318.1,240.00 318.6,239.94 319.1,240.14 319.6,239.87 320.1,239.89 320.6,239.84 321.1,240.00 321.6,240.14 322.1,240.16 322.6,239.89 323.1,240.24 323.6,240.28 324.1,239.75 324.6,239.79 325.1,239.99 325.6,239.87 326.1,240.41 326.6,239.91 327.1,240.03 327.6,240.24 328.1,240.25 328.6,239.98 329.1,239.81 329.6,239.93 330.1,240.42 330.6,240.04 331.1,240.21 331.6,240.29 332.1,240.41 332.6,240.04 333.1,240.26 333.6,240.21 334.1,240.10 334.6,239.82 335.1,240.26 335.6,240.05 336.1,240.00 336.6,239.92 337.1,239.86 337.6,240.29 338.1,239.84 338.6,240.40 339.1,240.13 339.6,239.93 340.1,239.82 340.6,240.21 341.1,239.97 341.6,239.96 342.1,240.42 342.6,239.92 343.1,239.86 343.6,240.35 344.1,240.23 344.6,240.15 345.1,239.79 345.6,239.78 346.1,240.32 346.6,240.17 347.1,240.36 347.6,240.41 348.1,240.30 348.6,239.79 349.1,239.82 349.6,240.31 350.1,240.01 350.6,240.00 351.1,240.14 351.6,239.86 352.1,240.39 352.6,240.26 353.1,240.37 353.6,239.81 354.1,239.89 354.6,240.13 355.1,240.39 355.6,239.85 356.1,239.90 356.6,239.84 357.1,239.79 357.6,239.98 358.1,240.11 358.6,239.89 359.1,240.35 359.6,239.86 360.1,240.23 360.6,240.14 361.1,239.84 361.6,240.44 362.1,240.21 362.6,239.88 363.1,240.17 363.6,239.82 364.1,239.95 364.6,240.29 365.1,240.10 365.6,240.20 366.1,239.99 366.6,239.95 367.1,240.10 367.6,240.40 368.1,239.85 368.6,240.32 369.1,240.01 369.6,239.87 369.6,240.70 172.6,240.70" fill="#fff"/>
<polyline points="172.6,239.83 173.1,240.17 173.6,239.75 174.1,239.95 174.6,240.27 175.1,239.91 175.6,240.33 176.1,240.08 176.6,239.93 177.1,240.33 177.6,240.40 178.1,239.86 178.6,240.31 179.1,239.91 179.6,240.11 180.1,240.31 180.6,239.84 181.1,240.18 181.6,240.26 182.1,239.81 182.6,239.75 183.1,240.21 183.6,239.76 184.1,240.37 184.6,239.89 185.1,240.03 185.6,240.27 186.1,240.16 186.6,240.22 187.1,239.97 187.6,240.14 188.1,240.14 188.6,239.97 189.1,240.20 189.6,240.38 190.1,240.09 190.6,239.83 191.1,240.27 191.6,240.25 192.1,239.80 192.6,240.32 193.1,239.76 193.6,240.22 194.1,240.29 194.6,239.93 195.1,239.81 195.6,240.11 196.1,240.24 196.6,240.34 197.1,240.42 197.6,239.94 198.1,239.91 198.6,240.21 199.1,240.09 199.6,239.89 200.1,239.93 200.6,239.94 201.1,239.78 201.6,240.25 202.1,239.73 202.6,239.98 203.1,240.19 203.6,239.93 204.1,240.19 204.6,240.12 205.1,239.82 205.6,239.83 206.1,239.97 206.6,239.82 207.1,239.78 207.6,240.10 208.1,240.32 208.6,239.70 209.1,240.31 209.6,240.03 210.1,240.26 210.6,239.94 211.1,239.75 211.6,240.26 212.1,239.91 212.6,239.94 213.1,239.72 213.6,239.51 214.1,239.61 214.6,239.97 215.1,239.66 215.6,239.44 216.1,239.47 216.6,238.71 217.1,238.69 217.6,238.17 218.1,237.64 218.6,236.85 219.1,236.50 219.6,237.35 220.1,237.70 220.6,238.44 221.1,239.06 221.6,239.15 222.1,239.22 222.6,239.40 223.1,239.25 223.6,239.55 224.1,239.46 224.6,239.65 225.1,239.73 225.6,239.61 226.1,239.66 226.6,239.76 227.1,240.08 227.6,240.12 228.1,239.73 228.6,240.33 229.1,240.08 229.6,239.78 230.1,240.17 230.6,240.03 231.1,240.14 231.6,239.94 232.1,239.81 232.6,240.36 233.1,240.11 233.6,239.81 234.1,240.12 234.6,239.73 235.1,240.22 235.6,240.06 236.1,240.30 236.6,239.81 237.1,240.08 237.6,239.84 238.1,239.94 238.6,240.24 239.1,239.83 239.6,240.38 240.1,239.78 240.6,239.88 241.1,240.26 241.6,240.03 242.1,240.19 242.6,240.10 243.1,239.77 243.6,240.12 244.1,240.03 244.6,240.40 245.1,240.40 245.6,240.10 246.1,240.14 246.6,239.78 247.1,240.04 247.6,239.82 248.1,240.04 248.6,239.79 249.1,240.22 249.6,240.42 250.1,239.91 250.6,239.98 251.1,240.30 251.6,240.29 252.1,240.11 252.6,239.81 253.1,239.97 253.6,240.14 254.1,240.04 254.6,240.20 255.1,240.17 255.6,240.31 256.1,239.96 256.6,240.43 257.1,240.08 257.6,240.38 258.1,240.34 258.6,239.91 259.1,239.84 259.6,240.09 260.1,239.77 260.6,239.95 261.1,240.07 261.6,240.02 262.1,240.44 262.6,240.38 263.1,239.92 263.6,240.18 264.1,239.77 264.6,240.27 265.1,240.25 265.6,240.30 266.1,239.79 266.6,240.06 267.1,240.27 267.6,240.40 268.1,240.04 268.6,240.44 269.1,239.84 269.6,240.34 270.1,239.91 270.6,239.84 271.1,240.24 271.6,240.04 272.1,239.97 272.6,240.13 273.1,240.16 273.6,239.83 274.1,240.27 274.6,240.05 275.1,240.44 275.6,240.05 276.1,239.77 276.6,240.17 277.1,239.93 277.6,240.22 278.1,240.18 278.6,240.17 279.1,239.83 279.6,240.22 280.1,240.42 280.6,240.06 281.1,240.04 281.6,240.01 282.1,240.10 282.6,240.20 283.1,239.86 283.6,240.10 284.1,239.97 284.6,239.85 285.1,239.69 285.6,239.31 286.1,238.68 286.6,238.62 287.1,238.39 287.6,238.49 288.1,238.53 288.6,238.41 289.1,238.50 289.6,239.35 290.1,239.25 290.6,239.30 291.1,239.77 291.6,239.65 292.1,240.23 292.6,239.85 293.1,240.35 293.6,240.29 294.1,240.38 294.6,240.44 295.1,239.92 295.6,240.20 296.1,240.19 296.6,239.94 297.1,240.27 297.6,239.85 298.1,240.32 298.6,239.77 299.1,239.84 299.6,240.10 300.1,239.79 300.6,239.86 301.1,239.78 301.6,240.24 302.1,240.16 302.6,240.24 303.1,240.14 303.6,240.06 304.1,239.85 304.6,240.22 305.1,240.06 305.6,240.26 306.1,240.14 306.6,240.41 307.1,240.07 307.6,240.02 308.1,240.03 308.6,239.84 309.1,240.08 309.6,240.26 310.1,239.78 310.6,240.17 311.1,240.31 311.6,240.09 312.1,239.96 312.6,240.26 313.1,240.29 313.6,240.39 314.1,240.06 314.6,240.19 315.1,239.89 315.6,240.34 316.1,240.02 316.6,240.34 317.1,240.31 317.6,240.37 318.1,240.00 318.6,239.94 319.1,240.14 319.6,239.87 320.1,239.89 320.6,239.84 321.1,240.00 321.6,240.14 322.1,240.16 322.6,239.89 323.1,240.24 323.6,240.28 324.1,239.75 324.6,239.79 325.1,239.99 325.6,239.87 326.1,240.41 326.6,239.91 327.1,240.03 327.6,240.24 328.1,240.25 328.6,239.98 329.1,239.81 329.6,239.93 330.1,240.42 330.6,240.04 331.1,240.21 331.6,240.29 332.1,240.41 332.6,240.04 333.1,240.26 333.6,240.21 334.1,240.10 334.6,239.82 335.1,240.26 335.6,240.05 336.1,240.00 336.6,239.92 337.1,239.86 337.6,240.29 338.1,239.84 338.6,240.40 339.1,240.13 339.6,239.93 340.1,239.82 340.6,240.21 341.1,239.97 341.6,239.96 342.1,240.42 342.6,239.92 343.1,239.86 343.6,240.35 344.1,240.23 344.6,240.15 345.1,239.79 345.6,239.78 346.1,240.32 346.6,240.17 347.1,240.36 347.6,240.41 348.1,240.30 348.6,239.79 349.1,239.82 349.6,240.31 350.1,240.01 350.6,240.00 351.1,240.14 351.6,239.86 352.1,240.39 352.6,240.26 353.1,240.37 353.6,239.81 354.1,239.89 354.6,240.13 355.1,240.39 355.6,239.85 356.1,239.90 356.6,239.84 357.1,239.79 357.6,239.98 358.1,240.11 358.6,239.89 359.1,240.35 359.6,239.86 360.1,240.23 360.6,240.14 361.1,239.84 361.6,240.44 362.1,240.21 362.6,239.88 363.1,240.17 363.6,239.82 364.1,239.95 364.6,240.29 365.1,240.10 365.6,240.20 366.1,239.99 366.6,239.95 367.1,240.10 367.6,240.40 368.1,239.85 368.6,240.32 369.1,240.01 369.6,239.87" fill="none" stroke="#000" stroke-width="1.7" stroke-linejoin="round"/>
<polygon points="172.6,253.00 173.1,253.29 173.6,252.94 174.1,253.25 174.6,253.20 175.1,253.18 175.6,253.20 176.1,252.92 176.6,252.80 177.1,253.01 177.6,252.66 178.1,253.27 178.6,253.09 179.1,253.10 179.6,252.95 180.1,252.85 180.6,253.13 181.1,253.02 181.6,253.05 182.1,253.08 182.6,253.28 183.1,252.80 183.6,253.30 184.1,253.02 184.6,253.16 185.1,253.02 185.6,252.82 186.1,252.76 186.6,252.71 187.1,252.88 187.6,253.12 188.1,253.31 188.6,253.21 189.1,252.69 189.6,253.05 190.1,253.05 190.6,253.06 191.1,253.07 191.6,253.17 192.1,253.11 192.6,252.98 193.1,252.98 193.6,253.26 194.1,253.22 194.6,253.28 195.1,252.97 195.6,252.84 196.1,252.67 196.6,253.01 197.1,252.86 197.6,252.73 198.1,252.90 198.6,252.89 199.1,253.16 199.6,252.78 200.1,252.74 200.6,253.03 201.1,252.77 201.6,253.08 202.1,253.13 202.6,252.96 203.1,252.79 203.6,252.88 204.1,252.94 204.6,252.40 205.1,252.54 205.6,252.77 206.1,252.83 206.6,252.26 207.1,251.95 207.6,251.85 208.1,251.55 208.6,250.92 209.1,250.62 209.6,250.68 210.1,250.48 210.6,250.92 211.1,251.28 211.6,251.99 212.1,251.97 212.6,252.14 213.1,252.59 213.6,252.46 214.1,252.74 214.6,252.57 215.1,252.76 215.6,252.45 216.1,252.83 216.6,253.15 217.1,253.15 217.6,252.73 218.1,253.16 218.6,252.70 219.1,252.90 219.6,253.01 220.1,252.98 220.6,252.68 221.1,252.89 221.6,252.99 222.1,252.95 222.6,252.88 223.1,252.97 223.6,252.79 224.1,253.01 224.6,253.10 225.1,253.21 225.6,252.98 226.1,253.17 226.6,253.17 227.1,253.18 227.6,253.06 228.1,252.67 228.6,252.95 229.1,253.12 229.6,252.98 230.1,252.99 230.6,253.28 231.1,252.75 231.6,252.96 232.1,252.62 232.6,252.87 233.1,253.15 233.6,252.63 234.1,253.24 234.6,253.20 235.1,253.22 235.6,253.21 236.1,253.23 236.6,252.69 237.1,253.22 237.6,252.98 238.1,253.22 238.6,253.10 239.1,253.26 239.6,253.06 240.1,253.12 240.6,252.81 241.1,252.63 241.6,253.19 242.1,253.00 242.6,252.89 243.1,252.63 243.6,253.28 244.1,252.86 244.6,253.04 245.1,252.97 245.6,252.83 246.1,252.84 246.6,253.05 247.1,252.75 247.6,252.92 248.1,253.16 248.6,253.19 249.1,253.19 249.6,252.76 250.1,252.72 250.6,253.21 251.1,252.91 251.6,253.27 252.1,253.28 252.6,252.85 253.1,252.94 253.6,253.03 254.1,253.02 254.6,253.01 255.1,253.06 255.6,253.13 256.1,252.67 256.6,253.28 257.1,252.91 257.6,253.20 258.1,253.07 258.6,253.30 259.1,253.23 259.6,252.90 260.1,253.30 260.6,253.04 261.1,252.90 261.6,252.93 262.1,253.26 262.6,253.03 263.1,253.10 263.6,252.77 264.1,252.72 264.6,252.91 265.1,252.78 265.6,253.04 266.1,252.64 266.6,252.83 267.1,252.70 267.6,253.21 268.1,252.84 268.6,252.86 269.1,252.84 269.6,252.70 270.1,253.17 270.6,253.24 271.1,252.94 271.6,253.17 272.1,252.65 272.6,252.69 273.1,252.99 273.6,252.76 274.1,252.90 274.6,252.69 275.1,252.94 275.6,253.19 276.1,252.63 276.6,253.14 277.1,253.25 277.6,252.78 278.1,252.87 278.6,252.72 279.1,253.17 279.6,252.68 280.1,252.75 280.6,252.88 281.1,253.31 281.6,252.79 282.1,253.05 282.6,253.20 283.1,253.03 283.6,252.53 284.1,252.88 284.6,252.63 285.1,252.14 285.6,252.06 286.1,252.06 286.6,251.89 287.1,251.60 287.6,251.55 288.1,251.47 288.6,251.67 289.1,252.20 289.6,251.94 290.1,252.21 290.6,252.61 291.1,253.00 291.6,252.88 292.1,252.65 292.6,253.10 293.1,253.09 293.6,252.84 294.1,252.81 294.6,252.75 295.1,253.05 295.6,252.82 296.1,253.17 296.6,253.29 297.1,252.85 297.6,253.16 298.1,252.71 298.6,253.10 299.1,253.09 299.6,252.74 300.1,253.31 300.6,252.65 301.1,253.10 301.6,253.30 302.1,253.09 302.6,253.24 303.1,253.15 303.6,252.98 304.1,252.94 304.6,253.20 305.1,252.63 305.6,253.23 306.1,253.25 306.6,253.14 307.1,253.33 307.6,252.71 308.1,253.22 308.6,253.32 309.1,252.90 309.6,253.09 310.1,253.25 310.6,253.00 311.1,253.20 311.6,253.27 312.1,252.97 312.6,253.16 313.1,253.09 313.6,252.98 314.1,252.63 314.6,252.90 315.1,252.93 315.6,253.12 316.1,253.01 316.6,253.14 317.1,252.74 317.6,252.68 318.1,252.74 318.6,253.04 319.1,252.83 319.6,253.12 320.1,252.77 320.6,252.66 321.1,253.21 321.6,253.27 322.1,252.63 322.6,252.93 323.1,252.78 323.6,252.74 324.1,252.77 324.6,253.26 325.1,253.15 325.6,253.07 326.1,252.72 326.6,252.82 327.1,253.18 327.6,253.23 328.1,252.77 328.6,252.72 329.1,253.31 329.6,253.10 330.1,253.25 330.6,253.03 331.1,253.32 331.6,253.06 332.1,253.21 332.6,253.29 333.1,252.65 333.6,253.22 334.1,252.68 334.6,252.82 335.1,253.09 335.6,253.07 336.1,253.07 336.6,253.14 337.1,252.93 337.6,253.24 338.1,252.92 338.6,252.98 339.1,253.20 339.6,252.66 340.1,253.13 340.6,252.89 341.1,252.83 341.6,252.81 342.1,252.92 342.6,253.01 343.1,253.03 343.6,252.81 344.1,253.29 344.6,252.94 345.1,252.74 345.6,253.01 346.1,252.99 346.6,252.85 347.1,252.78 347.6,253.10 348.1,252.91 348.6,252.76 349.1,252.90 349.6,253.18 350.1,252.63 350.6,253.09 351.1,252.88 351.6,253.29 352.1,252.85 352.6,252.94 353.1,252.69 353.6,253.17 354.1,253.31 354.6,253.10 355.1,253.03 355.6,252.85 356.1,253.11 356.6,252.79 357.1,252.73 357.6,253.31 358.1,252.64 358.6,253.28 359.1,253.15 359.6,253.27 360.1,252.77 360.6,252.66 361.1,253.14 361.6,252.93 362.1,252.65 362.6,252.79 363.1,253.15 363.6,253.01 364.1,252.69 364.6,252.72 365.1,252.99 365.6,252.92 366.1,253.28 366.6,253.05 367.1,252.77 367.6,253.30 368.1,253.19 368.6,252.93 369.1,253.32 369.6,253.20 369.6,253.58 172.6,253.58" fill="#fff"/>
<polyline points="172.6,253.00 173.1,253.29 173.6,252.94 174.1,253.25 174.6,253.20 175.1,253.18 175.6,253.20 176.1,252.92 176.6,252.80 177.1,253.01 177.6,252.66 178.1,253.27 178.6,253.09 179.1,253.10 179.6,252.95 180.1,252.85 180.6,253.13 181.1,253.02 181.6,253.05 182.1,253.08 182.6,253.28 183.1,252.80 183.6,253.30 184.1,253.02 184.6,253.16 185.1,253.02 185.6,252.82 186.1,252.76 186.6,252.71 187.1,252.88 187.6,253.12 188.1,253.31 188.6,253.21 189.1,252.69 189.6,253.05 190.1,253.05 190.6,253.06 191.1,253.07 191.6,253.17 192.1,253.11 192.6,252.98 193.1,252.98 193.6,253.26 194.1,253.22 194.6,253.28 195.1,252.97 195.6,252.84 196.1,252.67 196.6,253.01 197.1,252.86 197.6,252.73 198.1,252.90 198.6,252.89 199.1,253.16 199.6,252.78 200.1,252.74 200.6,253.03 201.1,252.77 201.6,253.08 202.1,253.13 202.6,252.96 203.1,252.79 203.6,252.88 204.1,252.94 204.6,252.40 205.1,252.54 205.6,252.77 206.1,252.83 206.6,252.26 207.1,251.95 207.6,251.85 208.1,251.55 208.6,250.92 209.1,250.62 209.6,250.68 210.1,250.48 210.6,250.92 211.1,251.28 211.6,251.99 212.1,251.97 212.6,252.14 213.1,252.59 213.6,252.46 214.1,252.74 214.6,252.57 215.1,252.76 215.6,252.45 216.1,252.83 216.6,253.15 217.1,253.15 217.6,252.73 218.1,253.16 218.6,252.70 219.1,252.90 219.6,253.01 220.1,252.98 220.6,252.68 221.1,252.89 221.6,252.99 222.1,252.95 222.6,252.88 223.1,252.97 223.6,252.79 224.1,253.01 224.6,253.10 225.1,253.21 225.6,252.98 226.1,253.17 226.6,253.17 227.1,253.18 227.6,253.06 228.1,252.67 228.6,252.95 229.1,253.12 229.6,252.98 230.1,252.99 230.6,253.28 231.1,252.75 231.6,252.96 232.1,252.62 232.6,252.87 233.1,253.15 233.6,252.63 234.1,253.24 234.6,253.20 235.1,253.22 235.6,253.21 236.1,253.23 236.6,252.69 237.1,253.22 237.6,252.98 238.1,253.22 238.6,253.10 239.1,253.26 239.6,253.06 240.1,253.12 240.6,252.81 241.1,252.63 241.6,253.19 242.1,253.00 242.6,252.89 243.1,252.63 243.6,253.28 244.1,252.86 244.6,253.04 245.1,252.97 245.6,252.83 246.1,252.84 246.6,253.05 247.1,252.75 247.6,252.92 248.1,253.16 248.6,253.19 249.1,253.19 249.6,252.76 250.1,252.72 250.6,253.21 251.1,252.91 251.6,253.27 252.1,253.28 252.6,252.85 253.1,252.94 253.6,253.03 254.1,253.02 254.6,253.01 255.1,253.06 255.6,253.13 256.1,252.67 256.6,253.28 257.1,252.91 257.6,253.20 258.1,253.07 258.6,253.30 259.1,253.23 259.6,252.90 260.1,253.30 260.6,253.04 261.1,252.90 261.6,252.93 262.1,253.26 262.6,253.03 263.1,253.10 263.6,252.77 264.1,252.72 264.6,252.91 265.1,252.78 265.6,253.04 266.1,252.64 266.6,252.83 267.1,252.70 267.6,253.21 268.1,252.84 268.6,252.86 269.1,252.84 269.6,252.70 270.1,253.17 270.6,253.24 271.1,252.94 271.6,253.17 272.1,252.65 272.6,252.69 273.1,252.99 273.6,252.76 274.1,252.90 274.6,252.69 275.1,252.94 275.6,253.19 276.1,252.63 276.6,253.14 277.1,253.25 277.6,252.78 278.1,252.87 278.6,252.72 279.1,253.17 279.6,252.68 280.1,252.75 280.6,252.88 281.1,253.31 281.6,252.79 282.1,253.05 282.6,253.20 283.1,253.03 283.6,252.53 284.1,252.88 284.6,252.63 285.1,252.14 285.6,252.06 286.1,252.06 286.6,251.89 287.1,251.60 287.6,251.55 288.1,251.47 288.6,251.67 289.1,252.20 289.6,251.94 290.1,252.21 290.6,252.61 291.1,253.00 291.6,252.88 292.1,252.65 292.6,253.10 293.1,253.09 293.6,252.84 294.1,252.81 294.6,252.75 295.1,253.05 295.6,252.82 296.1,253.17 296.6,253.29 297.1,252.85 297.6,253.16 298.1,252.71 298.6,253.10 299.1,253.09 299.6,252.74 300.1,253.31 300.6,252.65 301.1,253.10 301.6,253.30 302.1,253.09 302.6,253.24 303.1,253.15 303.6,252.98 304.1,252.94 304.6,253.20 305.1,252.63 305.6,253.23 306.1,253.25 306.6,253.14 307.1,253.33 307.6,252.71 308.1,253.22 308.6,253.32 309.1,252.90 309.6,253.09 310.1,253.25 310.6,253.00 311.1,253.20 311.6,253.27 312.1,252.97 312.6,253.16 313.1,253.09 313.6,252.98 314.1,252.63 314.6,252.90 315.1,252.93 315.6,253.12 316.1,253.01 316.6,253.14 317.1,252.74 317.6,252.68 318.1,252.74 318.6,253.04 319.1,252.83 319.6,253.12 320.1,252.77 320.6,252.66 321.1,253.21 321.6,253.27 322.1,252.63 322.6,252.93 323.1,252.78 323.6,252.74 324.1,252.77 324.6,253.26 325.1,253.15 325.6,253.07 326.1,252.72 326.6,252.82 327.1,253.18 327.6,253.23 328.1,252.77 328.6,252.72 329.1,253.31 329.6,253.10 330.1,253.25 330.6,253.03 331.1,253.32 331.6,253.06 332.1,253.21 332.6,253.29 333.1,252.65 333.6,253.22 334.1,252.68 334.6,252.82 335.1,253.09 335.6,253.07 336.1,253.07 336.6,253.14 337.1,252.93 337.6,253.24 338.1,252.92 338.6,252.98 339.1,253.20 339.6,252.66 340.1,253.13 340.6,252.89 341.1,252.83 341.6,252.81 342.1,252.92 342.6,253.01 343.1,253.03 343.6,252.81 344.1,253.29 344.6,252.94 345.1,252.74 345.6,253.01 346.1,252.99 346.6,252.85 347.1,252.78 347.6,253.10 348.1,252.91 348.6,252.76 349.1,252.90 349.6,253.18 350.1,252.63 350.6,253.09 351.1,252.88 351.6,253.29 352.1,252.85 352.6,252.94 353.1,252.69 353.6,253.17 354.1,253.31 354.6,253.10 355.1,253.03 355.6,252.85 356.1,253.11 356.6,252.79 357.1,252.73 357.6,253.31 358.1,252.64 358.6,253.28 359.1,253.15 359.6,253.27 360.1,252.77 360.6,252.66 361.1,253.14 361.6,252.93 362.1,252.65 362.6,252.79 363.1,253.15 363.6,253.01 364.1,252.69 364.6,252.72 365.1,252.99 365.6,252.92 366.1,253.28 366.6,253.05 367.1,252.77 367.6,253.30 368.1,253.19 368.6,252.93 369.1,253.32 369.6,253.20" fill="none" stroke="#000" stroke-width="1.7" stroke-linejoin="round"/>
<line x1="0.8" y1="27.5" x2="162.8" y2="27.5" stroke="#000" stroke-width="1.7" />
<line x1="171.0" y1="27.5" x2="377.2" y2="27.5" stroke="#000" stroke-width="1.7" />
<line x1="1.6" y1="26.7" x2="1.6" y2="292.5" stroke="#000" stroke-width="1.6" />
<line x1="376.4" y1="26.7" x2="376.4" y2="292.5" stroke="#000" stroke-width="1.6" />
<line x1="0.8" y1="291.7" x2="162.2" y2="291.7" stroke="#000" stroke-width="1.6" />
<line x1="168.8" y1="291.7" x2="377.2" y2="291.7" stroke="#000" stroke-width="1.6" />
<line x1="159.9" y1="38.7" x2="166.6" y2="16.1" stroke="#000" stroke-width="1.5" />
<line x1="165.9" y1="38.7" x2="172.6" y2="16.1" stroke="#000" stroke-width="1.5" />
<line x1="160.4" y1="300.3" x2="166.4" y2="280.3" stroke="#000" stroke-width="1.5" />
<line x1="165.9" y1="300.3" x2="172.4" y2="280.3" stroke="#000" stroke-width="1.5" />
<line x1="376.4" y1="47" x2="381.4" y2="47" stroke="#000" stroke-width="1.5" />
<line x1="376.4" y1="72.8" x2="381.4" y2="72.8" stroke="#000" stroke-width="1.5" />
<line x1="376.4" y1="98.5" x2="381.4" y2="98.5" stroke="#000" stroke-width="1.5" />
<line x1="376.4" y1="124.2" x2="381.4" y2="124.2" stroke="#000" stroke-width="1.5" />
<line x1="376.4" y1="150.0" x2="381.4" y2="150.0" stroke="#000" stroke-width="1.5" />
<line x1="376.4" y1="175.6" x2="381.4" y2="175.6" stroke="#000" stroke-width="1.5" />
<line x1="376.4" y1="201.4" x2="381.4" y2="201.4" stroke="#000" stroke-width="1.5" />
<line x1="376.4" y1="227.2" x2="381.4" y2="227.2" stroke="#000" stroke-width="1.5" />
<line x1="376.4" y1="253.0" x2="381.4" y2="253.0" stroke="#000" stroke-width="1.5" />
<line x1="376.4" y1="278.7" x2="381.4" y2="278.7" stroke="#000" stroke-width="1.5" />
<line x1="34.7" y1="291.7" x2="34.7" y2="300.3" stroke="#000" stroke-width="1.5" />
<text transform="translate(34.7,316.0) scale(1.09,1)" font-size="12" text-anchor="middle" fill="#000" font-family='"Liberation Sans", sans-serif'  stroke="#000" stroke-width="0.20">−25</text>
<line x1="79.5" y1="291.7" x2="79.5" y2="300.3" stroke="#000" stroke-width="1.5" />
<text transform="translate(79.5,316.0) scale(1.09,1)" font-size="12" text-anchor="middle" fill="#000" font-family='"Liberation Sans", sans-serif'  stroke="#000" stroke-width="0.20">0</text>
<line x1="124.7" y1="291.7" x2="124.7" y2="300.3" stroke="#000" stroke-width="1.5" />
<text transform="translate(124.7,316.0) scale(1.09,1)" font-size="12" text-anchor="middle" fill="#000" font-family='"Liberation Sans", sans-serif'  stroke="#000" stroke-width="0.20">25</text>
<line x1="220.8" y1="291.7" x2="220.8" y2="300.3" stroke="#000" stroke-width="1.5" />
<text transform="translate(220.8,316.0) scale(1.09,1)" font-size="12" text-anchor="middle" fill="#000" font-family='"Liberation Sans", sans-serif'  stroke="#000" stroke-width="0.20">125</text>
<line x1="265.8" y1="291.7" x2="265.8" y2="300.3" stroke="#000" stroke-width="1.5" />
<text transform="translate(265.8,316.0) scale(1.09,1)" font-size="12" text-anchor="middle" fill="#000" font-family='"Liberation Sans", sans-serif'  stroke="#000" stroke-width="0.20">150</text>
<line x1="310.8" y1="291.7" x2="310.8" y2="300.3" stroke="#000" stroke-width="1.5" />
<text transform="translate(310.8,316.0) scale(1.09,1)" font-size="12" text-anchor="middle" fill="#000" font-family='"Liberation Sans", sans-serif'  stroke="#000" stroke-width="0.20">175</text>
<line x1="355.8" y1="291.7" x2="355.8" y2="300.3" stroke="#000" stroke-width="1.5" />
<text transform="translate(355.8,316.0) scale(1.09,1)" font-size="12" text-anchor="middle" fill="#000" font-family='"Liberation Sans", sans-serif'  stroke="#000" stroke-width="0.20">200</text>
<text transform="translate(191.25,338.9) scale(1.06,1)" font-size="12.3" text-anchor="middle" fill="#000" font-family='"Liberation Sans", sans-serif'  stroke="#000" stroke-width="0.20">Δ<tspan font-style="italic">E</tspan> (μeV)</text>
<text transform="translate(400.6,157.7) rotate(-90) scale(1.06,1)" font-size="12.3" text-anchor="middle" fill="#000" font-family='"Liberation Sans", sans-serif'  stroke="#000" stroke-width="0.20">Intensity (a.u.)</text>
<line x1="79.6" y1="39.2" x2="79.6" y2="259.2" stroke="#168216" stroke-width="3.1" stroke-linecap="round"/>
<line x1="10.6" y1="252.0" x2="141.0" y2="62.6" stroke="#000" stroke-width="3.0" />
<line x1="37" y1="221.3" x2="73" y2="221.3" stroke="#000" stroke-width="1.6" />
<polygon points="31.80,221.30 39.60,217.50 39.37,221.30 39.60,225.10" fill="#000"/>
<polygon points="78.00,221.30 70.20,225.10 70.43,221.30 70.20,217.50" fill="#000"/>
<text x="56.3" y="214.6" font-size="12.5" text-anchor="middle" fill="#000" font-family='"Liberation Serif", serif' font-style="italic">δ</text>
<line x1="86" y1="221.3" x2="166.6" y2="221.3" stroke="#000" stroke-width="1.6" />
<polygon points="80.90,221.30 89.40,217.50 89.15,221.30 89.40,225.10" fill="#000"/>
<line x1="171" y1="221.4" x2="280" y2="221.4" stroke="#000" stroke-width="1.6" />
<polygon points="286.20,221.40 277.90,225.25 278.15,221.40 277.90,217.55" fill="#000"/>
<line x1="18" y1="248.0" x2="166.6" y2="248.0" stroke="#000" stroke-width="1.6" />
<polygon points="12.60,248.00 20.60,244.40 20.36,248.00 20.60,251.60" fill="#000"/>
<line x1="171" y1="247.8" x2="204" y2="247.8" stroke="#000" stroke-width="1.6" />
<polygon points="210.90,247.80 202.40,251.55 202.66,247.80 202.40,244.05" fill="#000"/>
<line x1="164.6" y1="229.0" x2="169.2" y2="215.0" stroke="#000" stroke-width="1.3" />
<line x1="168.0" y1="229.0" x2="172.6" y2="215.0" stroke="#000" stroke-width="1.3" />
<line x1="164.6" y1="254.79999999999998" x2="169.2" y2="240.79999999999998" stroke="#000" stroke-width="1.3" />
<line x1="168.0" y1="254.79999999999998" x2="172.6" y2="240.79999999999998" stroke="#000" stroke-width="1.3" />
<text x="119.8" y="237.1" font-size="12" font-family='"Liberation Serif", serif'>Δ<tspan font-size="8" dy="3.6" font-family='"Liberation Sans", sans-serif'>ex</tspan></text>
<text x="8.6" y="278.1" font-size="12.5" text-anchor="start" fill="#000" font-family='"Liberation Sans", sans-serif'  stroke="#000" stroke-width="0.20">L</text>
<text x="79.0" y="278.1" font-size="12.5" text-anchor="middle" fill="#2a8c3c" font-family='"Liberation Sans", sans-serif'  stroke="#2a8c3c" stroke-width="0.20">T</text>
<text x="205.8" y="278.1" font-size="12.5" text-anchor="middle" fill="#cc1a2e" font-family='"Liberation Sans", sans-serif'  stroke="#cc1a2e" stroke-width="0.20">R</text>
<text x="286.5" y="278.1" font-size="12.5" text-anchor="middle" fill="#2a2aae" font-family='"Liberation Sans", sans-serif'  stroke="#2a2aae" stroke-width="0.20">S</text>
<rect x="140.4" y="42.2" width="107.4" height="123.7" fill="#fff" stroke="#000" stroke-width="1.3"/>
<text x="159.0" y="57.8" font-size="12.4" text-anchor="start" fill="#000" font-family='"Liberation Sans", sans-serif'  stroke="#000" stroke-width="0.20">X</text>
<text x="168.6" y="60.6" font-size="6.2" text-anchor="start" fill="#000" font-family='"Liberation Sans", sans-serif' >1</text>
<line x1="144.4" y1="66.3" x2="185.0" y2="66.3" stroke="#000" stroke-width="2.5" />
<line x1="159.1" y1="86.4" x2="184.4" y2="86.4" stroke="#000" stroke-width="1.2" />
<line x1="144.7" y1="122.6" x2="184.4" y2="122.6" stroke="#000" stroke-width="2.4" />
<line x1="222.8" y1="148.1" x2="245.0" y2="148.1" stroke="#000" stroke-width="2.4" />
<line x1="151.2" y1="67.5" x2="151.2" y2="112" stroke="#168216" stroke-width="2.1"/>
<polygon points="151.3,119.3 146.6,111.0 156.2,111.0" fill="#168216"/>
<line x1="171.9" y1="71" x2="171.9" y2="82" stroke="#000" stroke-width="1.5" />
<polygon points="171.90,67.60 174.20,72.60 171.90,72.45 169.60,72.60" fill="#000"/>
<polygon points="171.90,85.40 169.60,80.40 171.90,80.55 174.20,80.40" fill="#000"/>
<text x="160.6" y="80.6" font-size="12.5" text-anchor="middle" fill="#000" font-family='"Liberation Serif", serif' font-style="italic">δ</text>
<line x1="171.8" y1="91" x2="171.8" y2="121.5" stroke="#000" stroke-width="1.5" />
<polygon points="171.80,87.60 174.10,92.60 171.80,92.45 169.50,92.60" fill="#000"/>
<text x="158.6" y="107.4" font-size="11.8" text-anchor="start" fill="#000" font-family='"Liberation Sans", sans-serif'  stroke="#000" stroke-width="0.19">L</text>
<text x="183.3" y="111.7" font-size="11.8" text-anchor="middle" fill="#cc1a2e" font-family='"Liberation Sans", sans-serif'  stroke="#cc1a2e" stroke-width="0.19">R</text>
<line x1="182.8" y1="127" x2="182.8" y2="145" stroke="#000" stroke-width="1.5" />
<polygon points="182.80,124.00 185.10,129.00 182.80,128.85 180.50,129.00" fill="#000"/>
<polygon points="182.80,147.80 180.50,142.80 182.80,142.95 185.10,142.80" fill="#000"/>
<line x1="172.2" y1="148.1" x2="194.4" y2="148.1" stroke="#000" stroke-width="1" stroke-dasharray="1.2 1.0"/>
<text x="156.8" y="139.8" font-size="12.2" text-anchor="start" fill="#2a8c3c" font-family='"Liberation Sans", sans-serif'  stroke="#2a8c3c" stroke-width="0.20">T</text>
<text x="164.8" y="142.9" font-size="7.0" text-anchor="start" fill="#2a8c3c" font-family='"Liberation Sans", sans-serif' >0</text>
<text x="189.4" y="140.0" font-size="11.6" font-family='"Liberation Serif", serif'>Δ<tspan font-size="7.8" dy="3.4" font-family='"Liberation Sans", sans-serif'>ex</tspan></text>
<line x1="178.4" y1="66.8" x2="235.8" y2="139.5" stroke="#1c1cdc" stroke-width="2.2"/>
<polygon points="240.60,145.60 231.49,140.70 234.88,138.38 237.91,135.61" fill="#1c1cdc"/>
<line x1="182.2" y1="86.6" x2="225.6" y2="139.4" stroke="#e61e28" stroke-width="2.2"/>
<polygon points="230.60,145.60 221.41,140.85 224.76,138.47 227.75,135.65" fill="#e61e28"/>
<text x="232.0" y="162.2" font-size="12.2" text-anchor="middle" fill="#2a2aae" font-family='"Liberation Sans", sans-serif'  stroke="#2a2aae" stroke-width="0.20">S</text>
<text x="429.8" y="11.8" font-size="16.8" text-anchor="start" fill="#000" font-family='"Liberation Sans", sans-serif' font-weight="bold">b</text>
<defs><linearGradient id="g1" gradientUnits="userSpaceOnUse" x1="0" y1="27.5" x2="0" y2="101.8"><stop offset="0.0000" stop-color="#e6e8fb"/><stop offset="0.3028" stop-color="#e0e4fa"/><stop offset="0.5182" stop-color="#d8def8"/><stop offset="0.7739" stop-color="#e0e5fa"/><stop offset="0.9085" stop-color="#e8ebfb"/><stop offset="1.0000" stop-color="#eef0fc"/></linearGradient><linearGradient id="g2" gradientUnits="userSpaceOnUse" x1="0" y1="27.5" x2="0" y2="102"><stop offset="0.0000" stop-color="#e2e5fa"/><stop offset="0.3020" stop-color="#d0d8f7"/><stop offset="0.4362" stop-color="#b8c6f4"/><stop offset="0.4765" stop-color="#98aef0"/><stop offset="0.5369" stop-color="#98aef0"/><stop offset="0.5973" stop-color="#b8c6f4"/><stop offset="0.7718" stop-color="#d0d8f7"/><stop offset="1.0000" stop-color="#dce2f9"/></linearGradient><linearGradient id="g3" gradientUnits="userSpaceOnUse" x1="0" y1="27.5" x2="0" y2="102"><stop offset="0.0000" stop-color="#dfe3fa"/><stop offset="0.3020" stop-color="#c8d2f6"/><stop offset="0.3691" stop-color="#a0b4f2"/><stop offset="0.3960" stop-color="#5070f0"/><stop offset="0.4336" stop-color="#2040f0"/><stop offset="0.4430" stop-color="#1020e8"/><stop offset="0.5758" stop-color="#1020e8"/><stop offset="0.5973" stop-color="#6080f0"/><stop offset="0.6376" stop-color="#c0ccf5"/><stop offset="0.8389" stop-color="#d4dbf8"/><stop offset="1.0000" stop-color="#dfe4fa"/></linearGradient><linearGradient id="g4" gradientUnits="userSpaceOnUse" x1="0" y1="38.8" x2="0" y2="94.5"><stop offset="0.0000" stop-color="#e8ebfb"/><stop offset="0.2908" stop-color="#dde3fa"/><stop offset="0.3806" stop-color="#a0b4f2"/><stop offset="0.4291" stop-color="#1a28e8"/><stop offset="0.4596" stop-color="#5030e4"/><stop offset="0.4704" stop-color="#8a44e8"/><stop offset="0.5206" stop-color="#8a44e8"/><stop offset="0.5314" stop-color="#5030e4"/><stop offset="0.5530" stop-color="#1a28e8"/><stop offset="0.5871" stop-color="#b0c0f3"/><stop offset="0.7397" stop-color="#dfe5fa"/><stop offset="1.0000" stop-color="#e6eafb"/></linearGradient><linearGradient id="g5" gradientUnits="userSpaceOnUse" x1="0" y1="40" x2="0" y2="90"><stop offset="0.0000" stop-color="#f1f3fd"/><stop offset="1.0000" stop-color="#f1f3fd"/></linearGradient><linearGradient id="g6" gradientUnits="userSpaceOnUse" x1="0" y1="42" x2="0" y2="90"><stop offset="0.0000" stop-color="#f7f8fe"/><stop offset="1.0000" stop-color="#f7f8fe"/></linearGradient><linearGradient id="g7" gradientUnits="userSpaceOnUse" x1="0" y1="45" x2="0" y2="90"><stop offset="0.0000" stop-color="#fafaff"/><stop offset="1.0000" stop-color="#fafaff"/></linearGradient><linearGradient id="g8" gradientUnits="userSpaceOnUse" x1="0" y1="45" x2="0" y2="90"><stop offset="0.0000" stop-color="#fafaff"/><stop offset="1.0000" stop-color="#fafaff"/></linearGradient><linearGradient id="g9" gradientUnits="userSpaceOnUse" x1="0" y1="45" x2="0" y2="90"><stop offset="0.0000" stop-color="#fafaff"/><stop offset="1.0000" stop-color="#fafaff"/></linearGradient><linearGradient id="g10" gradientUnits="userSpaceOnUse" x1="0" y1="45" x2="0" y2="90"><stop offset="0.0000" stop-color="#fafaff"/><stop offset="1.0000" stop-color="#fafaff"/></linearGradient><linearGradient id="g11" gradientUnits="userSpaceOnUse" x1="0" y1="45" x2="0" y2="90"><stop offset="0.0000" stop-color="#fafaff"/><stop offset="1.0000" stop-color="#fafaff"/></linearGradient><linearGradient id="g12" gradientUnits="userSpaceOnUse" x1="0" y1="45" x2="0" y2="90"><stop offset="0.0000" stop-color="#fafaff"/><stop offset="1.0000" stop-color="#fafaff"/></linearGradient><linearGradient id="g13" gradientUnits="userSpaceOnUse" x1="0" y1="45" x2="0" y2="90"><stop offset="0.0000" stop-color="#fafaff"/><stop offset="1.0000" stop-color="#fafaff"/></linearGradient><linearGradient id="g14" gradientUnits="userSpaceOnUse" x1="0" y1="45" x2="0" y2="90"><stop offset="0.0000" stop-color="#fafaff"/><stop offset="1.0000" stop-color="#fafaff"/></linearGradient><linearGradient id="g15" gradientUnits="userSpaceOnUse" x1="0" y1="45" x2="0" y2="90"><stop offset="0.0000" stop-color="#fafaff"/><stop offset="1.0000" stop-color="#fafaff"/></linearGradient><linearGradient id="g16" gradientUnits="userSpaceOnUse" x1="0" y1="32.7" x2="0" y2="85.6"><stop offset="0.0000" stop-color="#eef0fc"/><stop offset="1.0000" stop-color="#eef0fc"/></linearGradient><linearGradient id="g17" gradientUnits="userSpaceOnUse" x1="0" y1="31.6" x2="0" y2="88.3"><stop offset="0.0000" stop-color="#e6eafb"/><stop offset="1.0000" stop-color="#e6eafb"/></linearGradient><linearGradient id="g18" gradientUnits="userSpaceOnUse" x1="0" y1="27.5" x2="0" y2="95.5"><stop offset="0.0000" stop-color="#b8c6f4"/><stop offset="0.1544" stop-color="#8098f0"/><stop offset="0.1882" stop-color="#6080f0"/><stop offset="0.2397" stop-color="#1a2af0"/><stop offset="0.2912" stop-color="#5a34e8"/><stop offset="0.3015" stop-color="#8a4ae0"/><stop offset="0.3456" stop-color="#8a4ae0"/><stop offset="0.3559" stop-color="#3a2ae8"/><stop offset="0.4000" stop-color="#1a2af0"/><stop offset="0.4338" stop-color="#8098f0"/><stop offset="0.5074" stop-color="#a0b4f2"/><stop offset="0.6985" stop-color="#b8c6f4"/><stop offset="1.0000" stop-color="#c8d4f6"/></linearGradient><linearGradient id="g19" gradientUnits="userSpaceOnUse" x1="0" y1="27.5" x2="0" y2="95.5"><stop offset="0.0000" stop-color="#b0c0f4"/><stop offset="0.1544" stop-color="#90a8f0"/><stop offset="0.2132" stop-color="#4060f0"/><stop offset="0.2397" stop-color="#1028f0"/><stop offset="0.3544" stop-color="#1028f0"/><stop offset="0.3897" stop-color="#5070f0"/><stop offset="0.4485" stop-color="#98b0f2"/><stop offset="0.6985" stop-color="#c0ccf5"/><stop offset="1.0000" stop-color="#cdd7f7"/></linearGradient><linearGradient id="g20" gradientUnits="userSpaceOnUse" x1="0" y1="27.5" x2="0" y2="88.3"><stop offset="0.0000" stop-color="#c8d4f7"/><stop offset="0.3701" stop-color="#c0ccf6"/><stop offset="0.6990" stop-color="#d0daf8"/><stop offset="1.0000" stop-color="#dde4fa"/></linearGradient><linearGradient id="g21" gradientUnits="userSpaceOnUse" x1="0" y1="27.5" x2="0" y2="85.6"><stop offset="0.0000" stop-color="#e6eafc"/><stop offset="1.0000" stop-color="#eaedfc"/></linearGradient><linearGradient id="g22" gradientUnits="userSpaceOnUse" x1="0" y1="27.5" x2="0" y2="85.6"><stop offset="0.0000" stop-color="#f2f4fd"/><stop offset="1.0000" stop-color="#f6f7fe"/></linearGradient><linearGradient id="g23" gradientUnits="userSpaceOnUse" x1="0" y1="148.5" x2="0" y2="207.0"><stop offset="0.0000" stop-color="#d4dbf8"/><stop offset="1.0000" stop-color="#d0d8f8"/></linearGradient><linearGradient id="g24" gradientUnits="userSpaceOnUse" x1="0" y1="148.5" x2="0" y2="207.6"><stop offset="0.0000" stop-color="#c8d2f6"/><stop offset="0.2234" stop-color="#a8b8f3"/><stop offset="0.3536" stop-color="#6888f0"/><stop offset="0.5042" stop-color="#4068f0"/><stop offset="0.6413" stop-color="#3a5cf0"/><stop offset="0.7699" stop-color="#5070f0"/><stop offset="0.8206" stop-color="#a0b0f2"/><stop offset="0.8883" stop-color="#b8c6f4"/><stop offset="1.0000" stop-color="#ccd5f7"/></linearGradient><linearGradient id="g25" gradientUnits="userSpaceOnUse" x1="0" y1="148.5" x2="0" y2="207.6"><stop offset="0.0000" stop-color="#c8d2f6"/><stop offset="0.1658" stop-color="#c0ccf5"/><stop offset="0.2487" stop-color="#8098f0"/><stop offset="0.2792" stop-color="#3050f0"/><stop offset="0.2961" stop-color="#1020e8"/><stop offset="0.3739" stop-color="#1020e8"/><stop offset="0.3841" stop-color="#c040b0"/><stop offset="0.4788" stop-color="#c040b0"/><stop offset="0.4890" stop-color="#1020e8"/><stop offset="0.6345" stop-color="#1020e8"/><stop offset="0.8037" stop-color="#4060f0"/><stop offset="0.8545" stop-color="#a0b0f2"/><stop offset="1.0000" stop-color="#ccd5f7"/></linearGradient><linearGradient id="g26" gradientUnits="userSpaceOnUse" x1="0" y1="148.5" x2="0" y2="207.6"><stop offset="0.0000" stop-color="#d0d8f8"/><stop offset="0.2453" stop-color="#a0b0f2"/><stop offset="0.3046" stop-color="#5070f0"/><stop offset="0.3198" stop-color="#1828e0"/><stop offset="0.3841" stop-color="#1828e0"/><stop offset="0.3976" stop-color="#9040c8"/><stop offset="0.4146" stop-color="#f8c040"/><stop offset="0.4619" stop-color="#f8c040"/><stop offset="0.4788" stop-color="#9040c8"/><stop offset="0.4924" stop-color="#2a3ae6"/><stop offset="0.5939" stop-color="#2a3ae6"/><stop offset="0.6041" stop-color="#5070f0"/><stop offset="0.7953" stop-color="#7090f0"/><stop offset="0.8376" stop-color="#b0c0f3"/><stop offset="1.0000" stop-color="#d0d8f8"/></linearGradient><linearGradient id="g27" gradientUnits="userSpaceOnUse" x1="0" y1="148.5" x2="0" y2="207.6"><stop offset="0.0000" stop-color="#dde3fa"/><stop offset="0.2961" stop-color="#d4dcf8"/><stop offset="0.3723" stop-color="#c8d2f6"/><stop offset="0.3841" stop-color="#4050e0"/><stop offset="0.4010" stop-color="#7040d8"/><stop offset="0.4247" stop-color="#c050b0"/><stop offset="0.4315" stop-color="#f0a060"/><stop offset="0.4569" stop-color="#f0a060"/><stop offset="0.4636" stop-color="#c050b0"/><stop offset="0.4822" stop-color="#7040d8"/><stop offset="0.4992" stop-color="#4050e0"/><stop offset="0.5127" stop-color="#c8d2f6"/><stop offset="0.6497" stop-color="#c4cef5"/><stop offset="0.7970" stop-color="#c8d2f6"/><stop offset="1.0000" stop-color="#d0d8f8"/></linearGradient><linearGradient id="g28" gradientUnits="userSpaceOnUse" x1="0" y1="148.8" x2="0" y2="207.6"><stop offset="0.0000" stop-color="#e7eafb"/><stop offset="0.2755" stop-color="#dfe4fa"/><stop offset="1.0000" stop-color="#dfe4fa"/></linearGradient><linearGradient id="g29" gradientUnits="userSpaceOnUse" x1="0" y1="148.8" x2="0" y2="207.6"><stop offset="0.0000" stop-color="#e7eafb"/><stop offset="0.2755" stop-color="#e3e7fb"/><stop offset="1.0000" stop-color="#e3e7fb"/></linearGradient><linearGradient id="g30" gradientUnits="userSpaceOnUse" x1="0" y1="148.8" x2="0" y2="207.6"><stop offset="0.0000" stop-color="#e7eafb"/><stop offset="0.2755" stop-color="#e3e7fb"/><stop offset="1.0000" stop-color="#e3e7fb"/></linearGradient><linearGradient id="g31" gradientUnits="userSpaceOnUse" x1="0" y1="148.8" x2="0" y2="207.6"><stop offset="0.0000" stop-color="#e7eafb"/><stop offset="0.2755" stop-color="#e3e7fb"/><stop offset="1.0000" stop-color="#e3e7fb"/></linearGradient><linearGradient id="g32" gradientUnits="userSpaceOnUse" x1="0" y1="148.8" x2="0" y2="207.6"><stop offset="0.0000" stop-color="#e7eafb"/><stop offset="0.2755" stop-color="#e3e7fb"/><stop offset="1.0000" stop-color="#e3e7fb"/></linearGradient><linearGradient id="g33" gradientUnits="userSpaceOnUse" x1="0" y1="148.8" x2="0" y2="207.6"><stop offset="0.0000" stop-color="#e7eafb"/><stop offset="0.2755" stop-color="#e3e7fb"/><stop offset="1.0000" stop-color="#e3e7fb"/></linearGradient><linearGradient id="g34" gradientUnits="userSpaceOnUse" x1="0" y1="148.8" x2="0" y2="207.6"><stop offset="0.0000" stop-color="#e7eafb"/><stop offset="0.2755" stop-color="#e3e7fb"/><stop offset="1.0000" stop-color="#e3e7fb"/></linearGradient><linearGradient id="g35" gradientUnits="userSpaceOnUse" x1="0" y1="148.8" x2="0" y2="207.6"><stop offset="0.0000" stop-color="#e7eafb"/><stop offset="0.2755" stop-color="#e3e7fb"/><stop offset="1.0000" stop-color="#e3e7fb"/></linearGradient><linearGradient id="g36" gradientUnits="userSpaceOnUse" x1="0" y1="148.8" x2="0" y2="207.6"><stop offset="0.0000" stop-color="#e7eafb"/><stop offset="0.2755" stop-color="#e3e7fb"/><stop offset="1.0000" stop-color="#e3e7fb"/></linearGradient><linearGradient id="g37" gradientUnits="userSpaceOnUse" x1="0" y1="153.3" x2="0" y2="207.6"><stop offset="0.0000" stop-color="#e7eafb"/><stop offset="0.2155" stop-color="#e3e7fb"/><stop offset="1.0000" stop-color="#e3e7fb"/></linearGradient><linearGradient id="g38" gradientUnits="userSpaceOnUse" x1="0" y1="153.3" x2="0" y2="207.6"><stop offset="0.0000" stop-color="#e7eafb"/><stop offset="0.2155" stop-color="#e4e8fa"/><stop offset="1.0000" stop-color="#e4e8fa"/></linearGradient><linearGradient id="g39" gradientUnits="userSpaceOnUse" x1="0" y1="153.3" x2="0" y2="207.6"><stop offset="0.0000" stop-color="#e7eafb"/><stop offset="0.2155" stop-color="#dfe4fa"/><stop offset="1.0000" stop-color="#dfe4fa"/></linearGradient><linearGradient id="g40" gradientUnits="userSpaceOnUse" x1="0" y1="152.8" x2="0" y2="207.6"><stop offset="0.0000" stop-color="#90a8f0"/><stop offset="0.1314" stop-color="#6080f0"/><stop offset="0.2464" stop-color="#2848f0"/><stop offset="0.2555" stop-color="#1a28e8"/><stop offset="0.3011" stop-color="#1a28e8"/><stop offset="0.3066" stop-color="#7a3ad8"/><stop offset="0.3394" stop-color="#7a3ad8"/><stop offset="0.3485" stop-color="#f8b030"/><stop offset="0.4234" stop-color="#f8b030"/><stop offset="0.4288" stop-color="#9040c8"/><stop offset="0.4599" stop-color="#9040c8"/><stop offset="0.4708" stop-color="#1a28e8"/><stop offset="0.5365" stop-color="#1a28e8"/><stop offset="0.5438" stop-color="#4060f0"/><stop offset="0.6204" stop-color="#4060f0"/><stop offset="0.7153" stop-color="#6080f0"/><stop offset="0.7883" stop-color="#98b0f2"/><stop offset="1.0000" stop-color="#b0c0f4"/></linearGradient><linearGradient id="g41" gradientUnits="userSpaceOnUse" x1="0" y1="152.8" x2="0" y2="207.6"><stop offset="0.0000" stop-color="#8aa2f0"/><stop offset="0.1314" stop-color="#5070f0"/><stop offset="0.2172" stop-color="#1a28e8"/><stop offset="0.3212" stop-color="#1a28e8"/><stop offset="0.3285" stop-color="#8030c8"/><stop offset="0.4507" stop-color="#8030c8"/><stop offset="0.4580" stop-color="#1a28e8"/><stop offset="0.5547" stop-color="#1a28e8"/><stop offset="0.6058" stop-color="#3050f0"/><stop offset="0.7883" stop-color="#5070f0"/><stop offset="0.8613" stop-color="#8aa0f0"/><stop offset="1.0000" stop-color="#98b0f2"/></linearGradient><linearGradient id="g42" gradientUnits="userSpaceOnUse" x1="0" y1="148.5" x2="0" y2="207.6"><stop offset="0.0000" stop-color="#8aa4f2"/><stop offset="0.1946" stop-color="#5878f0"/><stop offset="0.2961" stop-color="#4464f0"/><stop offset="0.6007" stop-color="#4464f0"/><stop offset="0.7022" stop-color="#5878f0"/><stop offset="0.8037" stop-color="#7090f0"/><stop offset="1.0000" stop-color="#90a8f0"/></linearGradient><linearGradient id="g43" gradientUnits="userSpaceOnUse" x1="0" y1="148.5" x2="0" y2="207.6"><stop offset="0.0000" stop-color="#c0ccf5"/><stop offset="0.6481" stop-color="#b4c4f5"/><stop offset="0.8037" stop-color="#a8bcf4"/><stop offset="1.0000" stop-color="#a8bcf4"/></linearGradient><linearGradient id="g44" gradientUnits="userSpaceOnUse" x1="0" y1="148.5" x2="0" y2="207.6"><stop offset="0.0000" stop-color="#eef1fc"/><stop offset="1.0000" stop-color="#eef1fc"/></linearGradient><filter id="hb" x="-2%" y="-5%" width="104%" height="110%"><feGaussianBlur stdDeviation="0.55"/></filter></defs>
<g filter="url(#hb)"><rect x="501.30" y="27.50" width="9.05" height="74.30" fill="url(#g1)"/><rect x="509.65" y="27.50" width="9.05" height="74.50" fill="url(#g2)"/><rect x="518.00" y="27.50" width="9.05" height="74.50" fill="url(#g3)"/><rect x="526.35" y="38.80" width="9.05" height="55.70" fill="url(#g4)"/><rect x="534.70" y="40.00" width="9.05" height="50.00" fill="url(#g5)"/><rect x="543.05" y="42.00" width="9.05" height="48.00" fill="url(#g6)"/><rect x="551.40" y="45.00" width="9.05" height="45.00" fill="url(#g7)"/><rect x="559.75" y="45.00" width="9.05" height="45.00" fill="url(#g8)"/><rect x="568.10" y="45.00" width="9.05" height="45.00" fill="url(#g9)"/><rect x="576.45" y="45.00" width="9.05" height="45.00" fill="url(#g10)"/><rect x="584.80" y="45.00" width="9.05" height="45.00" fill="url(#g11)"/><rect x="593.15" y="45.00" width="9.05" height="45.00" fill="url(#g12)"/><rect x="601.50" y="45.00" width="9.05" height="45.00" fill="url(#g13)"/><rect x="609.85" y="45.00" width="9.05" height="45.00" fill="url(#g14)"/><rect x="618.20" y="45.00" width="9.05" height="45.00" fill="url(#g15)"/><rect x="626.55" y="32.70" width="9.05" height="52.90" fill="url(#g16)"/><rect x="634.90" y="31.60" width="9.05" height="56.70" fill="url(#g17)"/><rect x="643.25" y="27.50" width="9.05" height="68.00" fill="url(#g18)"/><rect x="651.60" y="27.50" width="9.05" height="68.00" fill="url(#g19)"/><rect x="659.95" y="27.50" width="9.05" height="60.80" fill="url(#g20)"/><rect x="668.30" y="27.50" width="9.05" height="58.10" fill="url(#g21)"/><rect x="676.65" y="27.50" width="6.55" height="58.10" fill="url(#g22)"/><rect x="534.70" y="64.40" width="9.05" height="5.60" fill="#d4dbf8"/><rect x="534.70" y="65.80" width="9.05" height="2.80" fill="#1a28d8"/><rect x="543.05" y="65.00" width="9.05" height="5.60" fill="#d4dbf8"/><rect x="543.05" y="66.40" width="9.05" height="2.80" fill="#1a28d8"/><rect x="551.40" y="65.20" width="9.05" height="5.20" fill="#d4dbf8"/><rect x="551.40" y="66.60" width="9.05" height="2.40" fill="#5a6ae8"/><rect x="559.75" y="64.90" width="9.05" height="5.00" fill="#d4dbf8"/><rect x="559.75" y="66.30" width="9.05" height="2.20" fill="#7080ee"/><rect x="568.10" y="64.20" width="9.05" height="5.00" fill="#d4dbf8"/><rect x="568.10" y="65.60" width="9.05" height="2.20" fill="#8090f0"/><rect x="576.45" y="63.60" width="9.05" height="5.00" fill="#d4dbf8"/><rect x="576.45" y="65.00" width="9.05" height="2.20" fill="#8898f0"/><rect x="584.80" y="63.10" width="9.05" height="5.00" fill="#d4dbf8"/><rect x="584.80" y="64.50" width="9.05" height="2.20" fill="#8090ee"/><rect x="593.15" y="62.30" width="9.05" height="5.00" fill="#d4dbf8"/><rect x="593.15" y="63.70" width="9.05" height="2.20" fill="#7888ee"/><rect x="601.50" y="59.90" width="9.05" height="5.00" fill="#d4dbf8"/><rect x="601.50" y="61.30" width="9.05" height="2.20" fill="#8898f0"/><rect x="609.85" y="58.20" width="9.05" height="4.60" fill="#d4dbf8"/><rect x="609.85" y="59.60" width="9.05" height="1.80" fill="#6078ec"/><rect x="618.20" y="57.30" width="9.05" height="4.60" fill="#d4dbf8"/><rect x="618.20" y="58.70" width="9.05" height="1.80" fill="#3848e0"/><rect x="626.55" y="52.75" width="9.05" height="6.10" fill="#d4dbf8"/><rect x="626.55" y="54.15" width="9.05" height="3.30" fill="#2030e8"/><rect x="634.90" y="50.55" width="9.05" height="6.10" fill="#d4dbf8"/><rect x="634.90" y="51.95" width="9.05" height="3.30" fill="#3030e0"/><rect x="534.70" y="82.80" width="9.05" height="4.40" fill="#d4dbf8"/><rect x="534.70" y="84.00" width="9.05" height="2.00" fill="#6070e8"/><rect x="543.05" y="82.80" width="9.05" height="4.80" fill="#d4dbf8"/><rect x="543.05" y="84.00" width="9.05" height="2.40" fill="#2030d8"/><rect x="551.40" y="83.20" width="9.05" height="4.80" fill="#d4dbf8"/><rect x="551.40" y="84.40" width="9.05" height="2.40" fill="#3040dc"/><rect x="559.75" y="83.20" width="9.05" height="4.80" fill="#d4dbf8"/><rect x="559.75" y="84.40" width="9.05" height="2.40" fill="#4050e0"/><rect x="568.10" y="82.40" width="9.05" height="4.80" fill="#d4dbf8"/><rect x="568.10" y="83.60" width="9.05" height="2.40" fill="#3a48dc"/><rect x="576.45" y="82.00" width="9.05" height="4.80" fill="#d4dbf8"/><rect x="576.45" y="83.20" width="9.05" height="2.40" fill="#3a48dc"/><rect x="584.80" y="81.70" width="9.05" height="4.80" fill="#d4dbf8"/><rect x="584.80" y="82.90" width="9.05" height="2.40" fill="#4050e0"/><rect x="593.15" y="80.90" width="9.05" height="4.80" fill="#d4dbf8"/><rect x="593.15" y="82.10" width="9.05" height="2.40" fill="#4a58e4"/><rect x="601.50" y="78.70" width="9.05" height="4.80" fill="#d4dbf8"/><rect x="601.50" y="79.90" width="9.05" height="2.40" fill="#3a48e0"/><rect x="609.85" y="76.70" width="9.05" height="4.80" fill="#d4dbf8"/><rect x="609.85" y="77.90" width="9.05" height="2.40" fill="#3040e0"/><rect x="618.20" y="74.80" width="9.05" height="4.80" fill="#d4dbf8"/><rect x="618.20" y="76.00" width="9.05" height="2.40" fill="#2c3ce0"/><rect x="626.55" y="71.60" width="9.05" height="4.60" fill="#d4dbf8"/><rect x="626.55" y="72.80" width="9.05" height="2.20" fill="#5068e8"/><rect x="634.90" y="70.00" width="9.05" height="4.40" fill="#d4dbf8"/><rect x="634.90" y="71.20" width="9.05" height="2.00" fill="#90a4f0"/><rect x="501.30" y="148.50" width="9.05" height="58.50" fill="url(#g23)"/><rect x="501.30" y="190.30" width="9.05" height="1.90" fill="#8890b4"/><rect x="509.65" y="148.50" width="9.05" height="59.10" fill="url(#g24)"/><rect x="518.00" y="148.50" width="9.05" height="59.10" fill="url(#g25)"/><rect x="526.35" y="148.50" width="9.05" height="59.10" fill="url(#g26)"/><rect x="534.70" y="148.50" width="9.05" height="59.10" fill="url(#g27)"/><rect x="543.05" y="148.80" width="9.05" height="58.80" fill="url(#g28)"/><rect x="551.40" y="148.80" width="9.05" height="58.80" fill="url(#g29)"/><rect x="559.75" y="148.80" width="9.05" height="58.80" fill="url(#g30)"/><rect x="568.10" y="148.80" width="9.05" height="58.80" fill="url(#g31)"/><rect x="576.45" y="148.80" width="9.05" height="58.80" fill="url(#g32)"/><rect x="584.80" y="148.80" width="9.05" height="58.80" fill="url(#g33)"/><rect x="593.15" y="148.80" width="9.05" height="58.80" fill="url(#g34)"/><rect x="601.50" y="148.80" width="9.05" height="58.80" fill="url(#g35)"/><rect x="609.85" y="148.80" width="9.05" height="58.80" fill="url(#g36)"/><rect x="618.20" y="153.30" width="9.05" height="54.30" fill="url(#g37)"/><rect x="626.55" y="153.30" width="9.05" height="54.30" fill="url(#g38)"/><rect x="634.90" y="153.30" width="9.05" height="54.30" fill="url(#g39)"/><rect x="543.05" y="172.00" width="9.05" height="4.20" fill="#3848e0"/><rect x="543.05" y="172.80" width="9.05" height="2.60" fill="#7040d8"/><rect x="551.40" y="172.61" width="9.05" height="3.40" fill="#b8c4f4"/><rect x="551.40" y="173.51" width="9.05" height="1.60" fill="#1830e0"/><rect x="559.75" y="172.52" width="9.05" height="3.40" fill="#b8c4f4"/><rect x="559.75" y="173.42" width="9.05" height="1.60" fill="#1830e0"/><rect x="568.10" y="172.43" width="9.05" height="3.40" fill="#b8c4f4"/><rect x="568.10" y="173.33" width="9.05" height="1.60" fill="#1830e0"/><rect x="576.45" y="172.34" width="9.05" height="3.40" fill="#b8c4f4"/><rect x="576.45" y="173.24" width="9.05" height="1.60" fill="#1830e0"/><rect x="584.80" y="172.25" width="9.05" height="3.40" fill="#b8c4f4"/><rect x="584.80" y="173.15" width="9.05" height="1.60" fill="#1830e0"/><rect x="593.15" y="172.16" width="9.05" height="3.40" fill="#b8c4f4"/><rect x="593.15" y="173.06" width="9.05" height="1.60" fill="#1830e0"/><rect x="601.50" y="172.07" width="9.05" height="3.40" fill="#b8c4f4"/><rect x="601.50" y="172.97" width="9.05" height="1.60" fill="#1830e0"/><rect x="609.85" y="171.98" width="9.05" height="3.40" fill="#b8c4f4"/><rect x="609.85" y="172.88" width="9.05" height="1.60" fill="#1830e0"/><rect x="618.20" y="171.89" width="9.05" height="3.40" fill="#b8c4f4"/><rect x="618.20" y="172.79" width="9.05" height="1.60" fill="#1830e0"/><rect x="626.55" y="171.70" width="9.05" height="4.80" fill="#c8d2f6"/><rect x="626.55" y="172.70" width="9.05" height="2.80" fill="#a040c0"/><rect x="634.90" y="170.90" width="9.05" height="5.60" fill="#3040e0"/><rect x="634.90" y="171.90" width="9.05" height="3.60" fill="#9a3ac8"/><rect x="643.25" y="152.80" width="9.05" height="54.80" fill="url(#g40)"/><rect x="651.60" y="152.80" width="9.05" height="54.80" fill="url(#g41)"/><rect x="659.95" y="148.50" width="9.05" height="59.10" fill="url(#g42)"/><rect x="668.30" y="148.50" width="9.05" height="59.10" fill="url(#g43)"/><rect x="676.65" y="148.50" width="6.55" height="59.10" fill="url(#g44)"/><rect x="509.65" y="186.70" width="9.05" height="2.10" fill="#1c2ce0"/><rect x="509.65" y="188.80" width="9.05" height="0.80" fill="#e8a878"/><rect x="509.65" y="189.60" width="9.05" height="3.40" fill="#f8d860"/><rect x="509.65" y="193.00" width="9.05" height="0.70" fill="#d89888"/><rect x="509.65" y="193.70" width="9.05" height="2.10" fill="#2030e0"/><rect x="518.00" y="186.70" width="9.05" height="2.10" fill="#1c2ce0"/><rect x="518.00" y="188.80" width="9.05" height="0.80" fill="#e8a878"/><rect x="518.00" y="189.60" width="9.05" height="3.40" fill="#f8d860"/><rect x="518.00" y="193.00" width="9.05" height="0.70" fill="#d89888"/><rect x="518.00" y="193.70" width="9.05" height="2.10" fill="#2030e0"/><rect x="526.35" y="186.70" width="9.05" height="2.10" fill="#1c2ce0"/><rect x="526.35" y="188.80" width="9.05" height="0.80" fill="#e8a878"/><rect x="526.35" y="189.60" width="9.05" height="3.40" fill="#f8d860"/><rect x="526.35" y="193.00" width="9.05" height="0.70" fill="#d89888"/><rect x="526.35" y="193.70" width="9.05" height="2.10" fill="#2030e0"/><rect x="534.70" y="187.60" width="9.05" height="1.50" fill="#4050e0"/><rect x="534.70" y="189.10" width="9.05" height="4.10" fill="#f8d662"/><rect x="534.70" y="193.20" width="9.05" height="1.40" fill="#3848e0"/><rect x="543.05" y="188.40" width="9.05" height="1.20" fill="#4858d8"/><rect x="543.05" y="189.60" width="9.05" height="2.80" fill="#f8d468"/><rect x="543.05" y="192.40" width="9.05" height="1.40" fill="#5a64d0"/><rect x="551.40" y="188.40" width="9.05" height="1.20" fill="#4858d8"/><rect x="551.40" y="189.60" width="9.05" height="2.80" fill="#f8d468"/><rect x="551.40" y="192.40" width="9.05" height="1.40" fill="#5a64d0"/><rect x="559.75" y="188.40" width="9.05" height="1.20" fill="#4858d8"/><rect x="559.75" y="189.60" width="9.05" height="2.80" fill="#f8d468"/><rect x="559.75" y="192.40" width="9.05" height="1.40" fill="#5a64d0"/><rect x="568.10" y="188.40" width="9.05" height="1.20" fill="#4858d8"/><rect x="568.10" y="189.60" width="9.05" height="2.80" fill="#f8d468"/><rect x="568.10" y="192.40" width="9.05" height="1.40" fill="#5a64d0"/><rect x="576.45" y="188.60" width="9.05" height="1.20" fill="#6070d0"/><rect x="576.45" y="189.80" width="9.05" height="2.10" fill="#f4d070"/><rect x="576.45" y="191.90" width="9.05" height="1.30" fill="#a0a0e0"/><rect x="584.80" y="188.20" width="9.05" height="1.40" fill="#c4caf4"/><rect x="584.80" y="189.60" width="9.05" height="0.90" fill="#a48a72"/><rect x="584.80" y="190.50" width="9.05" height="1.40" fill="#f2e8e4"/><rect x="584.80" y="191.90" width="9.05" height="1.30" fill="#b8bcee"/><rect x="593.15" y="188.20" width="9.05" height="1.40" fill="#c4caf4"/><rect x="593.15" y="189.60" width="9.05" height="0.90" fill="#a48a72"/><rect x="593.15" y="190.50" width="9.05" height="1.40" fill="#f2e8e4"/><rect x="593.15" y="191.90" width="9.05" height="1.30" fill="#b8bcee"/><rect x="601.50" y="188.20" width="9.05" height="1.40" fill="#c4caf4"/><rect x="601.50" y="189.60" width="9.05" height="0.90" fill="#a48a72"/><rect x="601.50" y="190.50" width="9.05" height="1.40" fill="#f2e8e4"/><rect x="601.50" y="191.90" width="9.05" height="1.30" fill="#b8bcee"/><rect x="609.85" y="188.20" width="9.05" height="1.40" fill="#c4caf4"/><rect x="609.85" y="189.60" width="9.05" height="0.90" fill="#a48a72"/><rect x="609.85" y="190.50" width="9.05" height="1.40" fill="#f2e8e4"/><rect x="609.85" y="191.90" width="9.05" height="1.30" fill="#b8bcee"/><rect x="618.20" y="188.40" width="9.05" height="1.80" fill="#4040d0"/><rect x="618.20" y="190.20" width="9.05" height="2.20" fill="#f8d468"/><rect x="618.20" y="192.40" width="9.05" height="1.10" fill="#9098e0"/><rect x="626.55" y="188.40" width="9.05" height="1.80" fill="#4040d0"/><rect x="626.55" y="190.20" width="9.05" height="2.20" fill="#f8d468"/><rect x="626.55" y="192.40" width="9.05" height="1.10" fill="#9098e0"/><rect x="634.90" y="188.40" width="9.05" height="1.80" fill="#4040d0"/><rect x="634.90" y="190.20" width="9.05" height="2.20" fill="#f8d468"/><rect x="634.90" y="192.40" width="9.05" height="1.10" fill="#9098e0"/><rect x="643.25" y="188.20" width="9.05" height="1.80" fill="#3030d0"/><rect x="643.25" y="190.00" width="9.05" height="2.50" fill="#f8d468"/><rect x="643.25" y="192.50" width="9.05" height="1.70" fill="#3040d8"/><rect x="651.60" y="188.20" width="9.05" height="1.80" fill="#3030d0"/><rect x="651.60" y="190.00" width="9.05" height="2.50" fill="#f8d468"/><rect x="651.60" y="192.50" width="9.05" height="1.70" fill="#3040d8"/><rect x="659.95" y="188.20" width="9.05" height="1.80" fill="#3030d0"/><rect x="659.95" y="190.00" width="9.05" height="2.50" fill="#f8d468"/><rect x="659.95" y="192.50" width="9.05" height="1.70" fill="#3040d8"/><rect x="668.30" y="188.20" width="9.05" height="1.80" fill="#3030d0"/><rect x="668.30" y="190.00" width="9.05" height="2.50" fill="#f8d468"/><rect x="668.30" y="192.50" width="9.05" height="1.70" fill="#3040d8"/></g>
<line x1="522.9" y1="7.55" x2="522.9" y2="292" stroke="#000" stroke-width="1.8" stroke-dasharray="7.4 6.55"/>
<line x1="656.2" y1="7.55" x2="656.2" y2="98" stroke="#000" stroke-width="1.8" stroke-dasharray="7.4 6.55"/>
<line x1="656.2" y1="155.7" x2="656.2" y2="292" stroke="#000" stroke-width="1.8" stroke-dasharray="7.4 6.6"/>
<line x1="572.0" y1="72" x2="572.0" y2="167" stroke="#111" stroke-width="1.6"/>
<polygon points="572.00,68.30 575.00,73.50 572.00,73.34 569.00,73.50" fill="#000"/>
<polygon points="572.00,172.60 569.30,167.00 572.00,167.17 574.70,167.00" fill="#000"/>
<line x1="572.0" y1="178" x2="572.0" y2="186" stroke="#000" stroke-width="1.5" />
<polygon points="572.00,174.90 574.50,179.50 572.00,179.36 569.50,179.50" fill="#000"/>
<polygon points="572.00,189.00 569.50,184.40 572.00,184.54 574.50,184.40" fill="#000"/>
<text x="562.5" y="186.5" font-size="11.5" text-anchor="middle" fill="#000" font-family='"Liberation Serif", serif' font-style="italic">δ</text>
<text x="548.8" y="131.7" font-size="12" font-family='"Liberation Serif", serif'>Δ<tspan font-size="8" dy="3.4" font-family='"Liberation Sans", sans-serif'>ex</tspan></text>
<text x="613.3" y="55.9" font-size="12.5" text-anchor="middle" fill="#2a2aae" font-family='"Liberation Sans", sans-serif'  stroke="#2a2aae" stroke-width="0.20">S</text>
<text x="613.3" y="99.0" font-size="12.5" text-anchor="middle" fill="#cc1a2e" font-family='"Liberation Sans", sans-serif'  stroke="#cc1a2e" stroke-width="0.20">R</text>
<text x="611.4" y="167.5" font-size="12.3" text-anchor="middle" fill="#2a8c3c" font-family='"Liberation Sans", sans-serif'  stroke="#2a8c3c" stroke-width="0.20">T</text>
<text x="611.2" y="205.5" font-size="12.0" text-anchor="start" fill="#000" font-family='"Liberation Sans", sans-serif'  stroke="#000" stroke-width="0.20">L</text>
<rect x="495.0" y="26.8" width="188.4" height="181.4" fill="none" stroke="#000" stroke-width="1.8"/>
<text x="498.4" y="21.4" font-size="12" text-anchor="start" fill="#000" font-family='"Liberation Sans", sans-serif'  stroke="#000" stroke-width="0.20">1e</text>
<text x="588.5" y="21.5" font-size="12" text-anchor="middle" fill="#000" font-family='"Liberation Sans", sans-serif'  stroke="#000" stroke-width="0.20">2e</text>
<text x="665.0" y="21.5" font-size="12" text-anchor="start" fill="#000" font-family='"Liberation Sans", sans-serif'  stroke="#000" stroke-width="0.20">3e</text>
<line x1="533" y1="17.8" x2="573" y2="17.8" stroke="#6e6e6e" stroke-width="1.9"/>
<line x1="602.8" y1="17.7" x2="645" y2="17.7" stroke="#6e6e6e" stroke-width="1.9"/>
<polygon points="527.50,17.80 535.10,15.20 534.87,17.80 535.10,20.40" fill="#000"/>
<polygon points="651.30,17.70 643.50,20.30 643.73,17.70 643.50,15.10" fill="#000"/>
<line x1="485.7" y1="41.0" x2="495.0" y2="41.0" stroke="#000" stroke-width="1.6" />
<text transform="translate(478.4,45.6) scale(1.1,1)" font-size="12" text-anchor="end" fill="#000" font-family='"Liberation Sans", sans-serif'  stroke="#000" stroke-width="0.20">200</text>
<line x1="485.7" y1="75.5" x2="495.0" y2="75.5" stroke="#000" stroke-width="1.6" />
<text transform="translate(478.4,80.1) scale(1.1,1)" font-size="12" text-anchor="end" fill="#000" font-family='"Liberation Sans", sans-serif'  stroke="#000" stroke-width="0.20">150</text>
<line x1="485.7" y1="109.5" x2="498.3" y2="109.5" stroke="#000" stroke-width="1.6" />
<text transform="translate(478.4,114.1) scale(1.1,1)" font-size="12" text-anchor="end" fill="#000" font-family='"Liberation Sans", sans-serif'  stroke="#000" stroke-width="0.20">100</text>
<line x1="485.7" y1="142.4" x2="495.0" y2="142.4" stroke="#000" stroke-width="1.6" />
<text transform="translate(478.4,147.0) scale(1.1,1)" font-size="12" text-anchor="end" fill="#000" font-family='"Liberation Sans", sans-serif'  stroke="#000" stroke-width="0.20">50</text>
<line x1="485.7" y1="175.7" x2="495.0" y2="175.7" stroke="#000" stroke-width="1.6" />
<text transform="translate(478.4,180.29999999999998) scale(1.1,1)" font-size="12" text-anchor="end" fill="#000" font-family='"Liberation Sans", sans-serif'  stroke="#000" stroke-width="0.20">0</text>
<line x1="485.7" y1="191.9" x2="495.0" y2="191.9" stroke="#000" stroke-width="1.6" />
<text transform="translate(478.4,196.5) scale(1.1,1)" font-size="12" text-anchor="end" fill="#000" font-family='"Liberation Sans", sans-serif'  stroke="#000" stroke-width="0.20">−25</text>
<text transform="translate(441.6,109.9) rotate(-90) scale(1.05,1)" font-size="12.3" text-anchor="middle" fill="#000" font-family='"Liberation Sans", sans-serif'  stroke="#000" stroke-width="0.20">Δ<tspan font-style="italic">E</tspan> (μeV)</text>
<line x1="517.2" y1="26.9" x2="517.2" y2="29.5" stroke="#000" stroke-width="1.2" />
<line x1="517.2" y1="208.2" x2="517.2" y2="205.6" stroke="#000" stroke-width="1.2" />
<line x1="517.2" y1="216.8" x2="517.2" y2="219.4" stroke="#000" stroke-width="1.2" />
<line x1="517.2" y1="290.7" x2="517.2" y2="296.59999999999997" stroke="#000" stroke-width="1.3" />
<line x1="544.6" y1="26.9" x2="544.6" y2="31.5" stroke="#000" stroke-width="1.2" />
<line x1="544.6" y1="208.2" x2="544.6" y2="203.6" stroke="#000" stroke-width="1.2" />
<line x1="544.6" y1="216.8" x2="544.6" y2="221.4" stroke="#000" stroke-width="1.2" />
<line x1="544.6" y1="290.7" x2="544.6" y2="299.5" stroke="#000" stroke-width="1.3" />
<line x1="572.4" y1="26.9" x2="572.4" y2="29.5" stroke="#000" stroke-width="1.2" />
<line x1="572.4" y1="208.2" x2="572.4" y2="205.6" stroke="#000" stroke-width="1.2" />
<line x1="572.4" y1="216.8" x2="572.4" y2="219.4" stroke="#000" stroke-width="1.2" />
<line x1="572.4" y1="290.7" x2="572.4" y2="296.59999999999997" stroke="#000" stroke-width="1.3" />
<line x1="600.6" y1="26.9" x2="600.6" y2="31.5" stroke="#000" stroke-width="1.2" />
<line x1="600.6" y1="208.2" x2="600.6" y2="203.6" stroke="#000" stroke-width="1.2" />
<line x1="600.6" y1="216.8" x2="600.6" y2="221.4" stroke="#000" stroke-width="1.2" />
<line x1="600.6" y1="290.7" x2="600.6" y2="299.5" stroke="#000" stroke-width="1.3" />
<line x1="628.3" y1="26.9" x2="628.3" y2="29.5" stroke="#000" stroke-width="1.2" />
<line x1="628.3" y1="208.2" x2="628.3" y2="205.6" stroke="#000" stroke-width="1.2" />
<line x1="628.3" y1="216.8" x2="628.3" y2="219.4" stroke="#000" stroke-width="1.2" />
<line x1="628.3" y1="290.7" x2="628.3" y2="296.59999999999997" stroke="#000" stroke-width="1.3" />
<line x1="656.1" y1="26.9" x2="656.1" y2="31.5" stroke="#000" stroke-width="1.2" />
<line x1="656.1" y1="208.2" x2="656.1" y2="203.6" stroke="#000" stroke-width="1.2" />
<line x1="656.1" y1="216.8" x2="656.1" y2="221.4" stroke="#000" stroke-width="1.2" />
<line x1="656.1" y1="290.7" x2="656.1" y2="299.5" stroke="#000" stroke-width="1.3" />
<rect x="631.4" y="98.6" width="49.1" height="54.1" fill="#fff" stroke="#000" stroke-width="1.5"/>
<defs><linearGradient id="cb" x1="0" y1="0" x2="0" y2="1"><stop offset="0" stop-color="#f4a81c"/><stop offset="0.15" stop-color="#e65a50"/><stop offset="0.32" stop-color="#c63cc8"/><stop offset="0.5" stop-color="#7a28f0"/><stop offset="0.62" stop-color="#1010f4"/><stop offset="0.78" stop-color="#5c7cf8"/><stop offset="0.92" stop-color="#b8c8fc"/><stop offset="1" stop-color="#eef2ff"/></linearGradient></defs>
<rect x="641.8" y="119.8" width="10.8" height="26.3" fill="url(#cb)"/>
<text x="654.9" y="110.4" font-size="8.3" text-anchor="middle" fill="#000" font-family='"Liberation Sans", sans-serif' >Counts/s</text>
<text x="656.8" y="124.4" font-size="9.6" text-anchor="start" fill="#000" font-family='"Liberation Sans", sans-serif'  stroke="#000" stroke-width="0.08">700</text>
<text x="656.8" y="148.5" font-size="9.6" text-anchor="start" fill="#000" font-family='"Liberation Sans", sans-serif'  stroke="#000" stroke-width="0.08">0</text>
<text x="429.9" y="211.8" font-size="16.8" text-anchor="start" fill="#000" font-family='"Liberation Sans", sans-serif' font-weight="bold">c</text>
<rect x="495.0" y="216.8" width="188.4" height="73.9" fill="none" stroke="#000" stroke-width="1.8"/>
<line x1="485.9" y1="279.4" x2="495" y2="279.4" stroke="#000" stroke-width="1.6" />
<text transform="translate(478.4,283.7) scale(1.1,1)" font-size="12" text-anchor="end" fill="#000" font-family='"Liberation Sans", sans-serif'  stroke="#000" stroke-width="0.20">1</text>
<line x1="485.9" y1="250.64999999999998" x2="495" y2="250.64999999999998" stroke="#000" stroke-width="1.6" />
<text transform="translate(478.4,254.95) scale(1.1,1)" font-size="12" text-anchor="end" fill="#000" font-family='"Liberation Sans", sans-serif'  stroke="#000" stroke-width="0.20">10</text>
<line x1="485.9" y1="221.89999999999998" x2="495" y2="221.89999999999998" stroke="#000" stroke-width="1.6" />
<text transform="translate(478.4,226.2) scale(1.1,1)" font-size="12" text-anchor="end" fill="#000" font-family='"Liberation Sans", sans-serif'  stroke="#000" stroke-width="0.20">100</text>
<line x1="488.8" y1="270.7453876246605" x2="495" y2="270.7453876246605" stroke="#000" stroke-width="1.5" />
<line x1="488.8" y1="262.09077524932104" x2="495" y2="262.09077524932104" stroke="#000" stroke-width="1.5" />
<line x1="488.8" y1="257.0281515514702" x2="495" y2="257.0281515514702" stroke="#000" stroke-width="1.5" />
<line x1="488.8" y1="253.4361628739816" x2="495" y2="253.4361628739816" stroke="#000" stroke-width="1.5" />
<line x1="488.8" y1="241.9953876246605" x2="495" y2="241.9953876246605" stroke="#000" stroke-width="1.5" />
<line x1="488.8" y1="233.34077524932104" x2="495" y2="233.34077524932104" stroke="#000" stroke-width="1.5" />
<line x1="488.8" y1="228.27815155147022" x2="495" y2="228.27815155147022" stroke="#000" stroke-width="1.5" />
<line x1="488.8" y1="224.6861628739816" x2="495" y2="224.6861628739816" stroke="#000" stroke-width="1.5" />
<line x1="488.8" y1="285.7781515514702" x2="495" y2="285.7781515514702" stroke="#000" stroke-width="1.5" />
<line x1="488.8" y1="282.1861628739816" x2="495" y2="282.1861628739816" stroke="#000" stroke-width="1.5" />
<text transform="translate(441.6,260.1) rotate(-90) scale(1.06,1)" font-size="12.3" text-anchor="middle" fill="#000" font-family='"Liberation Sans", sans-serif'  stroke="#000" stroke-width="0.20">FWHM (μeV)</text>
<line x1="497" y1="278.8" x2="682.5" y2="278.8" stroke="#777" stroke-width="1.6" stroke-dasharray="4 2.45"/>
<text x="591.8" y="288.6" font-size="9.8" text-anchor="middle" fill="#888888" font-family='"Liberation Sans", sans-serif'  stroke="#888888" stroke-width="0.09">Resolution</text>
<polygon points="522.2,243.8 530.5,249.7 538.9,259.4 547.2,261.9 555.6,264.9 564.0,266.0 572.3,267.1 580.6,266.9 589.0,266.9 597.4,265.5 605.7,267.4 614.0,266.9 622.4,264.6 630.8,259.4 639.1,254.4 647.5,243.8 655.8,238.8 655.8,245.0 647.5,246.9 639.1,257.7 630.8,261.0 622.4,267.4 614.0,268.3 605.7,271.6 597.4,273.2 589.0,275.7 580.6,272.4 572.3,273.2 564.0,272.4 555.6,271.6 547.2,265.5 538.9,262.7 530.5,248.8 522.2,250.8" fill="#c888d8" opacity="0.22"/>
<polyline points="522.2,250.8 530.5,248.8 538.9,262.7 547.2,265.5 555.6,271.6 564.0,272.4 572.3,273.2 580.6,272.4 589.0,275.7 597.4,273.2 605.7,271.6 614.0,268.3 622.4,267.4 630.8,261.0 639.1,257.7 647.5,246.9 655.8,245.0" fill="none" stroke="#e04050" stroke-width="1"/>
<polyline points="505.5,230.8 513.9,235.0 522.2,243.8 530.5,249.7 538.9,259.4 547.2,261.9 555.6,264.9 564.0,266.0 572.3,267.1 580.6,266.9 589.0,266.9 597.4,265.5 605.7,267.4 614.0,266.9 622.4,264.6 630.8,259.4 639.1,254.4 647.5,243.8 655.8,238.8 664.1,233.9 672.5,231.9" fill="none" stroke="#5050e0" stroke-width="1"/>
<rect x="503.3" y="228.6" width="4.4" height="4.4" fill="#1a1ad8"/>
<rect x="511.7" y="232.8" width="4.4" height="4.4" fill="#1a1ad8"/>
<rect x="520.0" y="241.6" width="4.4" height="4.4" fill="#1a1ad8"/>
<rect x="528.3" y="247.5" width="4.4" height="4.4" fill="#1a1ad8"/>
<rect x="536.7" y="257.2" width="4.4" height="4.4" fill="#1a1ad8"/>
<rect x="545.0" y="259.7" width="4.4" height="4.4" fill="#1a1ad8"/>
<rect x="553.4" y="262.7" width="4.4" height="4.4" fill="#1a1ad8"/>
<rect x="561.8" y="263.8" width="4.4" height="4.4" fill="#1a1ad8"/>
<rect x="570.1" y="264.9" width="4.4" height="4.4" fill="#1a1ad8"/>
<rect x="578.4" y="264.7" width="4.4" height="4.4" fill="#1a1ad8"/>
<rect x="586.8" y="264.7" width="4.4" height="4.4" fill="#1a1ad8"/>
<rect x="595.1" y="263.3" width="4.4" height="4.4" fill="#1a1ad8"/>
<rect x="603.5" y="265.2" width="4.4" height="4.4" fill="#1a1ad8"/>
<rect x="611.8" y="264.7" width="4.4" height="4.4" fill="#1a1ad8"/>
<rect x="620.2" y="262.4" width="4.4" height="4.4" fill="#1a1ad8"/>
<rect x="628.5" y="257.2" width="4.4" height="4.4" fill="#1a1ad8"/>
<rect x="636.9" y="252.2" width="4.4" height="4.4" fill="#1a1ad8"/>
<rect x="645.2" y="241.6" width="4.4" height="4.4" fill="#1a1ad8"/>
<rect x="653.6" y="236.6" width="4.4" height="4.4" fill="#1a1ad8"/>
<rect x="661.9" y="231.7" width="4.4" height="4.4" fill="#1a1ad8"/>
<rect x="670.3" y="229.7" width="4.4" height="4.4" fill="#1a1ad8"/>
<circle cx="522.2" cy="250.8" r="2.65" fill="#e8202a"/>
<circle cx="530.5" cy="248.8" r="2.65" fill="#e8202a"/>
<circle cx="538.9" cy="262.7" r="2.65" fill="#e8202a"/>
<circle cx="547.2" cy="265.5" r="2.65" fill="#e8202a"/>
<circle cx="555.6" cy="271.6" r="2.65" fill="#e8202a"/>
<circle cx="564.0" cy="272.4" r="2.65" fill="#e8202a"/>
<circle cx="572.3" cy="273.2" r="2.65" fill="#e8202a"/>
<circle cx="580.6" cy="272.4" r="2.65" fill="#e8202a"/>
<circle cx="589.0" cy="275.7" r="2.65" fill="#e8202a"/>
<circle cx="597.4" cy="273.2" r="2.65" fill="#e8202a"/>
<circle cx="605.7" cy="271.6" r="2.65" fill="#e8202a"/>
<circle cx="614.0" cy="268.3" r="2.65" fill="#e8202a"/>
<circle cx="622.4" cy="267.4" r="2.65" fill="#e8202a"/>
<circle cx="630.8" cy="261.0" r="2.65" fill="#e8202a"/>
<circle cx="639.1" cy="257.7" r="2.65" fill="#e8202a"/>
<circle cx="647.5" cy="246.9" r="2.65" fill="#e8202a"/>
<circle cx="655.8" cy="245.0" r="2.65" fill="#e8202a"/>
<text x="534.2" y="240.0" font-size="12.5" text-anchor="middle" fill="#2a2aae" font-family='"Liberation Sans", sans-serif'  stroke="#2a2aae" stroke-width="0.20">S</text>
<text x="532.2" y="275.2" font-size="12.5" text-anchor="middle" fill="#cc1a2e" font-family='"Liberation Sans", sans-serif'  stroke="#cc1a2e" stroke-width="0.20">R</text>
<text transform="translate(544.6,316.0) scale(1.09,1)" font-size="12" text-anchor="middle" fill="#000" font-family='"Liberation Sans", sans-serif'  stroke="#000" stroke-width="0.20">−20</text>
<text transform="translate(600.6,316.0) scale(1.09,1)" font-size="12" text-anchor="middle" fill="#000" font-family='"Liberation Sans", sans-serif'  stroke="#000" stroke-width="0.20">0</text>
<text transform="translate(656.1,316.0) scale(1.09,1)" font-size="12" text-anchor="middle" fill="#000" font-family='"Liberation Sans", sans-serif'  stroke="#000" stroke-width="0.20">20</text>
<text transform="translate(586.8,338.1) scale(1.06,1)" font-size="12.3" text-anchor="middle" fill="#000" font-family='"Liberation Sans", sans-serif'  stroke="#000" stroke-width="0.20"><tspan font-style="italic">V</tspan> (mV)</text>
</svg></body></html>
